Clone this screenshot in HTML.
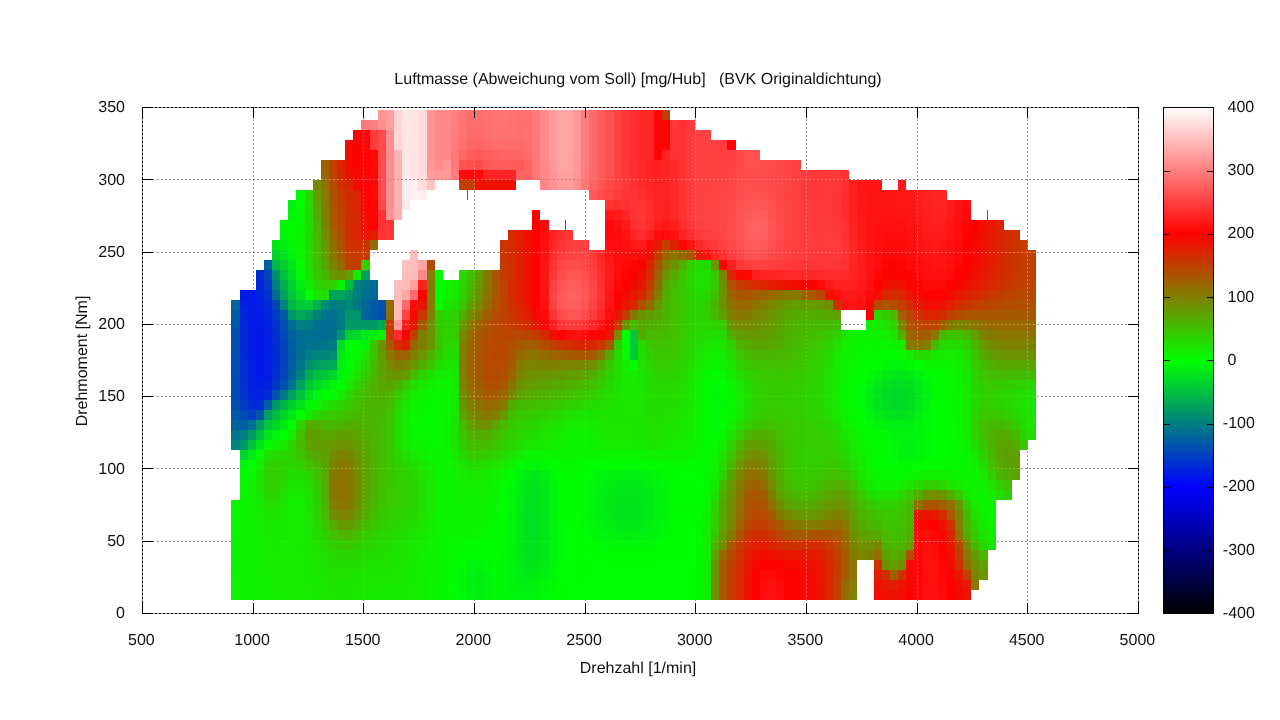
<!DOCTYPE html><html><head><meta charset="utf-8"><title>Luftmasse</title>
<style>html,body{margin:0;padding:0;background:#fff}svg{display:block}text{font-family:"Liberation Sans",sans-serif;font-size:16px;fill:#111;text-rendering:geometricPrecision}</style></head><body>
<svg width="1280" height="720" viewBox="0 0 1280 720">
<rect width="1280" height="720" fill="#fff"/>
<g shape-rendering="crispEdges">
<rect x="378" y="110" width="8" height="10" fill="#ff9797"/>
<rect x="386" y="110" width="8" height="10" fill="#ff9f9f"/>
<rect x="394" y="110" width="8" height="10" fill="#ffd5d5"/>
<rect x="402" y="110" width="8" height="10" fill="#ffe6e6"/>
<rect x="410" y="110" width="8" height="10" fill="#ffe4e4"/>
<rect x="418" y="110" width="9" height="10" fill="#ffdbdb"/>
<rect x="427" y="110" width="8" height="10" fill="#ff9595"/>
<rect x="435" y="110" width="16" height="10" fill="#ff8989"/>
<rect x="451" y="110" width="8" height="10" fill="#ff7e7e"/>
<rect x="459" y="110" width="8" height="10" fill="#ff7474"/>
<rect x="467" y="110" width="16" height="10" fill="#ff6e6e"/>
<rect x="483" y="110" width="9" height="10" fill="#ff7272"/>
<rect x="492" y="110" width="8" height="10" fill="#ff7575"/>
<rect x="500" y="110" width="8" height="10" fill="#ff7676"/>
<rect x="508" y="110" width="8" height="10" fill="#ff7373"/>
<rect x="516" y="110" width="8" height="10" fill="#ff7070"/>
<rect x="524" y="110" width="8" height="10" fill="#ff7171"/>
<rect x="532" y="110" width="8" height="10" fill="#ff7a7a"/>
<rect x="540" y="110" width="9" height="10" fill="#ff8b8b"/>
<rect x="549" y="110" width="8" height="10" fill="#ff9c9c"/>
<rect x="557" y="110" width="8" height="10" fill="#ffa7a7"/>
<rect x="565" y="110" width="8" height="10" fill="#ffa6a6"/>
<rect x="573" y="110" width="8" height="10" fill="#ff9898"/>
<rect x="581" y="110" width="8" height="10" fill="#ff7e7e"/>
<rect x="589" y="110" width="8" height="10" fill="#ff6b6b"/>
<rect x="597" y="110" width="8" height="10" fill="#ff5d5d"/>
<rect x="605" y="110" width="9" height="10" fill="#ff5050"/>
<rect x="614" y="110" width="8" height="10" fill="#ff4343"/>
<rect x="622" y="110" width="8" height="10" fill="#ff3737"/>
<rect x="630" y="110" width="8" height="10" fill="#ff2e2e"/>
<rect x="638" y="110" width="8" height="10" fill="#ff2626"/>
<rect x="646" y="110" width="8" height="10" fill="#ff2727"/>
<rect x="654" y="110" width="8" height="10" fill="#ff0404"/>
<rect x="662" y="110" width="8" height="10" fill="#bf4000"/>
<rect x="361" y="120" width="9" height="10" fill="#ff7b7b"/>
<rect x="370" y="120" width="8" height="10" fill="#ff8181"/>
<rect x="378" y="120" width="8" height="10" fill="#ff8f8f"/>
<rect x="386" y="120" width="8" height="10" fill="#ff9c9c"/>
<rect x="394" y="120" width="8" height="10" fill="#ffd6d6"/>
<rect x="402" y="120" width="8" height="10" fill="#ffe6e6"/>
<rect x="410" y="120" width="8" height="10" fill="#ffe4e4"/>
<rect x="418" y="120" width="9" height="10" fill="#ffdbdb"/>
<rect x="427" y="120" width="8" height="10" fill="#ff9595"/>
<rect x="435" y="120" width="16" height="10" fill="#ff8989"/>
<rect x="451" y="120" width="8" height="10" fill="#ff7e7e"/>
<rect x="459" y="120" width="8" height="10" fill="#ff7373"/>
<rect x="467" y="120" width="8" height="10" fill="#ff6e6e"/>
<rect x="475" y="120" width="8" height="10" fill="#ff6d6d"/>
<rect x="483" y="120" width="9" height="10" fill="#ff7171"/>
<rect x="492" y="120" width="8" height="10" fill="#ff7474"/>
<rect x="500" y="120" width="8" height="10" fill="#ff7575"/>
<rect x="508" y="120" width="8" height="10" fill="#ff7272"/>
<rect x="516" y="120" width="8" height="10" fill="#ff6f6f"/>
<rect x="524" y="120" width="8" height="10" fill="#ff7171"/>
<rect x="532" y="120" width="8" height="10" fill="#ff7a7a"/>
<rect x="540" y="120" width="9" height="10" fill="#ff8b8b"/>
<rect x="549" y="120" width="8" height="10" fill="#ff9c9c"/>
<rect x="557" y="120" width="8" height="10" fill="#ffa7a7"/>
<rect x="565" y="120" width="8" height="10" fill="#ffa6a6"/>
<rect x="573" y="120" width="8" height="10" fill="#ff9898"/>
<rect x="581" y="120" width="8" height="10" fill="#ff7e7e"/>
<rect x="589" y="120" width="8" height="10" fill="#ff6b6b"/>
<rect x="597" y="120" width="8" height="10" fill="#ff5d5d"/>
<rect x="605" y="120" width="9" height="10" fill="#ff5050"/>
<rect x="614" y="120" width="8" height="10" fill="#ff4343"/>
<rect x="622" y="120" width="8" height="10" fill="#ff3737"/>
<rect x="630" y="120" width="8" height="10" fill="#ff2e2e"/>
<rect x="638" y="120" width="8" height="10" fill="#ff2626"/>
<rect x="646" y="120" width="8" height="10" fill="#ff2727"/>
<rect x="654" y="120" width="8" height="10" fill="#ff0404"/>
<rect x="662" y="120" width="8" height="10" fill="#f90600"/>
<rect x="670" y="120" width="9" height="10" fill="#ff3737"/>
<rect x="679" y="120" width="8" height="10" fill="#ff3131"/>
<rect x="687" y="120" width="8" height="10" fill="#ff3a3a"/>
<rect x="353" y="130" width="8" height="10" fill="#fb0400"/>
<rect x="361" y="130" width="9" height="10" fill="#ff0505"/>
<rect x="370" y="130" width="8" height="10" fill="#ff3c3c"/>
<rect x="378" y="130" width="8" height="10" fill="#ff4b4b"/>
<rect x="386" y="130" width="8" height="10" fill="#ff8f8f"/>
<rect x="394" y="130" width="8" height="10" fill="#ffd7d7"/>
<rect x="402" y="130" width="8" height="10" fill="#ffe6e6"/>
<rect x="410" y="130" width="8" height="10" fill="#ffe4e4"/>
<rect x="418" y="130" width="9" height="10" fill="#ffdbdb"/>
<rect x="427" y="130" width="8" height="10" fill="#ff9595"/>
<rect x="435" y="130" width="16" height="10" fill="#ff8989"/>
<rect x="451" y="130" width="8" height="10" fill="#ff7d7d"/>
<rect x="459" y="130" width="8" height="10" fill="#ff7272"/>
<rect x="467" y="130" width="16" height="10" fill="#ff6b6b"/>
<rect x="483" y="130" width="9" height="10" fill="#ff6e6e"/>
<rect x="492" y="130" width="16" height="10" fill="#ff7272"/>
<rect x="508" y="130" width="8" height="10" fill="#ff7070"/>
<rect x="516" y="130" width="8" height="10" fill="#ff6d6d"/>
<rect x="524" y="130" width="8" height="10" fill="#ff7070"/>
<rect x="532" y="130" width="8" height="10" fill="#ff7a7a"/>
<rect x="540" y="130" width="9" height="10" fill="#ff8b8b"/>
<rect x="549" y="130" width="8" height="10" fill="#ff9c9c"/>
<rect x="557" y="130" width="8" height="10" fill="#ffa7a7"/>
<rect x="565" y="130" width="8" height="10" fill="#ffa6a6"/>
<rect x="573" y="130" width="8" height="10" fill="#ff9898"/>
<rect x="581" y="130" width="8" height="10" fill="#ff7e7e"/>
<rect x="589" y="130" width="8" height="10" fill="#ff6b6b"/>
<rect x="597" y="130" width="8" height="10" fill="#ff5d5d"/>
<rect x="605" y="130" width="9" height="10" fill="#ff5050"/>
<rect x="614" y="130" width="8" height="10" fill="#ff4343"/>
<rect x="622" y="130" width="8" height="10" fill="#ff3737"/>
<rect x="630" y="130" width="8" height="10" fill="#ff2e2e"/>
<rect x="638" y="130" width="16" height="10" fill="#ff2727"/>
<rect x="654" y="130" width="8" height="10" fill="#ff0404"/>
<rect x="662" y="130" width="8" height="10" fill="#f90600"/>
<rect x="670" y="130" width="9" height="10" fill="#ff3636"/>
<rect x="679" y="130" width="8" height="10" fill="#ff3333"/>
<rect x="687" y="130" width="8" height="10" fill="#ff3b3b"/>
<rect x="695" y="130" width="8" height="10" fill="#ff3f3f"/>
<rect x="703" y="130" width="8" height="10" fill="#ff4141"/>
<rect x="345" y="140" width="8" height="10" fill="#f50a00"/>
<rect x="353" y="140" width="8" height="10" fill="#fa0500"/>
<rect x="361" y="140" width="9" height="10" fill="#ff0505"/>
<rect x="370" y="140" width="8" height="10" fill="#ff3a3a"/>
<rect x="378" y="140" width="8" height="10" fill="#ff4a4a"/>
<rect x="386" y="140" width="8" height="10" fill="#ff8d8d"/>
<rect x="394" y="140" width="8" height="10" fill="#ffd5d5"/>
<rect x="402" y="140" width="8" height="10" fill="#ffe6e6"/>
<rect x="410" y="140" width="8" height="10" fill="#ffe4e4"/>
<rect x="418" y="140" width="9" height="10" fill="#ffdbdb"/>
<rect x="427" y="140" width="8" height="10" fill="#ff9595"/>
<rect x="435" y="140" width="8" height="10" fill="#ff8989"/>
<rect x="443" y="140" width="8" height="10" fill="#ff8888"/>
<rect x="451" y="140" width="8" height="10" fill="#ff7b7b"/>
<rect x="459" y="140" width="8" height="10" fill="#ff6e6e"/>
<rect x="467" y="140" width="8" height="10" fill="#ff6666"/>
<rect x="475" y="140" width="8" height="10" fill="#ff6464"/>
<rect x="483" y="140" width="9" height="10" fill="#ff6868"/>
<rect x="492" y="140" width="8" height="10" fill="#ff6b6b"/>
<rect x="500" y="140" width="8" height="10" fill="#ff6c6c"/>
<rect x="508" y="140" width="8" height="10" fill="#ff6b6b"/>
<rect x="516" y="140" width="8" height="10" fill="#ff6a6a"/>
<rect x="524" y="140" width="8" height="10" fill="#ff6d6d"/>
<rect x="532" y="140" width="8" height="10" fill="#ff7979"/>
<rect x="540" y="140" width="9" height="10" fill="#ff8b8b"/>
<rect x="549" y="140" width="8" height="10" fill="#ff9c9c"/>
<rect x="557" y="140" width="8" height="10" fill="#ffa7a7"/>
<rect x="565" y="140" width="8" height="10" fill="#ffa6a6"/>
<rect x="573" y="140" width="8" height="10" fill="#ff9898"/>
<rect x="581" y="140" width="8" height="10" fill="#ff7e7e"/>
<rect x="589" y="140" width="8" height="10" fill="#ff6b6b"/>
<rect x="597" y="140" width="8" height="10" fill="#ff5d5d"/>
<rect x="605" y="140" width="9" height="10" fill="#ff5050"/>
<rect x="614" y="140" width="8" height="10" fill="#ff4343"/>
<rect x="622" y="140" width="8" height="10" fill="#ff3737"/>
<rect x="630" y="140" width="8" height="10" fill="#ff2e2e"/>
<rect x="638" y="140" width="8" height="10" fill="#ff2727"/>
<rect x="646" y="140" width="8" height="10" fill="#ff2828"/>
<rect x="654" y="140" width="8" height="10" fill="#ff0404"/>
<rect x="662" y="140" width="8" height="10" fill="#f90600"/>
<rect x="670" y="140" width="17" height="10" fill="#ff3434"/>
<rect x="687" y="140" width="8" height="10" fill="#ff3c3c"/>
<rect x="695" y="140" width="8" height="10" fill="#ff4040"/>
<rect x="703" y="140" width="8" height="10" fill="#ff4141"/>
<rect x="711" y="140" width="8" height="10" fill="#ff3e3e"/>
<rect x="719" y="140" width="8" height="10" fill="#ff3b3b"/>
<rect x="727" y="140" width="9" height="10" fill="#ff0606"/>
<rect x="345" y="150" width="8" height="10" fill="#f40b00"/>
<rect x="353" y="150" width="8" height="10" fill="#fa0500"/>
<rect x="361" y="150" width="9" height="10" fill="#ff0404"/>
<rect x="370" y="150" width="8" height="10" fill="#ff0808"/>
<rect x="378" y="150" width="8" height="10" fill="#ff4c4c"/>
<rect x="386" y="150" width="8" height="10" fill="#ff8f8f"/>
<rect x="394" y="150" width="8" height="10" fill="#ffb3b3"/>
<rect x="402" y="150" width="8" height="10" fill="#ffe7e7"/>
<rect x="410" y="150" width="8" height="10" fill="#ffe4e4"/>
<rect x="418" y="150" width="9" height="10" fill="#ffdbdb"/>
<rect x="427" y="150" width="8" height="10" fill="#ff9595"/>
<rect x="435" y="150" width="8" height="10" fill="#ff8989"/>
<rect x="443" y="150" width="8" height="10" fill="#ff8888"/>
<rect x="451" y="150" width="8" height="10" fill="#ff7878"/>
<rect x="459" y="150" width="8" height="10" fill="#ff6666"/>
<rect x="467" y="150" width="8" height="10" fill="#ff5c5c"/>
<rect x="475" y="150" width="8" height="10" fill="#ff5a5a"/>
<rect x="483" y="150" width="9" height="10" fill="#ff5d5d"/>
<rect x="492" y="150" width="8" height="10" fill="#ff6161"/>
<rect x="500" y="150" width="16" height="10" fill="#ff6363"/>
<rect x="516" y="150" width="8" height="10" fill="#ff6565"/>
<rect x="524" y="150" width="8" height="10" fill="#ff6b6b"/>
<rect x="532" y="150" width="8" height="10" fill="#ff7878"/>
<rect x="540" y="150" width="9" height="10" fill="#ff8a8a"/>
<rect x="549" y="150" width="8" height="10" fill="#ff9c9c"/>
<rect x="557" y="150" width="8" height="10" fill="#ffa6a6"/>
<rect x="565" y="150" width="8" height="10" fill="#ffa5a5"/>
<rect x="573" y="150" width="8" height="10" fill="#ff9898"/>
<rect x="581" y="150" width="8" height="10" fill="#ff7e7e"/>
<rect x="589" y="150" width="8" height="10" fill="#ff6b6b"/>
<rect x="597" y="150" width="8" height="10" fill="#ff5d5d"/>
<rect x="605" y="150" width="9" height="10" fill="#ff5050"/>
<rect x="614" y="150" width="8" height="10" fill="#ff4343"/>
<rect x="622" y="150" width="8" height="10" fill="#ff3737"/>
<rect x="630" y="150" width="8" height="10" fill="#ff2e2e"/>
<rect x="638" y="150" width="8" height="10" fill="#ff2727"/>
<rect x="646" y="150" width="8" height="10" fill="#ff2828"/>
<rect x="654" y="150" width="8" height="10" fill="#ff0404"/>
<rect x="662" y="150" width="8" height="10" fill="#ff2323"/>
<rect x="670" y="150" width="9" height="10" fill="#ff3232"/>
<rect x="679" y="150" width="8" height="10" fill="#ff3535"/>
<rect x="687" y="150" width="8" height="10" fill="#ff3c3c"/>
<rect x="695" y="150" width="8" height="10" fill="#ff4040"/>
<rect x="703" y="150" width="8" height="10" fill="#ff4141"/>
<rect x="711" y="150" width="8" height="10" fill="#ff3f3f"/>
<rect x="719" y="150" width="8" height="10" fill="#ff3e3e"/>
<rect x="727" y="150" width="9" height="10" fill="#ff4040"/>
<rect x="736" y="150" width="8" height="10" fill="#ff4747"/>
<rect x="744" y="150" width="8" height="10" fill="#ff4f4f"/>
<rect x="752" y="150" width="8" height="10" fill="#ff5151"/>
<rect x="321" y="160" width="8" height="10" fill="#9e6100"/>
<rect x="329" y="160" width="8" height="10" fill="#c03f00"/>
<rect x="337" y="160" width="8" height="10" fill="#de2100"/>
<rect x="345" y="160" width="8" height="10" fill="#f20d00"/>
<rect x="353" y="160" width="8" height="10" fill="#fa0500"/>
<rect x="361" y="160" width="9" height="10" fill="#ff0303"/>
<rect x="370" y="160" width="8" height="10" fill="#ff0707"/>
<rect x="378" y="160" width="8" height="10" fill="#ff4d4d"/>
<rect x="386" y="160" width="8" height="10" fill="#ff9090"/>
<rect x="394" y="160" width="8" height="10" fill="#ffb0b0"/>
<rect x="402" y="160" width="8" height="10" fill="#ffe8e8"/>
<rect x="410" y="160" width="8" height="10" fill="#ffe4e4"/>
<rect x="418" y="160" width="9" height="10" fill="#ffdbdb"/>
<rect x="427" y="160" width="8" height="10" fill="#ff9797"/>
<rect x="435" y="160" width="8" height="10" fill="#ff8c8c"/>
<rect x="443" y="160" width="8" height="10" fill="#ff9797"/>
<rect x="451" y="160" width="8" height="10" fill="#ff7a7a"/>
<rect x="459" y="160" width="8" height="10" fill="#ff5454"/>
<rect x="467" y="160" width="8" height="10" fill="#ff4e4e"/>
<rect x="475" y="160" width="8" height="10" fill="#ff4a4a"/>
<rect x="483" y="160" width="9" height="10" fill="#ff5858"/>
<rect x="492" y="160" width="8" height="10" fill="#ff5b5b"/>
<rect x="500" y="160" width="8" height="10" fill="#ff5c5c"/>
<rect x="508" y="160" width="8" height="10" fill="#ff5b5b"/>
<rect x="516" y="160" width="8" height="10" fill="#ff5a5a"/>
<rect x="524" y="160" width="8" height="10" fill="#ff6262"/>
<rect x="532" y="160" width="8" height="10" fill="#ff7777"/>
<rect x="540" y="160" width="9" height="10" fill="#ff8989"/>
<rect x="549" y="160" width="8" height="10" fill="#ff9999"/>
<rect x="557" y="160" width="8" height="10" fill="#ffa4a4"/>
<rect x="565" y="160" width="8" height="10" fill="#ffa3a3"/>
<rect x="573" y="160" width="8" height="10" fill="#ff9696"/>
<rect x="581" y="160" width="8" height="10" fill="#ff7e7e"/>
<rect x="589" y="160" width="8" height="10" fill="#ff6b6b"/>
<rect x="597" y="160" width="8" height="10" fill="#ff5d5d"/>
<rect x="605" y="160" width="9" height="10" fill="#ff5050"/>
<rect x="614" y="160" width="8" height="10" fill="#ff4343"/>
<rect x="622" y="160" width="8" height="10" fill="#ff3737"/>
<rect x="630" y="160" width="8" height="10" fill="#ff2e2e"/>
<rect x="638" y="160" width="8" height="10" fill="#ff2828"/>
<rect x="646" y="160" width="8" height="10" fill="#ff2323"/>
<rect x="654" y="160" width="8" height="10" fill="#ff2020"/>
<rect x="662" y="160" width="8" height="10" fill="#ff2424"/>
<rect x="670" y="160" width="9" height="10" fill="#ff2c2c"/>
<rect x="679" y="160" width="8" height="10" fill="#ff3535"/>
<rect x="687" y="160" width="8" height="10" fill="#ff3c3c"/>
<rect x="695" y="160" width="8" height="10" fill="#ff4141"/>
<rect x="703" y="160" width="8" height="10" fill="#ff4242"/>
<rect x="711" y="160" width="8" height="10" fill="#ff4141"/>
<rect x="719" y="160" width="8" height="10" fill="#ff4040"/>
<rect x="727" y="160" width="9" height="10" fill="#ff4343"/>
<rect x="736" y="160" width="8" height="10" fill="#ff4949"/>
<rect x="744" y="160" width="8" height="10" fill="#ff4e4e"/>
<rect x="752" y="160" width="8" height="10" fill="#ff4f4f"/>
<rect x="760" y="160" width="8" height="10" fill="#ff4d4d"/>
<rect x="768" y="160" width="8" height="10" fill="#ff4b4b"/>
<rect x="776" y="160" width="8" height="10" fill="#ff4949"/>
<rect x="784" y="160" width="8" height="10" fill="#ff4646"/>
<rect x="792" y="160" width="9" height="10" fill="#ff4242"/>
<rect x="321" y="170" width="8" height="10" fill="#976800"/>
<rect x="329" y="170" width="8" height="10" fill="#ba4500"/>
<rect x="337" y="170" width="8" height="10" fill="#d62900"/>
<rect x="345" y="170" width="8" height="10" fill="#ef1000"/>
<rect x="353" y="170" width="8" height="10" fill="#f90600"/>
<rect x="361" y="170" width="9" height="10" fill="#ff0303"/>
<rect x="370" y="170" width="8" height="10" fill="#ff0707"/>
<rect x="378" y="170" width="8" height="10" fill="#ff4d4d"/>
<rect x="386" y="170" width="8" height="10" fill="#ff9090"/>
<rect x="394" y="170" width="8" height="10" fill="#ffb0b0"/>
<rect x="402" y="170" width="8" height="10" fill="#ffe9e9"/>
<rect x="410" y="170" width="8" height="10" fill="#ffe6e6"/>
<rect x="418" y="170" width="9" height="10" fill="#ffdbdb"/>
<rect x="427" y="170" width="8" height="10" fill="#ff9c9c"/>
<rect x="435" y="170" width="8" height="10" fill="#ff9898"/>
<rect x="443" y="170" width="8" height="10" fill="#ff9999"/>
<rect x="451" y="170" width="8" height="10" fill="#ff7c7c"/>
<rect x="459" y="170" width="24" height="10" fill="#ff0909"/>
<rect x="483" y="170" width="33" height="10" fill="#ff2424"/>
<rect x="516" y="170" width="8" height="10" fill="#ff6262"/>
<rect x="524" y="170" width="8" height="10" fill="#ff6464"/>
<rect x="532" y="170" width="8" height="10" fill="#ff7878"/>
<rect x="540" y="170" width="9" height="10" fill="#ff8888"/>
<rect x="549" y="170" width="8" height="10" fill="#ff9696"/>
<rect x="557" y="170" width="16" height="10" fill="#ffa0a0"/>
<rect x="573" y="170" width="8" height="10" fill="#ff9494"/>
<rect x="581" y="170" width="8" height="10" fill="#ff7c7c"/>
<rect x="589" y="170" width="8" height="10" fill="#ff6969"/>
<rect x="597" y="170" width="8" height="10" fill="#ff5b5b"/>
<rect x="605" y="170" width="9" height="10" fill="#ff4e4e"/>
<rect x="614" y="170" width="8" height="10" fill="#ff4242"/>
<rect x="622" y="170" width="8" height="10" fill="#ff3737"/>
<rect x="630" y="170" width="8" height="10" fill="#ff2f2f"/>
<rect x="638" y="170" width="8" height="10" fill="#ff2929"/>
<rect x="646" y="170" width="8" height="10" fill="#ff2323"/>
<rect x="654" y="170" width="8" height="10" fill="#ff2121"/>
<rect x="662" y="170" width="8" height="10" fill="#ff2424"/>
<rect x="670" y="170" width="9" height="10" fill="#ff2c2c"/>
<rect x="679" y="170" width="8" height="10" fill="#ff3535"/>
<rect x="687" y="170" width="8" height="10" fill="#ff3c3c"/>
<rect x="695" y="170" width="8" height="10" fill="#ff4141"/>
<rect x="703" y="170" width="24" height="10" fill="#ff4242"/>
<rect x="727" y="170" width="9" height="10" fill="#ff4646"/>
<rect x="736" y="170" width="8" height="10" fill="#ff4a4a"/>
<rect x="744" y="170" width="16" height="10" fill="#ff4d4d"/>
<rect x="760" y="170" width="8" height="10" fill="#ff4c4c"/>
<rect x="768" y="170" width="8" height="10" fill="#ff4a4a"/>
<rect x="776" y="170" width="8" height="10" fill="#ff4848"/>
<rect x="784" y="170" width="8" height="10" fill="#ff4545"/>
<rect x="792" y="170" width="9" height="10" fill="#ff4141"/>
<rect x="801" y="170" width="8" height="10" fill="#ff3b3b"/>
<rect x="809" y="170" width="16" height="10" fill="#ff3737"/>
<rect x="825" y="170" width="8" height="10" fill="#ff3838"/>
<rect x="833" y="170" width="8" height="10" fill="#ff3737"/>
<rect x="841" y="170" width="8" height="10" fill="#ff3131"/>
<rect x="313" y="180" width="8" height="10" fill="#748b00"/>
<rect x="321" y="180" width="8" height="10" fill="#8f7000"/>
<rect x="329" y="180" width="8" height="10" fill="#b34c00"/>
<rect x="337" y="180" width="8" height="10" fill="#ce3100"/>
<rect x="345" y="180" width="8" height="10" fill="#db2400"/>
<rect x="353" y="180" width="8" height="10" fill="#f60900"/>
<rect x="361" y="180" width="9" height="10" fill="#ff0303"/>
<rect x="370" y="180" width="8" height="10" fill="#ff0707"/>
<rect x="378" y="180" width="8" height="10" fill="#ff4d4d"/>
<rect x="386" y="180" width="8" height="10" fill="#ff9090"/>
<rect x="394" y="180" width="8" height="10" fill="#ffb0b0"/>
<rect x="402" y="180" width="8" height="10" fill="#ffecec"/>
<rect x="410" y="180" width="8" height="10" fill="#ffefef"/>
<rect x="418" y="180" width="9" height="10" fill="#ffdede"/>
<rect x="427" y="180" width="8" height="10" fill="#ffc1c1"/>
<rect x="459" y="180" width="16" height="10" fill="#bf4000"/>
<rect x="475" y="180" width="41" height="10" fill="#ed1200"/>
<rect x="540" y="180" width="9" height="10" fill="#ff8686"/>
<rect x="549" y="180" width="8" height="10" fill="#ff9292"/>
<rect x="557" y="180" width="8" height="10" fill="#ff9b9b"/>
<rect x="565" y="180" width="8" height="10" fill="#ff9c9c"/>
<rect x="573" y="180" width="8" height="10" fill="#ff9090"/>
<rect x="581" y="180" width="8" height="10" fill="#ff7979"/>
<rect x="589" y="180" width="8" height="10" fill="#ff6464"/>
<rect x="597" y="180" width="8" height="10" fill="#ff5656"/>
<rect x="605" y="180" width="9" height="10" fill="#ff4a4a"/>
<rect x="614" y="180" width="8" height="10" fill="#ff4040"/>
<rect x="622" y="180" width="8" height="10" fill="#ff3737"/>
<rect x="630" y="180" width="8" height="10" fill="#ff3030"/>
<rect x="638" y="180" width="8" height="10" fill="#ff2b2b"/>
<rect x="646" y="180" width="8" height="10" fill="#ff2525"/>
<rect x="654" y="180" width="8" height="10" fill="#ff2121"/>
<rect x="662" y="180" width="8" height="10" fill="#ff2323"/>
<rect x="670" y="180" width="9" height="10" fill="#ff2b2b"/>
<rect x="679" y="180" width="8" height="10" fill="#ff3535"/>
<rect x="687" y="180" width="8" height="10" fill="#ff3c3c"/>
<rect x="695" y="180" width="8" height="10" fill="#ff4141"/>
<rect x="703" y="180" width="16" height="10" fill="#ff4343"/>
<rect x="719" y="180" width="8" height="10" fill="#ff4444"/>
<rect x="727" y="180" width="9" height="10" fill="#ff4747"/>
<rect x="736" y="180" width="8" height="10" fill="#ff4b4b"/>
<rect x="744" y="180" width="16" height="10" fill="#ff4e4e"/>
<rect x="760" y="180" width="8" height="10" fill="#ff4d4d"/>
<rect x="768" y="180" width="8" height="10" fill="#ff4a4a"/>
<rect x="776" y="180" width="8" height="10" fill="#ff4747"/>
<rect x="784" y="180" width="8" height="10" fill="#ff4444"/>
<rect x="792" y="180" width="9" height="10" fill="#ff3f3f"/>
<rect x="801" y="180" width="8" height="10" fill="#ff3a3a"/>
<rect x="809" y="180" width="16" height="10" fill="#ff3737"/>
<rect x="825" y="180" width="8" height="10" fill="#ff3838"/>
<rect x="833" y="180" width="8" height="10" fill="#ff3636"/>
<rect x="841" y="180" width="8" height="10" fill="#ff2e2e"/>
<rect x="849" y="180" width="8" height="10" fill="#ff2020"/>
<rect x="857" y="180" width="9" height="10" fill="#ff1616"/>
<rect x="866" y="180" width="16" height="10" fill="#ff1313"/>
<rect x="898" y="180" width="8" height="10" fill="#ff1717"/>
<rect x="296" y="190" width="9" height="10" fill="#00fb04"/>
<rect x="305" y="190" width="8" height="10" fill="#2dd200"/>
<rect x="313" y="190" width="8" height="10" fill="#649b00"/>
<rect x="321" y="190" width="8" height="10" fill="#887700"/>
<rect x="329" y="190" width="8" height="10" fill="#ad5200"/>
<rect x="337" y="190" width="8" height="10" fill="#c63900"/>
<rect x="345" y="190" width="8" height="10" fill="#d32c00"/>
<rect x="353" y="190" width="8" height="10" fill="#dd2200"/>
<rect x="361" y="190" width="9" height="10" fill="#ff0303"/>
<rect x="370" y="190" width="8" height="10" fill="#ff0707"/>
<rect x="378" y="190" width="8" height="10" fill="#ff4d4d"/>
<rect x="386" y="190" width="8" height="10" fill="#ff9090"/>
<rect x="394" y="190" width="8" height="10" fill="#ffafaf"/>
<rect x="402" y="190" width="8" height="10" fill="#ffeded"/>
<rect x="410" y="190" width="8" height="10" fill="#fff2f2"/>
<rect x="418" y="190" width="9" height="10" fill="#ffefef"/>
<rect x="589" y="190" width="8" height="10" fill="#ff5a5a"/>
<rect x="597" y="190" width="8" height="10" fill="#ff4d4d"/>
<rect x="605" y="190" width="9" height="10" fill="#ff4242"/>
<rect x="614" y="190" width="8" height="10" fill="#ff3a3a"/>
<rect x="622" y="190" width="8" height="10" fill="#ff3535"/>
<rect x="630" y="190" width="8" height="10" fill="#ff3333"/>
<rect x="638" y="190" width="8" height="10" fill="#ff2f2f"/>
<rect x="646" y="190" width="8" height="10" fill="#ff2828"/>
<rect x="654" y="190" width="16" height="10" fill="#ff2222"/>
<rect x="670" y="190" width="9" height="10" fill="#ff2a2a"/>
<rect x="679" y="190" width="8" height="10" fill="#ff3434"/>
<rect x="687" y="190" width="8" height="10" fill="#ff3d3d"/>
<rect x="695" y="190" width="8" height="10" fill="#ff4242"/>
<rect x="703" y="190" width="16" height="10" fill="#ff4444"/>
<rect x="719" y="190" width="8" height="10" fill="#ff4545"/>
<rect x="727" y="190" width="9" height="10" fill="#ff4848"/>
<rect x="736" y="190" width="8" height="10" fill="#ff4d4d"/>
<rect x="744" y="190" width="8" height="10" fill="#ff5151"/>
<rect x="752" y="190" width="8" height="10" fill="#ff5252"/>
<rect x="760" y="190" width="8" height="10" fill="#ff5050"/>
<rect x="768" y="190" width="8" height="10" fill="#ff4c4c"/>
<rect x="776" y="190" width="8" height="10" fill="#ff4848"/>
<rect x="784" y="190" width="8" height="10" fill="#ff4343"/>
<rect x="792" y="190" width="9" height="10" fill="#ff3f3f"/>
<rect x="801" y="190" width="8" height="10" fill="#ff3a3a"/>
<rect x="809" y="190" width="16" height="10" fill="#ff3737"/>
<rect x="825" y="190" width="8" height="10" fill="#ff3838"/>
<rect x="833" y="190" width="8" height="10" fill="#ff3535"/>
<rect x="841" y="190" width="8" height="10" fill="#ff2c2c"/>
<rect x="849" y="190" width="8" height="10" fill="#ff1e1e"/>
<rect x="857" y="190" width="9" height="10" fill="#ff1616"/>
<rect x="866" y="190" width="24" height="10" fill="#ff1313"/>
<rect x="890" y="190" width="8" height="10" fill="#ff1515"/>
<rect x="898" y="190" width="8" height="10" fill="#ff1616"/>
<rect x="906" y="190" width="8" height="10" fill="#ff1818"/>
<rect x="914" y="190" width="9" height="10" fill="#ff1c1c"/>
<rect x="923" y="190" width="8" height="10" fill="#ff2121"/>
<rect x="931" y="190" width="8" height="10" fill="#ff2525"/>
<rect x="939" y="190" width="8" height="10" fill="#ff2626"/>
<rect x="288" y="200" width="8" height="10" fill="#00f00f"/>
<rect x="296" y="200" width="9" height="10" fill="#01fe00"/>
<rect x="305" y="200" width="8" height="10" fill="#26d900"/>
<rect x="313" y="200" width="8" height="10" fill="#5aa500"/>
<rect x="321" y="200" width="8" height="10" fill="#837c00"/>
<rect x="329" y="200" width="8" height="10" fill="#aa5500"/>
<rect x="337" y="200" width="8" height="10" fill="#c23d00"/>
<rect x="345" y="200" width="8" height="10" fill="#d12e00"/>
<rect x="353" y="200" width="8" height="10" fill="#db2400"/>
<rect x="361" y="200" width="9" height="10" fill="#ff0000"/>
<rect x="370" y="200" width="8" height="10" fill="#ff0606"/>
<rect x="378" y="200" width="8" height="10" fill="#ff4949"/>
<rect x="386" y="200" width="8" height="10" fill="#ff9090"/>
<rect x="394" y="200" width="8" height="10" fill="#ffafaf"/>
<rect x="402" y="200" width="8" height="10" fill="#ffeaea"/>
<rect x="605" y="200" width="9" height="10" fill="#ff3131"/>
<rect x="614" y="200" width="8" height="10" fill="#ff2d2d"/>
<rect x="622" y="200" width="8" height="10" fill="#ff3030"/>
<rect x="630" y="200" width="16" height="10" fill="#ff3535"/>
<rect x="646" y="200" width="8" height="10" fill="#ff2c2c"/>
<rect x="654" y="200" width="8" height="10" fill="#ff2222"/>
<rect x="662" y="200" width="8" height="10" fill="#ff2121"/>
<rect x="670" y="200" width="9" height="10" fill="#ff2929"/>
<rect x="679" y="200" width="8" height="10" fill="#ff3434"/>
<rect x="687" y="200" width="8" height="10" fill="#ff3d3d"/>
<rect x="695" y="200" width="8" height="10" fill="#ff4343"/>
<rect x="703" y="200" width="16" height="10" fill="#ff4545"/>
<rect x="719" y="200" width="8" height="10" fill="#ff4646"/>
<rect x="727" y="200" width="9" height="10" fill="#ff4a4a"/>
<rect x="736" y="200" width="8" height="10" fill="#ff5050"/>
<rect x="744" y="200" width="8" height="10" fill="#ff5555"/>
<rect x="752" y="200" width="8" height="10" fill="#ff5858"/>
<rect x="760" y="200" width="8" height="10" fill="#ff5656"/>
<rect x="768" y="200" width="8" height="10" fill="#ff4f4f"/>
<rect x="776" y="200" width="8" height="10" fill="#ff4949"/>
<rect x="784" y="200" width="8" height="10" fill="#ff4444"/>
<rect x="792" y="200" width="9" height="10" fill="#ff3f3f"/>
<rect x="801" y="200" width="8" height="10" fill="#ff3b3b"/>
<rect x="809" y="200" width="24" height="10" fill="#ff3838"/>
<rect x="833" y="200" width="8" height="10" fill="#ff3535"/>
<rect x="841" y="200" width="8" height="10" fill="#ff2b2b"/>
<rect x="849" y="200" width="8" height="10" fill="#ff1e1e"/>
<rect x="857" y="200" width="9" height="10" fill="#ff1616"/>
<rect x="866" y="200" width="24" height="10" fill="#ff1313"/>
<rect x="890" y="200" width="8" height="10" fill="#ff1414"/>
<rect x="898" y="200" width="8" height="10" fill="#ff1515"/>
<rect x="906" y="200" width="8" height="10" fill="#ff1717"/>
<rect x="914" y="200" width="9" height="10" fill="#ff1b1b"/>
<rect x="923" y="200" width="8" height="10" fill="#ff2020"/>
<rect x="931" y="200" width="8" height="10" fill="#ff2424"/>
<rect x="939" y="200" width="8" height="10" fill="#ff2222"/>
<rect x="947" y="200" width="8" height="10" fill="#ff1b1b"/>
<rect x="955" y="200" width="8" height="10" fill="#ff1212"/>
<rect x="963" y="200" width="8" height="10" fill="#ff0c0c"/>
<rect x="288" y="210" width="8" height="10" fill="#00f708"/>
<rect x="296" y="210" width="9" height="10" fill="#06f900"/>
<rect x="305" y="210" width="8" height="10" fill="#24db00"/>
<rect x="313" y="210" width="8" height="10" fill="#53ac00"/>
<rect x="321" y="210" width="8" height="10" fill="#807f00"/>
<rect x="329" y="210" width="8" height="10" fill="#a75800"/>
<rect x="337" y="210" width="8" height="10" fill="#bf4000"/>
<rect x="345" y="210" width="8" height="10" fill="#d12e00"/>
<rect x="353" y="210" width="8" height="10" fill="#db2400"/>
<rect x="361" y="210" width="9" height="10" fill="#f40b00"/>
<rect x="370" y="210" width="8" height="10" fill="#ff0505"/>
<rect x="378" y="210" width="8" height="10" fill="#ff3333"/>
<rect x="386" y="210" width="8" height="10" fill="#ff9191"/>
<rect x="394" y="210" width="8" height="10" fill="#ffaeae"/>
<rect x="532" y="210" width="8" height="10" fill="#ff0000"/>
<rect x="605" y="210" width="9" height="10" fill="#ff1717"/>
<rect x="614" y="210" width="8" height="10" fill="#ff1a1a"/>
<rect x="622" y="210" width="8" height="10" fill="#ff2424"/>
<rect x="630" y="210" width="8" height="10" fill="#ff3434"/>
<rect x="638" y="210" width="8" height="10" fill="#ff3838"/>
<rect x="646" y="210" width="8" height="10" fill="#ff2e2e"/>
<rect x="654" y="210" width="8" height="10" fill="#ff2222"/>
<rect x="662" y="210" width="8" height="10" fill="#ff1f1f"/>
<rect x="670" y="210" width="9" height="10" fill="#ff2727"/>
<rect x="679" y="210" width="8" height="10" fill="#ff3333"/>
<rect x="687" y="210" width="8" height="10" fill="#ff3d3d"/>
<rect x="695" y="210" width="8" height="10" fill="#ff4343"/>
<rect x="703" y="210" width="8" height="10" fill="#ff4545"/>
<rect x="711" y="210" width="8" height="10" fill="#ff4646"/>
<rect x="719" y="210" width="8" height="10" fill="#ff4747"/>
<rect x="727" y="210" width="9" height="10" fill="#ff4b4b"/>
<rect x="736" y="210" width="8" height="10" fill="#ff5252"/>
<rect x="744" y="210" width="8" height="10" fill="#ff5a5a"/>
<rect x="752" y="210" width="8" height="10" fill="#ff5e5e"/>
<rect x="760" y="210" width="8" height="10" fill="#ff5c5c"/>
<rect x="768" y="210" width="8" height="10" fill="#ff5353"/>
<rect x="776" y="210" width="8" height="10" fill="#ff4a4a"/>
<rect x="784" y="210" width="8" height="10" fill="#ff4444"/>
<rect x="792" y="210" width="9" height="10" fill="#ff3f3f"/>
<rect x="801" y="210" width="8" height="10" fill="#ff3c3c"/>
<rect x="809" y="210" width="16" height="10" fill="#ff3939"/>
<rect x="825" y="210" width="8" height="10" fill="#ff3838"/>
<rect x="833" y="210" width="8" height="10" fill="#ff3535"/>
<rect x="841" y="210" width="8" height="10" fill="#ff2c2c"/>
<rect x="849" y="210" width="8" height="10" fill="#ff2020"/>
<rect x="857" y="210" width="9" height="10" fill="#ff1717"/>
<rect x="866" y="210" width="8" height="10" fill="#ff1414"/>
<rect x="874" y="210" width="8" height="10" fill="#ff1212"/>
<rect x="882" y="210" width="8" height="10" fill="#ff1111"/>
<rect x="890" y="210" width="8" height="10" fill="#ff1212"/>
<rect x="898" y="210" width="8" height="10" fill="#ff1313"/>
<rect x="906" y="210" width="8" height="10" fill="#ff1515"/>
<rect x="914" y="210" width="9" height="10" fill="#ff1919"/>
<rect x="923" y="210" width="8" height="10" fill="#ff1e1e"/>
<rect x="931" y="210" width="8" height="10" fill="#ff2121"/>
<rect x="939" y="210" width="8" height="10" fill="#ff1f1f"/>
<rect x="947" y="210" width="8" height="10" fill="#ff1818"/>
<rect x="955" y="210" width="8" height="10" fill="#ff1010"/>
<rect x="963" y="210" width="8" height="10" fill="#ff0909"/>
<rect x="280" y="220" width="8" height="10" fill="#00f708"/>
<rect x="288" y="220" width="8" height="10" fill="#00fd02"/>
<rect x="296" y="220" width="9" height="10" fill="#0bf400"/>
<rect x="305" y="220" width="8" height="10" fill="#24db00"/>
<rect x="313" y="220" width="8" height="10" fill="#4bb400"/>
<rect x="321" y="220" width="8" height="10" fill="#7b8400"/>
<rect x="329" y="220" width="8" height="10" fill="#a35c00"/>
<rect x="337" y="220" width="8" height="10" fill="#bc4300"/>
<rect x="345" y="220" width="8" height="10" fill="#d12e00"/>
<rect x="353" y="220" width="8" height="10" fill="#db2400"/>
<rect x="361" y="220" width="9" height="10" fill="#ef1000"/>
<rect x="370" y="220" width="8" height="10" fill="#ff0303"/>
<rect x="378" y="220" width="8" height="10" fill="#ff3232"/>
<rect x="386" y="220" width="8" height="10" fill="#ff3737"/>
<rect x="532" y="220" width="8" height="10" fill="#ff0000"/>
<rect x="540" y="220" width="9" height="10" fill="#ff0808"/>
<rect x="605" y="220" width="9" height="10" fill="#ff0a0a"/>
<rect x="614" y="220" width="8" height="10" fill="#ff0e0e"/>
<rect x="622" y="220" width="8" height="10" fill="#ff1a1a"/>
<rect x="630" y="220" width="8" height="10" fill="#ff2f2f"/>
<rect x="638" y="220" width="8" height="10" fill="#ff3636"/>
<rect x="646" y="220" width="8" height="10" fill="#ff2c2c"/>
<rect x="654" y="220" width="8" height="10" fill="#ff1c1c"/>
<rect x="662" y="220" width="8" height="10" fill="#ff1818"/>
<rect x="670" y="220" width="9" height="10" fill="#ff2020"/>
<rect x="679" y="220" width="8" height="10" fill="#ff2e2e"/>
<rect x="687" y="220" width="8" height="10" fill="#ff3939"/>
<rect x="695" y="220" width="8" height="10" fill="#ff4040"/>
<rect x="703" y="220" width="8" height="10" fill="#ff4444"/>
<rect x="711" y="220" width="8" height="10" fill="#ff4646"/>
<rect x="719" y="220" width="8" height="10" fill="#ff4848"/>
<rect x="727" y="220" width="9" height="10" fill="#ff4d4d"/>
<rect x="736" y="220" width="8" height="10" fill="#ff5454"/>
<rect x="744" y="220" width="8" height="10" fill="#ff5d5d"/>
<rect x="752" y="220" width="8" height="10" fill="#ff6262"/>
<rect x="760" y="220" width="8" height="10" fill="#ff6060"/>
<rect x="768" y="220" width="8" height="10" fill="#ff5555"/>
<rect x="776" y="220" width="8" height="10" fill="#ff4b4b"/>
<rect x="784" y="220" width="8" height="10" fill="#ff4444"/>
<rect x="792" y="220" width="9" height="10" fill="#ff4040"/>
<rect x="801" y="220" width="8" height="10" fill="#ff3c3c"/>
<rect x="809" y="220" width="24" height="10" fill="#ff3a3a"/>
<rect x="833" y="220" width="8" height="10" fill="#ff3737"/>
<rect x="841" y="220" width="8" height="10" fill="#ff2f2f"/>
<rect x="849" y="220" width="8" height="10" fill="#ff2222"/>
<rect x="857" y="220" width="9" height="10" fill="#ff1818"/>
<rect x="866" y="220" width="8" height="10" fill="#ff1414"/>
<rect x="874" y="220" width="8" height="10" fill="#ff1111"/>
<rect x="882" y="220" width="16" height="10" fill="#ff0f0f"/>
<rect x="898" y="220" width="8" height="10" fill="#ff1010"/>
<rect x="906" y="220" width="8" height="10" fill="#ff1313"/>
<rect x="914" y="220" width="9" height="10" fill="#ff1717"/>
<rect x="923" y="220" width="8" height="10" fill="#ff1c1c"/>
<rect x="931" y="220" width="8" height="10" fill="#ff1e1e"/>
<rect x="939" y="220" width="8" height="10" fill="#ff1c1c"/>
<rect x="947" y="220" width="8" height="10" fill="#ff1515"/>
<rect x="955" y="220" width="8" height="10" fill="#ff0d0d"/>
<rect x="963" y="220" width="8" height="10" fill="#ff0505"/>
<rect x="971" y="220" width="8" height="10" fill="#fb0400"/>
<rect x="979" y="220" width="9" height="10" fill="#f00f00"/>
<rect x="988" y="220" width="8" height="10" fill="#e61900"/>
<rect x="996" y="220" width="8" height="10" fill="#de2100"/>
<rect x="280" y="230" width="8" height="10" fill="#00f609"/>
<rect x="288" y="230" width="8" height="10" fill="#00fe01"/>
<rect x="296" y="230" width="9" height="10" fill="#0df200"/>
<rect x="305" y="230" width="8" height="10" fill="#25da00"/>
<rect x="313" y="230" width="8" height="10" fill="#47b800"/>
<rect x="321" y="230" width="8" height="10" fill="#738c00"/>
<rect x="329" y="230" width="8" height="10" fill="#986700"/>
<rect x="337" y="230" width="8" height="10" fill="#b74800"/>
<rect x="345" y="230" width="8" height="10" fill="#d12e00"/>
<rect x="353" y="230" width="8" height="10" fill="#d92600"/>
<rect x="361" y="230" width="9" height="10" fill="#e91600"/>
<rect x="370" y="230" width="8" height="10" fill="#e01f00"/>
<rect x="378" y="230" width="8" height="10" fill="#ff3333"/>
<rect x="386" y="230" width="8" height="10" fill="#ff3737"/>
<rect x="508" y="230" width="8" height="10" fill="#d52a00"/>
<rect x="516" y="230" width="8" height="10" fill="#e11e00"/>
<rect x="524" y="230" width="8" height="10" fill="#f10e00"/>
<rect x="532" y="230" width="8" height="10" fill="#fe0100"/>
<rect x="540" y="230" width="9" height="10" fill="#ff0c0c"/>
<rect x="549" y="230" width="8" height="10" fill="#ff2020"/>
<rect x="557" y="230" width="8" height="10" fill="#ff2f2f"/>
<rect x="565" y="230" width="8" height="10" fill="#ff3737"/>
<rect x="605" y="230" width="9" height="10" fill="#ff0808"/>
<rect x="614" y="230" width="8" height="10" fill="#ff0a0a"/>
<rect x="622" y="230" width="8" height="10" fill="#ff1313"/>
<rect x="630" y="230" width="8" height="10" fill="#ff2525"/>
<rect x="638" y="230" width="8" height="10" fill="#ff2d2d"/>
<rect x="646" y="230" width="8" height="10" fill="#ff2222"/>
<rect x="654" y="230" width="8" height="10" fill="#ff0e0e"/>
<rect x="662" y="230" width="8" height="10" fill="#ff0909"/>
<rect x="670" y="230" width="9" height="10" fill="#ff1111"/>
<rect x="679" y="230" width="8" height="10" fill="#ff2323"/>
<rect x="687" y="230" width="8" height="10" fill="#ff2f2f"/>
<rect x="695" y="230" width="8" height="10" fill="#ff3939"/>
<rect x="703" y="230" width="8" height="10" fill="#ff3e3e"/>
<rect x="711" y="230" width="8" height="10" fill="#ff4242"/>
<rect x="719" y="230" width="8" height="10" fill="#ff4646"/>
<rect x="727" y="230" width="9" height="10" fill="#ff4c4c"/>
<rect x="736" y="230" width="8" height="10" fill="#ff5454"/>
<rect x="744" y="230" width="8" height="10" fill="#ff5d5d"/>
<rect x="752" y="230" width="8" height="10" fill="#ff6262"/>
<rect x="760" y="230" width="8" height="10" fill="#ff5f5f"/>
<rect x="768" y="230" width="8" height="10" fill="#ff5555"/>
<rect x="776" y="230" width="8" height="10" fill="#ff4b4b"/>
<rect x="784" y="230" width="8" height="10" fill="#ff4444"/>
<rect x="792" y="230" width="9" height="10" fill="#ff4040"/>
<rect x="801" y="230" width="8" height="10" fill="#ff3d3d"/>
<rect x="809" y="230" width="8" height="10" fill="#ff3b3b"/>
<rect x="817" y="230" width="8" height="10" fill="#ff3a3a"/>
<rect x="825" y="230" width="8" height="10" fill="#ff3b3b"/>
<rect x="833" y="230" width="8" height="10" fill="#ff3939"/>
<rect x="841" y="230" width="8" height="10" fill="#ff3232"/>
<rect x="849" y="230" width="8" height="10" fill="#ff2424"/>
<rect x="857" y="230" width="9" height="10" fill="#ff1a1a"/>
<rect x="866" y="230" width="8" height="10" fill="#ff1414"/>
<rect x="874" y="230" width="8" height="10" fill="#ff1010"/>
<rect x="882" y="230" width="8" height="10" fill="#ff0d0d"/>
<rect x="890" y="230" width="8" height="10" fill="#ff0c0c"/>
<rect x="898" y="230" width="8" height="10" fill="#ff0d0d"/>
<rect x="906" y="230" width="8" height="10" fill="#ff1010"/>
<rect x="914" y="230" width="9" height="10" fill="#ff1414"/>
<rect x="923" y="230" width="8" height="10" fill="#ff1919"/>
<rect x="931" y="230" width="8" height="10" fill="#ff1b1b"/>
<rect x="939" y="230" width="8" height="10" fill="#ff1919"/>
<rect x="947" y="230" width="8" height="10" fill="#ff1313"/>
<rect x="955" y="230" width="8" height="10" fill="#ff0b0b"/>
<rect x="963" y="230" width="8" height="10" fill="#ff0303"/>
<rect x="971" y="230" width="8" height="10" fill="#f80700"/>
<rect x="979" y="230" width="9" height="10" fill="#ee1100"/>
<rect x="988" y="230" width="8" height="10" fill="#e51a00"/>
<rect x="996" y="230" width="8" height="10" fill="#dc2300"/>
<rect x="1004" y="230" width="8" height="10" fill="#d42b00"/>
<rect x="1012" y="230" width="8" height="10" fill="#cd3200"/>
<rect x="272" y="240" width="8" height="10" fill="#00e619"/>
<rect x="280" y="240" width="8" height="10" fill="#00ee11"/>
<rect x="288" y="240" width="8" height="10" fill="#00fa05"/>
<rect x="296" y="240" width="9" height="10" fill="#0cf300"/>
<rect x="305" y="240" width="8" height="10" fill="#24db00"/>
<rect x="313" y="240" width="8" height="10" fill="#44bb00"/>
<rect x="321" y="240" width="8" height="10" fill="#679800"/>
<rect x="329" y="240" width="8" height="10" fill="#8f7000"/>
<rect x="337" y="240" width="8" height="10" fill="#af5000"/>
<rect x="345" y="240" width="8" height="10" fill="#cc3300"/>
<rect x="353" y="240" width="8" height="10" fill="#d22d00"/>
<rect x="361" y="240" width="9" height="10" fill="#cb3400"/>
<rect x="370" y="240" width="8" height="10" fill="#916e00"/>
<rect x="500" y="240" width="8" height="10" fill="#cb3400"/>
<rect x="508" y="240" width="8" height="10" fill="#d32c00"/>
<rect x="516" y="240" width="8" height="10" fill="#e01f00"/>
<rect x="524" y="240" width="8" height="10" fill="#ef1000"/>
<rect x="532" y="240" width="8" height="10" fill="#fe0100"/>
<rect x="540" y="240" width="9" height="10" fill="#ff0f0f"/>
<rect x="549" y="240" width="8" height="10" fill="#ff2626"/>
<rect x="557" y="240" width="8" height="10" fill="#ff3535"/>
<rect x="565" y="240" width="8" height="10" fill="#ff3c3c"/>
<rect x="573" y="240" width="16" height="10" fill="#ff3f3f"/>
<rect x="605" y="240" width="9" height="10" fill="#ff0d0d"/>
<rect x="614" y="240" width="8" height="10" fill="#ff0b0b"/>
<rect x="622" y="240" width="8" height="10" fill="#ff0f0f"/>
<rect x="630" y="240" width="8" height="10" fill="#ff1818"/>
<rect x="638" y="240" width="8" height="10" fill="#ff1b1b"/>
<rect x="646" y="240" width="8" height="10" fill="#ff0909"/>
<rect x="654" y="240" width="8" height="10" fill="#e51a00"/>
<rect x="662" y="240" width="8" height="10" fill="#c33c00"/>
<rect x="670" y="240" width="9" height="10" fill="#df2000"/>
<rect x="679" y="240" width="8" height="10" fill="#ff0606"/>
<rect x="687" y="240" width="8" height="10" fill="#ff1616"/>
<rect x="695" y="240" width="8" height="10" fill="#ff2828"/>
<rect x="703" y="240" width="8" height="10" fill="#ff3232"/>
<rect x="711" y="240" width="8" height="10" fill="#ff3939"/>
<rect x="719" y="240" width="8" height="10" fill="#ff4040"/>
<rect x="727" y="240" width="9" height="10" fill="#ff4848"/>
<rect x="736" y="240" width="8" height="10" fill="#ff5151"/>
<rect x="744" y="240" width="8" height="10" fill="#ff5959"/>
<rect x="752" y="240" width="8" height="10" fill="#ff5c5c"/>
<rect x="760" y="240" width="8" height="10" fill="#ff5a5a"/>
<rect x="768" y="240" width="8" height="10" fill="#ff5151"/>
<rect x="776" y="240" width="8" height="10" fill="#ff4949"/>
<rect x="784" y="240" width="8" height="10" fill="#ff4343"/>
<rect x="792" y="240" width="9" height="10" fill="#ff3f3f"/>
<rect x="801" y="240" width="8" height="10" fill="#ff3c3c"/>
<rect x="809" y="240" width="8" height="10" fill="#ff3b3b"/>
<rect x="817" y="240" width="8" height="10" fill="#ff3a3a"/>
<rect x="825" y="240" width="16" height="10" fill="#ff3b3b"/>
<rect x="841" y="240" width="8" height="10" fill="#ff3434"/>
<rect x="849" y="240" width="8" height="10" fill="#ff2626"/>
<rect x="857" y="240" width="9" height="10" fill="#ff1b1b"/>
<rect x="866" y="240" width="8" height="10" fill="#ff1414"/>
<rect x="874" y="240" width="8" height="10" fill="#ff0e0e"/>
<rect x="882" y="240" width="8" height="10" fill="#ff0b0b"/>
<rect x="890" y="240" width="8" height="10" fill="#ff0a0a"/>
<rect x="898" y="240" width="8" height="10" fill="#ff0b0b"/>
<rect x="906" y="240" width="8" height="10" fill="#ff0e0e"/>
<rect x="914" y="240" width="9" height="10" fill="#ff1212"/>
<rect x="923" y="240" width="8" height="10" fill="#ff1616"/>
<rect x="931" y="240" width="8" height="10" fill="#ff1919"/>
<rect x="939" y="240" width="8" height="10" fill="#ff1717"/>
<rect x="947" y="240" width="8" height="10" fill="#ff1111"/>
<rect x="955" y="240" width="8" height="10" fill="#ff0909"/>
<rect x="963" y="240" width="8" height="10" fill="#ff0101"/>
<rect x="971" y="240" width="8" height="10" fill="#f70800"/>
<rect x="979" y="240" width="9" height="10" fill="#ee1100"/>
<rect x="988" y="240" width="8" height="10" fill="#e41b00"/>
<rect x="996" y="240" width="8" height="10" fill="#db2400"/>
<rect x="1004" y="240" width="8" height="10" fill="#d22d00"/>
<rect x="1012" y="240" width="8" height="10" fill="#cb3400"/>
<rect x="1020" y="240" width="8" height="10" fill="#c53a00"/>
<rect x="272" y="250" width="8" height="10" fill="#00d42b"/>
<rect x="280" y="250" width="8" height="10" fill="#00e21d"/>
<rect x="288" y="250" width="8" height="10" fill="#00f20d"/>
<rect x="296" y="250" width="9" height="10" fill="#09f600"/>
<rect x="305" y="250" width="8" height="10" fill="#23dc00"/>
<rect x="313" y="250" width="8" height="10" fill="#42bd00"/>
<rect x="321" y="250" width="8" height="10" fill="#619e00"/>
<rect x="329" y="250" width="8" height="10" fill="#877800"/>
<rect x="337" y="250" width="8" height="10" fill="#a55a00"/>
<rect x="345" y="250" width="8" height="10" fill="#c13e00"/>
<rect x="353" y="250" width="8" height="10" fill="#c63900"/>
<rect x="361" y="250" width="9" height="10" fill="#c33c00"/>
<rect x="410" y="250" width="8" height="10" fill="#ffbdbd"/>
<rect x="500" y="250" width="8" height="10" fill="#c93600"/>
<rect x="508" y="250" width="8" height="10" fill="#d22d00"/>
<rect x="516" y="250" width="8" height="10" fill="#df2000"/>
<rect x="524" y="250" width="8" height="10" fill="#ee1100"/>
<rect x="532" y="250" width="8" height="10" fill="#fe0100"/>
<rect x="540" y="250" width="9" height="10" fill="#ff1212"/>
<rect x="549" y="250" width="8" height="10" fill="#ff2d2d"/>
<rect x="557" y="250" width="8" height="10" fill="#ff3c3c"/>
<rect x="565" y="250" width="8" height="10" fill="#ff4343"/>
<rect x="573" y="250" width="8" height="10" fill="#ff4545"/>
<rect x="581" y="250" width="8" height="10" fill="#ff4343"/>
<rect x="589" y="250" width="8" height="10" fill="#ff3a3a"/>
<rect x="597" y="250" width="8" height="10" fill="#ff2727"/>
<rect x="605" y="250" width="9" height="10" fill="#ff1616"/>
<rect x="614" y="250" width="8" height="10" fill="#ff0d0d"/>
<rect x="622" y="250" width="8" height="10" fill="#ff0c0c"/>
<rect x="630" y="250" width="8" height="10" fill="#ff0d0d"/>
<rect x="638" y="250" width="8" height="10" fill="#ff0a0a"/>
<rect x="646" y="250" width="8" height="10" fill="#ee1100"/>
<rect x="654" y="250" width="8" height="10" fill="#c03f00"/>
<rect x="662" y="250" width="8" height="10" fill="#9b6400"/>
<rect x="670" y="250" width="9" height="10" fill="#8c7300"/>
<rect x="679" y="250" width="8" height="10" fill="#966900"/>
<rect x="687" y="250" width="8" height="10" fill="#ac5300"/>
<rect x="695" y="250" width="8" height="10" fill="#e71800"/>
<rect x="703" y="250" width="8" height="10" fill="#ff1212"/>
<rect x="711" y="250" width="8" height="10" fill="#ff2323"/>
<rect x="719" y="250" width="8" height="10" fill="#ff3232"/>
<rect x="727" y="250" width="9" height="10" fill="#ff3f3f"/>
<rect x="736" y="250" width="8" height="10" fill="#ff4949"/>
<rect x="744" y="250" width="8" height="10" fill="#ff4f4f"/>
<rect x="752" y="250" width="8" height="10" fill="#ff5252"/>
<rect x="760" y="250" width="8" height="10" fill="#ff5050"/>
<rect x="768" y="250" width="8" height="10" fill="#ff4a4a"/>
<rect x="776" y="250" width="8" height="10" fill="#ff4444"/>
<rect x="784" y="250" width="8" height="10" fill="#ff4040"/>
<rect x="792" y="250" width="9" height="10" fill="#ff3d3d"/>
<rect x="801" y="250" width="8" height="10" fill="#ff3b3b"/>
<rect x="809" y="250" width="16" height="10" fill="#ff3939"/>
<rect x="825" y="250" width="8" height="10" fill="#ff3a3a"/>
<rect x="833" y="250" width="8" height="10" fill="#ff3939"/>
<rect x="841" y="250" width="8" height="10" fill="#ff3333"/>
<rect x="849" y="250" width="8" height="10" fill="#ff2626"/>
<rect x="857" y="250" width="9" height="10" fill="#ff1b1b"/>
<rect x="866" y="250" width="8" height="10" fill="#ff1414"/>
<rect x="874" y="250" width="8" height="10" fill="#ff0d0d"/>
<rect x="882" y="250" width="8" height="10" fill="#ff0808"/>
<rect x="890" y="250" width="8" height="10" fill="#ff0707"/>
<rect x="898" y="250" width="8" height="10" fill="#ff0808"/>
<rect x="906" y="250" width="8" height="10" fill="#ff0b0b"/>
<rect x="914" y="250" width="9" height="10" fill="#ff0f0f"/>
<rect x="923" y="250" width="8" height="10" fill="#ff1414"/>
<rect x="931" y="250" width="8" height="10" fill="#ff1616"/>
<rect x="939" y="250" width="8" height="10" fill="#ff1414"/>
<rect x="947" y="250" width="8" height="10" fill="#ff0f0f"/>
<rect x="955" y="250" width="8" height="10" fill="#ff0808"/>
<rect x="963" y="250" width="8" height="10" fill="#ff0000"/>
<rect x="971" y="250" width="8" height="10" fill="#f60900"/>
<rect x="979" y="250" width="9" height="10" fill="#ed1200"/>
<rect x="988" y="250" width="8" height="10" fill="#e31c00"/>
<rect x="996" y="250" width="8" height="10" fill="#da2500"/>
<rect x="1004" y="250" width="8" height="10" fill="#d12e00"/>
<rect x="1012" y="250" width="8" height="10" fill="#c93600"/>
<rect x="1020" y="250" width="8" height="10" fill="#c33c00"/>
<rect x="1028" y="250" width="8" height="10" fill="#bf4000"/>
<rect x="264" y="260" width="8" height="10" fill="#005ea1"/>
<rect x="272" y="260" width="8" height="10" fill="#00b748"/>
<rect x="280" y="260" width="8" height="10" fill="#00d12e"/>
<rect x="288" y="260" width="8" height="10" fill="#00e817"/>
<rect x="296" y="260" width="9" height="10" fill="#04fb00"/>
<rect x="305" y="260" width="8" height="10" fill="#21de00"/>
<rect x="313" y="260" width="8" height="10" fill="#3ec100"/>
<rect x="321" y="260" width="8" height="10" fill="#59a600"/>
<rect x="329" y="260" width="8" height="10" fill="#7b8400"/>
<rect x="337" y="260" width="8" height="10" fill="#976800"/>
<rect x="345" y="260" width="8" height="10" fill="#be4100"/>
<rect x="353" y="260" width="8" height="10" fill="#c33c00"/>
<rect x="361" y="260" width="9" height="10" fill="#30cf00"/>
<rect x="402" y="260" width="8" height="10" fill="#ffbfbf"/>
<rect x="410" y="260" width="8" height="10" fill="#ffbcbc"/>
<rect x="418" y="260" width="9" height="10" fill="#ffa4a4"/>
<rect x="427" y="260" width="8" height="10" fill="#b64900"/>
<rect x="500" y="260" width="8" height="10" fill="#c53a00"/>
<rect x="508" y="260" width="8" height="10" fill="#d02f00"/>
<rect x="516" y="260" width="8" height="10" fill="#df2000"/>
<rect x="524" y="260" width="8" height="10" fill="#ee1100"/>
<rect x="532" y="260" width="8" height="10" fill="#fe0100"/>
<rect x="540" y="260" width="9" height="10" fill="#ff1313"/>
<rect x="549" y="260" width="8" height="10" fill="#ff3333"/>
<rect x="557" y="260" width="8" height="10" fill="#ff4545"/>
<rect x="565" y="260" width="16" height="10" fill="#ff4c4c"/>
<rect x="581" y="260" width="8" height="10" fill="#ff4848"/>
<rect x="589" y="260" width="8" height="10" fill="#ff3d3d"/>
<rect x="597" y="260" width="8" height="10" fill="#ff2c2c"/>
<rect x="605" y="260" width="9" height="10" fill="#ff1a1a"/>
<rect x="614" y="260" width="8" height="10" fill="#ff0d0d"/>
<rect x="622" y="260" width="8" height="10" fill="#ff0808"/>
<rect x="630" y="260" width="8" height="10" fill="#ff0505"/>
<rect x="638" y="260" width="8" height="10" fill="#fc0300"/>
<rect x="646" y="260" width="8" height="10" fill="#dd2200"/>
<rect x="654" y="260" width="8" height="10" fill="#ad5200"/>
<rect x="662" y="260" width="8" height="10" fill="#817e00"/>
<rect x="670" y="260" width="9" height="10" fill="#6a9500"/>
<rect x="679" y="260" width="8" height="10" fill="#4cb300"/>
<rect x="687" y="260" width="8" height="10" fill="#30cf00"/>
<rect x="695" y="260" width="8" height="10" fill="#22dd00"/>
<rect x="703" y="260" width="8" height="10" fill="#25da00"/>
<rect x="711" y="260" width="8" height="10" fill="#689700"/>
<rect x="719" y="260" width="8" height="10" fill="#ff0404"/>
<rect x="727" y="260" width="9" height="10" fill="#ff2121"/>
<rect x="736" y="260" width="8" height="10" fill="#ff3636"/>
<rect x="744" y="260" width="8" height="10" fill="#ff3d3d"/>
<rect x="752" y="260" width="16" height="10" fill="#ff4040"/>
<rect x="768" y="260" width="8" height="10" fill="#ff3d3d"/>
<rect x="776" y="260" width="8" height="10" fill="#ff3a3a"/>
<rect x="784" y="260" width="8" height="10" fill="#ff3939"/>
<rect x="792" y="260" width="9" height="10" fill="#ff3737"/>
<rect x="801" y="260" width="8" height="10" fill="#ff3535"/>
<rect x="809" y="260" width="16" height="10" fill="#ff3434"/>
<rect x="825" y="260" width="8" height="10" fill="#ff3636"/>
<rect x="833" y="260" width="8" height="10" fill="#ff3535"/>
<rect x="841" y="260" width="8" height="10" fill="#ff3030"/>
<rect x="849" y="260" width="8" height="10" fill="#ff2525"/>
<rect x="857" y="260" width="9" height="10" fill="#ff1c1c"/>
<rect x="866" y="260" width="8" height="10" fill="#ff1313"/>
<rect x="874" y="260" width="8" height="10" fill="#ff0b0b"/>
<rect x="882" y="260" width="8" height="10" fill="#ff0505"/>
<rect x="890" y="260" width="8" height="10" fill="#ff0202"/>
<rect x="898" y="260" width="8" height="10" fill="#ff0404"/>
<rect x="906" y="260" width="8" height="10" fill="#ff0808"/>
<rect x="914" y="260" width="9" height="10" fill="#ff0d0d"/>
<rect x="923" y="260" width="8" height="10" fill="#ff1111"/>
<rect x="931" y="260" width="8" height="10" fill="#ff1313"/>
<rect x="939" y="260" width="8" height="10" fill="#ff1212"/>
<rect x="947" y="260" width="8" height="10" fill="#ff0d0d"/>
<rect x="955" y="260" width="8" height="10" fill="#ff0505"/>
<rect x="963" y="260" width="8" height="10" fill="#fc0300"/>
<rect x="971" y="260" width="8" height="10" fill="#f40b00"/>
<rect x="979" y="260" width="9" height="10" fill="#eb1400"/>
<rect x="988" y="260" width="8" height="10" fill="#e21d00"/>
<rect x="996" y="260" width="8" height="10" fill="#d92600"/>
<rect x="1004" y="260" width="8" height="10" fill="#d02f00"/>
<rect x="1012" y="260" width="8" height="10" fill="#c83700"/>
<rect x="1020" y="260" width="8" height="10" fill="#c23d00"/>
<rect x="1028" y="260" width="8" height="10" fill="#be4100"/>
<rect x="256" y="270" width="8" height="10" fill="#002dd2"/>
<rect x="264" y="270" width="8" height="10" fill="#0044bb"/>
<rect x="272" y="270" width="8" height="10" fill="#008f70"/>
<rect x="280" y="270" width="8" height="10" fill="#00c03f"/>
<rect x="288" y="270" width="8" height="10" fill="#00dd22"/>
<rect x="296" y="270" width="9" height="10" fill="#00fc03"/>
<rect x="305" y="270" width="8" height="10" fill="#1de200"/>
<rect x="313" y="270" width="8" height="10" fill="#36c900"/>
<rect x="321" y="270" width="8" height="10" fill="#4ab500"/>
<rect x="329" y="270" width="8" height="10" fill="#679800"/>
<rect x="337" y="270" width="8" height="10" fill="#728d00"/>
<rect x="345" y="270" width="8" height="10" fill="#5da200"/>
<rect x="353" y="270" width="8" height="10" fill="#17e800"/>
<rect x="361" y="270" width="9" height="10" fill="#009f60"/>
<rect x="402" y="270" width="8" height="10" fill="#ffbebe"/>
<rect x="410" y="270" width="8" height="10" fill="#ffbbbb"/>
<rect x="418" y="270" width="9" height="10" fill="#ff8989"/>
<rect x="427" y="270" width="8" height="10" fill="#817e00"/>
<rect x="435" y="270" width="8" height="10" fill="#00ff00"/>
<rect x="459" y="270" width="8" height="10" fill="#26d900"/>
<rect x="467" y="270" width="8" height="10" fill="#40bf00"/>
<rect x="475" y="270" width="8" height="10" fill="#609f00"/>
<rect x="483" y="270" width="9" height="10" fill="#867900"/>
<rect x="492" y="270" width="8" height="10" fill="#ab5400"/>
<rect x="500" y="270" width="8" height="10" fill="#c13e00"/>
<rect x="508" y="270" width="8" height="10" fill="#d02f00"/>
<rect x="516" y="270" width="8" height="10" fill="#e01f00"/>
<rect x="524" y="270" width="8" height="10" fill="#ef1000"/>
<rect x="532" y="270" width="8" height="10" fill="#fe0100"/>
<rect x="540" y="270" width="9" height="10" fill="#ff1414"/>
<rect x="549" y="270" width="8" height="10" fill="#ff3939"/>
<rect x="557" y="270" width="8" height="10" fill="#ff4d4d"/>
<rect x="565" y="270" width="8" height="10" fill="#ff5555"/>
<rect x="573" y="270" width="8" height="10" fill="#ff5454"/>
<rect x="581" y="270" width="8" height="10" fill="#ff4e4e"/>
<rect x="589" y="270" width="8" height="10" fill="#ff4141"/>
<rect x="597" y="270" width="8" height="10" fill="#ff2f2f"/>
<rect x="605" y="270" width="9" height="10" fill="#ff1b1b"/>
<rect x="614" y="270" width="8" height="10" fill="#ff0c0c"/>
<rect x="622" y="270" width="8" height="10" fill="#ff0404"/>
<rect x="630" y="270" width="8" height="10" fill="#fd0200"/>
<rect x="638" y="270" width="8" height="10" fill="#f10e00"/>
<rect x="646" y="270" width="8" height="10" fill="#d22d00"/>
<rect x="654" y="270" width="8" height="10" fill="#a05f00"/>
<rect x="662" y="270" width="8" height="10" fill="#6a9500"/>
<rect x="670" y="270" width="9" height="10" fill="#52ad00"/>
<rect x="679" y="270" width="8" height="10" fill="#3cc300"/>
<rect x="687" y="270" width="8" height="10" fill="#29d600"/>
<rect x="695" y="270" width="8" height="10" fill="#1de200"/>
<rect x="703" y="270" width="8" height="10" fill="#1ee100"/>
<rect x="711" y="270" width="8" height="10" fill="#37c800"/>
<rect x="719" y="270" width="8" height="10" fill="#7b8400"/>
<rect x="727" y="270" width="9" height="10" fill="#db2400"/>
<rect x="736" y="270" width="8" height="10" fill="#f70800"/>
<rect x="744" y="270" width="8" height="10" fill="#ff0707"/>
<rect x="752" y="270" width="8" height="10" fill="#ff1e1e"/>
<rect x="760" y="270" width="8" height="10" fill="#ff2323"/>
<rect x="768" y="270" width="8" height="10" fill="#ff2525"/>
<rect x="776" y="270" width="8" height="10" fill="#ff2626"/>
<rect x="784" y="270" width="17" height="10" fill="#ff2929"/>
<rect x="801" y="270" width="8" height="10" fill="#ff2828"/>
<rect x="809" y="270" width="8" height="10" fill="#ff2727"/>
<rect x="817" y="270" width="8" height="10" fill="#ff2929"/>
<rect x="825" y="270" width="8" height="10" fill="#ff2c2c"/>
<rect x="833" y="270" width="8" height="10" fill="#ff2d2d"/>
<rect x="841" y="270" width="8" height="10" fill="#ff2a2a"/>
<rect x="849" y="270" width="8" height="10" fill="#ff2323"/>
<rect x="857" y="270" width="9" height="10" fill="#ff1b1b"/>
<rect x="866" y="270" width="8" height="10" fill="#ff1212"/>
<rect x="874" y="270" width="8" height="10" fill="#ff0707"/>
<rect x="882" y="270" width="8" height="10" fill="#fd0200"/>
<rect x="890" y="270" width="8" height="10" fill="#fa0500"/>
<rect x="898" y="270" width="8" height="10" fill="#fc0300"/>
<rect x="906" y="270" width="8" height="10" fill="#ff0303"/>
<rect x="914" y="270" width="9" height="10" fill="#ff0909"/>
<rect x="923" y="270" width="8" height="10" fill="#ff0e0e"/>
<rect x="931" y="270" width="8" height="10" fill="#ff1010"/>
<rect x="939" y="270" width="8" height="10" fill="#ff0e0e"/>
<rect x="947" y="270" width="8" height="10" fill="#ff0909"/>
<rect x="955" y="270" width="8" height="10" fill="#ff0101"/>
<rect x="963" y="270" width="8" height="10" fill="#f80700"/>
<rect x="971" y="270" width="8" height="10" fill="#f00f00"/>
<rect x="979" y="270" width="9" height="10" fill="#e71800"/>
<rect x="988" y="270" width="8" height="10" fill="#de2100"/>
<rect x="996" y="270" width="8" height="10" fill="#d62900"/>
<rect x="1004" y="270" width="8" height="10" fill="#cd3200"/>
<rect x="1012" y="270" width="8" height="10" fill="#c63900"/>
<rect x="1020" y="270" width="8" height="10" fill="#c03f00"/>
<rect x="1028" y="270" width="8" height="10" fill="#bd4200"/>
<rect x="256" y="280" width="8" height="10" fill="#0025da"/>
<rect x="264" y="280" width="8" height="10" fill="#0039c6"/>
<rect x="272" y="280" width="8" height="10" fill="#007f80"/>
<rect x="280" y="280" width="8" height="10" fill="#00af50"/>
<rect x="288" y="280" width="8" height="10" fill="#00d12e"/>
<rect x="296" y="280" width="9" height="10" fill="#00ef10"/>
<rect x="305" y="280" width="8" height="10" fill="#13ec00"/>
<rect x="313" y="280" width="8" height="10" fill="#2ad500"/>
<rect x="321" y="280" width="8" height="10" fill="#33cc00"/>
<rect x="329" y="280" width="8" height="10" fill="#2dd200"/>
<rect x="337" y="280" width="8" height="10" fill="#0bf400"/>
<rect x="345" y="280" width="8" height="10" fill="#00c13e"/>
<rect x="353" y="280" width="8" height="10" fill="#007f80"/>
<rect x="361" y="280" width="9" height="10" fill="#00748b"/>
<rect x="370" y="280" width="8" height="10" fill="#006a95"/>
<rect x="394" y="280" width="8" height="10" fill="#ffbebe"/>
<rect x="402" y="280" width="8" height="10" fill="#ffbaba"/>
<rect x="410" y="280" width="8" height="10" fill="#ff9f9f"/>
<rect x="418" y="280" width="9" height="10" fill="#ff2222"/>
<rect x="427" y="280" width="8" height="10" fill="#807f00"/>
<rect x="435" y="280" width="8" height="10" fill="#00ff00"/>
<rect x="443" y="280" width="8" height="10" fill="#0df200"/>
<rect x="451" y="280" width="8" height="10" fill="#15ea00"/>
<rect x="459" y="280" width="8" height="10" fill="#2ad500"/>
<rect x="467" y="280" width="8" height="10" fill="#4ab500"/>
<rect x="475" y="280" width="8" height="10" fill="#689700"/>
<rect x="483" y="280" width="9" height="10" fill="#877800"/>
<rect x="492" y="280" width="8" height="10" fill="#a85700"/>
<rect x="500" y="280" width="8" height="10" fill="#bf4000"/>
<rect x="508" y="280" width="8" height="10" fill="#d12e00"/>
<rect x="516" y="280" width="8" height="10" fill="#e11e00"/>
<rect x="524" y="280" width="8" height="10" fill="#ef1000"/>
<rect x="532" y="280" width="8" height="10" fill="#fe0100"/>
<rect x="540" y="280" width="9" height="10" fill="#ff1414"/>
<rect x="549" y="280" width="8" height="10" fill="#ff3f3f"/>
<rect x="557" y="280" width="8" height="10" fill="#ff5454"/>
<rect x="565" y="280" width="8" height="10" fill="#ff5c5c"/>
<rect x="573" y="280" width="8" height="10" fill="#ff5b5b"/>
<rect x="581" y="280" width="8" height="10" fill="#ff5353"/>
<rect x="589" y="280" width="8" height="10" fill="#ff4545"/>
<rect x="597" y="280" width="8" height="10" fill="#ff3030"/>
<rect x="605" y="280" width="9" height="10" fill="#ff1919"/>
<rect x="614" y="280" width="8" height="10" fill="#ff0808"/>
<rect x="622" y="280" width="8" height="10" fill="#fd0200"/>
<rect x="630" y="280" width="8" height="10" fill="#f40b00"/>
<rect x="638" y="280" width="8" height="10" fill="#e61900"/>
<rect x="646" y="280" width="8" height="10" fill="#c63900"/>
<rect x="654" y="280" width="8" height="10" fill="#946b00"/>
<rect x="662" y="280" width="8" height="10" fill="#58a700"/>
<rect x="670" y="280" width="9" height="10" fill="#46b900"/>
<rect x="679" y="280" width="8" height="10" fill="#37c800"/>
<rect x="687" y="280" width="8" height="10" fill="#29d600"/>
<rect x="695" y="280" width="8" height="10" fill="#1ee100"/>
<rect x="703" y="280" width="8" height="10" fill="#20df00"/>
<rect x="711" y="280" width="8" height="10" fill="#36c900"/>
<rect x="719" y="280" width="8" height="10" fill="#708f00"/>
<rect x="727" y="280" width="9" height="10" fill="#b14e00"/>
<rect x="736" y="280" width="8" height="10" fill="#c33c00"/>
<rect x="744" y="280" width="8" height="10" fill="#cc3300"/>
<rect x="752" y="280" width="8" height="10" fill="#d42b00"/>
<rect x="760" y="280" width="8" height="10" fill="#dc2300"/>
<rect x="768" y="280" width="8" height="10" fill="#e21d00"/>
<rect x="776" y="280" width="8" height="10" fill="#e91600"/>
<rect x="784" y="280" width="8" height="10" fill="#ee1100"/>
<rect x="792" y="280" width="9" height="10" fill="#f20d00"/>
<rect x="801" y="280" width="8" height="10" fill="#fb0400"/>
<rect x="809" y="280" width="8" height="10" fill="#ff0202"/>
<rect x="817" y="280" width="8" height="10" fill="#ff0b0b"/>
<rect x="825" y="280" width="8" height="10" fill="#ff1a1a"/>
<rect x="833" y="280" width="8" height="10" fill="#ff2020"/>
<rect x="841" y="280" width="8" height="10" fill="#ff2121"/>
<rect x="849" y="280" width="8" height="10" fill="#ff1f1f"/>
<rect x="857" y="280" width="9" height="10" fill="#ff1919"/>
<rect x="866" y="280" width="8" height="10" fill="#ff0f0f"/>
<rect x="874" y="280" width="8" height="10" fill="#fe0100"/>
<rect x="882" y="280" width="8" height="10" fill="#f00f00"/>
<rect x="890" y="280" width="8" height="10" fill="#eb1400"/>
<rect x="898" y="280" width="8" height="10" fill="#f00f00"/>
<rect x="906" y="280" width="8" height="10" fill="#f90600"/>
<rect x="914" y="280" width="9" height="10" fill="#ff0303"/>
<rect x="923" y="280" width="8" height="10" fill="#ff0909"/>
<rect x="931" y="280" width="8" height="10" fill="#ff0a0a"/>
<rect x="939" y="280" width="8" height="10" fill="#ff0808"/>
<rect x="947" y="280" width="8" height="10" fill="#ff0202"/>
<rect x="955" y="280" width="8" height="10" fill="#f80700"/>
<rect x="963" y="280" width="8" height="10" fill="#ef1000"/>
<rect x="971" y="280" width="8" height="10" fill="#e71800"/>
<rect x="979" y="280" width="9" height="10" fill="#df2000"/>
<rect x="988" y="280" width="8" height="10" fill="#d62900"/>
<rect x="996" y="280" width="8" height="10" fill="#cf3000"/>
<rect x="1004" y="280" width="8" height="10" fill="#c83700"/>
<rect x="1012" y="280" width="8" height="10" fill="#c13e00"/>
<rect x="1020" y="280" width="8" height="10" fill="#bd4200"/>
<rect x="1028" y="280" width="8" height="10" fill="#bb4400"/>
<rect x="240" y="290" width="8" height="10" fill="#001ee1"/>
<rect x="248" y="290" width="8" height="10" fill="#001be4"/>
<rect x="256" y="290" width="8" height="10" fill="#0020df"/>
<rect x="264" y="290" width="8" height="10" fill="#0031ce"/>
<rect x="272" y="290" width="8" height="10" fill="#006e91"/>
<rect x="280" y="290" width="8" height="10" fill="#00a25d"/>
<rect x="288" y="290" width="8" height="10" fill="#00c639"/>
<rect x="296" y="290" width="9" height="10" fill="#00df20"/>
<rect x="305" y="290" width="8" height="10" fill="#01fe00"/>
<rect x="313" y="290" width="8" height="10" fill="#1be400"/>
<rect x="321" y="290" width="8" height="10" fill="#21de00"/>
<rect x="329" y="290" width="8" height="10" fill="#00a35c"/>
<rect x="337" y="290" width="8" height="10" fill="#00a55a"/>
<rect x="345" y="290" width="8" height="10" fill="#00946b"/>
<rect x="353" y="290" width="8" height="10" fill="#007d82"/>
<rect x="361" y="290" width="9" height="10" fill="#00708f"/>
<rect x="370" y="290" width="8" height="10" fill="#00659a"/>
<rect x="394" y="290" width="8" height="10" fill="#ffbcbc"/>
<rect x="402" y="290" width="8" height="10" fill="#ffa6a6"/>
<rect x="410" y="290" width="8" height="10" fill="#ff6b6b"/>
<rect x="418" y="290" width="9" height="10" fill="#fa0500"/>
<rect x="427" y="290" width="8" height="10" fill="#807f00"/>
<rect x="435" y="290" width="8" height="10" fill="#00ff00"/>
<rect x="443" y="290" width="8" height="10" fill="#10ef00"/>
<rect x="451" y="290" width="8" height="10" fill="#18e700"/>
<rect x="459" y="290" width="8" height="10" fill="#2fd000"/>
<rect x="467" y="290" width="8" height="10" fill="#53ac00"/>
<rect x="475" y="290" width="8" height="10" fill="#6f9000"/>
<rect x="483" y="290" width="9" height="10" fill="#8b7400"/>
<rect x="492" y="290" width="8" height="10" fill="#a95600"/>
<rect x="500" y="290" width="8" height="10" fill="#bf4000"/>
<rect x="508" y="290" width="8" height="10" fill="#d12e00"/>
<rect x="516" y="290" width="8" height="10" fill="#e11e00"/>
<rect x="524" y="290" width="8" height="10" fill="#ef1000"/>
<rect x="532" y="290" width="8" height="10" fill="#fe0100"/>
<rect x="540" y="290" width="9" height="10" fill="#ff1313"/>
<rect x="549" y="290" width="8" height="10" fill="#ff4141"/>
<rect x="557" y="290" width="8" height="10" fill="#ff5858"/>
<rect x="565" y="290" width="8" height="10" fill="#ff6060"/>
<rect x="573" y="290" width="8" height="10" fill="#ff5f5f"/>
<rect x="581" y="290" width="8" height="10" fill="#ff5656"/>
<rect x="589" y="290" width="8" height="10" fill="#ff4747"/>
<rect x="597" y="290" width="8" height="10" fill="#ff3131"/>
<rect x="605" y="290" width="9" height="10" fill="#ff1717"/>
<rect x="614" y="290" width="8" height="10" fill="#ff0303"/>
<rect x="622" y="290" width="8" height="10" fill="#f50a00"/>
<rect x="630" y="290" width="8" height="10" fill="#e91600"/>
<rect x="638" y="290" width="8" height="10" fill="#d72800"/>
<rect x="646" y="290" width="8" height="10" fill="#b64900"/>
<rect x="654" y="290" width="8" height="10" fill="#867900"/>
<rect x="662" y="290" width="8" height="10" fill="#52ad00"/>
<rect x="670" y="290" width="9" height="10" fill="#41be00"/>
<rect x="679" y="290" width="8" height="10" fill="#36c900"/>
<rect x="687" y="290" width="8" height="10" fill="#2bd400"/>
<rect x="695" y="290" width="8" height="10" fill="#24db00"/>
<rect x="703" y="290" width="8" height="10" fill="#29d600"/>
<rect x="711" y="290" width="8" height="10" fill="#41be00"/>
<rect x="719" y="290" width="8" height="10" fill="#6f9000"/>
<rect x="727" y="290" width="9" height="10" fill="#9a6500"/>
<rect x="736" y="290" width="8" height="10" fill="#a95600"/>
<rect x="744" y="290" width="8" height="10" fill="#aa5500"/>
<rect x="752" y="290" width="8" height="10" fill="#a35c00"/>
<rect x="760" y="290" width="8" height="10" fill="#9c6300"/>
<rect x="768" y="290" width="8" height="10" fill="#966900"/>
<rect x="776" y="290" width="8" height="10" fill="#8f7000"/>
<rect x="784" y="290" width="8" height="10" fill="#897600"/>
<rect x="792" y="290" width="9" height="10" fill="#847b00"/>
<rect x="801" y="290" width="8" height="10" fill="#9f6000"/>
<rect x="809" y="290" width="8" height="10" fill="#aa5500"/>
<rect x="817" y="290" width="8" height="10" fill="#bb4400"/>
<rect x="825" y="290" width="8" height="10" fill="#ec1300"/>
<rect x="833" y="290" width="8" height="10" fill="#ff0e0e"/>
<rect x="841" y="290" width="8" height="10" fill="#ff1818"/>
<rect x="849" y="290" width="8" height="10" fill="#ff1a1a"/>
<rect x="857" y="290" width="9" height="10" fill="#ff1515"/>
<rect x="866" y="290" width="8" height="10" fill="#ff0a0a"/>
<rect x="874" y="290" width="8" height="10" fill="#f20d00"/>
<rect x="882" y="290" width="8" height="10" fill="#d72800"/>
<rect x="890" y="290" width="8" height="10" fill="#d22d00"/>
<rect x="898" y="290" width="8" height="10" fill="#d92600"/>
<rect x="906" y="290" width="8" height="10" fill="#eb1400"/>
<rect x="914" y="290" width="9" height="10" fill="#f70800"/>
<rect x="923" y="290" width="8" height="10" fill="#fe0100"/>
<rect x="931" y="290" width="8" height="10" fill="#ff0000"/>
<rect x="939" y="290" width="8" height="10" fill="#fc0300"/>
<rect x="947" y="290" width="8" height="10" fill="#f40b00"/>
<rect x="955" y="290" width="8" height="10" fill="#e91600"/>
<rect x="963" y="290" width="8" height="10" fill="#df2000"/>
<rect x="971" y="290" width="8" height="10" fill="#d82700"/>
<rect x="979" y="290" width="9" height="10" fill="#d02f00"/>
<rect x="988" y="290" width="8" height="10" fill="#c93600"/>
<rect x="996" y="290" width="8" height="10" fill="#c43b00"/>
<rect x="1004" y="290" width="8" height="10" fill="#bf4000"/>
<rect x="1012" y="290" width="8" height="10" fill="#ba4500"/>
<rect x="1020" y="290" width="8" height="10" fill="#b74800"/>
<rect x="1028" y="290" width="8" height="10" fill="#b64900"/>
<rect x="231" y="300" width="9" height="10" fill="#00639c"/>
<rect x="240" y="300" width="8" height="10" fill="#0022dd"/>
<rect x="248" y="300" width="8" height="10" fill="#001be4"/>
<rect x="256" y="300" width="8" height="10" fill="#001de2"/>
<rect x="264" y="300" width="8" height="10" fill="#002bd4"/>
<rect x="272" y="300" width="8" height="10" fill="#0046b9"/>
<rect x="280" y="300" width="8" height="10" fill="#008679"/>
<rect x="288" y="300" width="8" height="10" fill="#00b748"/>
<rect x="296" y="300" width="9" height="10" fill="#00c936"/>
<rect x="305" y="300" width="8" height="10" fill="#00cc33"/>
<rect x="313" y="300" width="8" height="10" fill="#00b34c"/>
<rect x="321" y="300" width="8" height="10" fill="#008b74"/>
<rect x="329" y="300" width="8" height="10" fill="#007c83"/>
<rect x="337" y="300" width="8" height="10" fill="#00817e"/>
<rect x="345" y="300" width="8" height="10" fill="#008877"/>
<rect x="353" y="300" width="8" height="10" fill="#007689"/>
<rect x="361" y="300" width="9" height="10" fill="#006798"/>
<rect x="370" y="300" width="8" height="10" fill="#005ba4"/>
<rect x="378" y="300" width="8" height="10" fill="#0054ab"/>
<rect x="386" y="300" width="8" height="10" fill="#936c00"/>
<rect x="394" y="300" width="8" height="10" fill="#ffbdbd"/>
<rect x="402" y="300" width="8" height="10" fill="#ff6a6a"/>
<rect x="410" y="300" width="8" height="10" fill="#ff0b0b"/>
<rect x="418" y="300" width="9" height="10" fill="#ea1500"/>
<rect x="427" y="300" width="8" height="10" fill="#7f8000"/>
<rect x="435" y="300" width="8" height="10" fill="#03fc00"/>
<rect x="443" y="300" width="8" height="10" fill="#19e600"/>
<rect x="451" y="300" width="8" height="10" fill="#20df00"/>
<rect x="459" y="300" width="8" height="10" fill="#39c600"/>
<rect x="467" y="300" width="8" height="10" fill="#609f00"/>
<rect x="475" y="300" width="8" height="10" fill="#7a8500"/>
<rect x="483" y="300" width="9" height="10" fill="#936c00"/>
<rect x="492" y="300" width="8" height="10" fill="#ac5300"/>
<rect x="500" y="300" width="8" height="10" fill="#bf4000"/>
<rect x="508" y="300" width="8" height="10" fill="#cf3000"/>
<rect x="516" y="300" width="8" height="10" fill="#dd2200"/>
<rect x="524" y="300" width="8" height="10" fill="#ec1300"/>
<rect x="532" y="300" width="8" height="10" fill="#fb0400"/>
<rect x="540" y="300" width="9" height="10" fill="#ff1111"/>
<rect x="549" y="300" width="8" height="10" fill="#ff3f3f"/>
<rect x="557" y="300" width="8" height="10" fill="#ff5656"/>
<rect x="565" y="300" width="8" height="10" fill="#ff5e5e"/>
<rect x="573" y="300" width="8" height="10" fill="#ff5d5d"/>
<rect x="581" y="300" width="8" height="10" fill="#ff5454"/>
<rect x="589" y="300" width="8" height="10" fill="#ff4444"/>
<rect x="597" y="300" width="8" height="10" fill="#ff2f2f"/>
<rect x="605" y="300" width="9" height="10" fill="#ff1313"/>
<rect x="614" y="300" width="8" height="10" fill="#fa0500"/>
<rect x="622" y="300" width="8" height="10" fill="#e91600"/>
<rect x="630" y="300" width="8" height="10" fill="#d52a00"/>
<rect x="638" y="300" width="8" height="10" fill="#b04f00"/>
<rect x="646" y="300" width="8" height="10" fill="#946b00"/>
<rect x="654" y="300" width="8" height="10" fill="#6c9300"/>
<rect x="662" y="300" width="8" height="10" fill="#4eb100"/>
<rect x="670" y="300" width="9" height="10" fill="#40bf00"/>
<rect x="679" y="300" width="8" height="10" fill="#36c900"/>
<rect x="687" y="300" width="8" height="10" fill="#2ed100"/>
<rect x="695" y="300" width="8" height="10" fill="#2ad500"/>
<rect x="703" y="300" width="8" height="10" fill="#32cd00"/>
<rect x="711" y="300" width="8" height="10" fill="#4bb400"/>
<rect x="719" y="300" width="8" height="10" fill="#6d9200"/>
<rect x="727" y="300" width="9" height="10" fill="#8c7300"/>
<rect x="736" y="300" width="8" height="10" fill="#976800"/>
<rect x="744" y="300" width="8" height="10" fill="#956a00"/>
<rect x="752" y="300" width="8" height="10" fill="#8c7300"/>
<rect x="760" y="300" width="8" height="10" fill="#837c00"/>
<rect x="768" y="300" width="8" height="10" fill="#7a8500"/>
<rect x="776" y="300" width="8" height="10" fill="#6f9000"/>
<rect x="784" y="300" width="8" height="10" fill="#679800"/>
<rect x="792" y="300" width="17" height="10" fill="#629d00"/>
<rect x="809" y="300" width="8" height="10" fill="#649b00"/>
<rect x="817" y="300" width="8" height="10" fill="#679800"/>
<rect x="825" y="300" width="8" height="10" fill="#708f00"/>
<rect x="833" y="300" width="8" height="10" fill="#cf3000"/>
<rect x="841" y="300" width="8" height="10" fill="#ff1010"/>
<rect x="849" y="300" width="8" height="10" fill="#ff1515"/>
<rect x="857" y="300" width="9" height="10" fill="#ff1010"/>
<rect x="866" y="300" width="8" height="10" fill="#ff0303"/>
<rect x="874" y="300" width="8" height="10" fill="#b84700"/>
<rect x="882" y="300" width="8" height="10" fill="#aa5500"/>
<rect x="890" y="300" width="8" height="10" fill="#b34c00"/>
<rect x="898" y="300" width="8" height="10" fill="#be4100"/>
<rect x="906" y="300" width="8" height="10" fill="#d12e00"/>
<rect x="914" y="300" width="9" height="10" fill="#e61900"/>
<rect x="923" y="300" width="8" height="10" fill="#ef1000"/>
<rect x="931" y="300" width="8" height="10" fill="#f00f00"/>
<rect x="939" y="300" width="8" height="10" fill="#ec1300"/>
<rect x="947" y="300" width="8" height="10" fill="#e11e00"/>
<rect x="955" y="300" width="8" height="10" fill="#d12e00"/>
<rect x="963" y="300" width="8" height="10" fill="#c93600"/>
<rect x="971" y="300" width="8" height="10" fill="#c33c00"/>
<rect x="979" y="300" width="9" height="10" fill="#be4100"/>
<rect x="988" y="300" width="8" height="10" fill="#ba4500"/>
<rect x="996" y="300" width="8" height="10" fill="#b64900"/>
<rect x="1004" y="300" width="8" height="10" fill="#b34c00"/>
<rect x="1012" y="300" width="8" height="10" fill="#b14e00"/>
<rect x="1020" y="300" width="16" height="10" fill="#af5000"/>
<rect x="231" y="310" width="9" height="10" fill="#005aa5"/>
<rect x="240" y="310" width="8" height="10" fill="#0027d8"/>
<rect x="248" y="310" width="16" height="10" fill="#001be4"/>
<rect x="264" y="310" width="8" height="10" fill="#0025da"/>
<rect x="272" y="310" width="8" height="10" fill="#0038c7"/>
<rect x="280" y="310" width="8" height="10" fill="#005ba4"/>
<rect x="288" y="310" width="8" height="10" fill="#009966"/>
<rect x="296" y="310" width="9" height="10" fill="#00a857"/>
<rect x="305" y="310" width="8" height="10" fill="#009a65"/>
<rect x="313" y="310" width="8" height="10" fill="#00847b"/>
<rect x="321" y="310" width="8" height="10" fill="#00738c"/>
<rect x="329" y="310" width="8" height="10" fill="#00718e"/>
<rect x="337" y="310" width="8" height="10" fill="#007a85"/>
<rect x="345" y="310" width="8" height="10" fill="#009669"/>
<rect x="353" y="310" width="8" height="10" fill="#00936c"/>
<rect x="361" y="310" width="9" height="10" fill="#006699"/>
<rect x="370" y="310" width="8" height="10" fill="#0059a6"/>
<rect x="378" y="310" width="8" height="10" fill="#0053ac"/>
<rect x="386" y="310" width="8" height="10" fill="#966900"/>
<rect x="394" y="310" width="8" height="10" fill="#ffbbbb"/>
<rect x="402" y="310" width="8" height="10" fill="#ff4444"/>
<rect x="410" y="310" width="8" height="10" fill="#f70800"/>
<rect x="418" y="310" width="9" height="10" fill="#c93600"/>
<rect x="427" y="310" width="8" height="10" fill="#7d8200"/>
<rect x="435" y="310" width="8" height="10" fill="#33cc00"/>
<rect x="443" y="310" width="8" height="10" fill="#27d800"/>
<rect x="451" y="310" width="8" height="10" fill="#2cd300"/>
<rect x="459" y="310" width="8" height="10" fill="#54ab00"/>
<rect x="467" y="310" width="8" height="10" fill="#748b00"/>
<rect x="475" y="310" width="8" height="10" fill="#8c7300"/>
<rect x="483" y="310" width="9" height="10" fill="#a15e00"/>
<rect x="492" y="310" width="8" height="10" fill="#b14e00"/>
<rect x="500" y="310" width="8" height="10" fill="#be4100"/>
<rect x="508" y="310" width="8" height="10" fill="#ca3500"/>
<rect x="516" y="310" width="8" height="10" fill="#d62900"/>
<rect x="524" y="310" width="8" height="10" fill="#e41b00"/>
<rect x="532" y="310" width="8" height="10" fill="#f40b00"/>
<rect x="540" y="310" width="9" height="10" fill="#ff0a0a"/>
<rect x="549" y="310" width="8" height="10" fill="#ff3535"/>
<rect x="557" y="310" width="8" height="10" fill="#ff4c4c"/>
<rect x="565" y="310" width="8" height="10" fill="#ff5454"/>
<rect x="573" y="310" width="8" height="10" fill="#ff5353"/>
<rect x="581" y="310" width="8" height="10" fill="#ff4a4a"/>
<rect x="589" y="310" width="8" height="10" fill="#ff3b3b"/>
<rect x="597" y="310" width="8" height="10" fill="#ff2727"/>
<rect x="605" y="310" width="9" height="10" fill="#ff0c0c"/>
<rect x="614" y="310" width="8" height="10" fill="#e91600"/>
<rect x="622" y="310" width="8" height="10" fill="#c13e00"/>
<rect x="630" y="310" width="8" height="10" fill="#867900"/>
<rect x="638" y="310" width="8" height="10" fill="#6d9200"/>
<rect x="646" y="310" width="8" height="10" fill="#649b00"/>
<rect x="654" y="310" width="8" height="10" fill="#58a700"/>
<rect x="662" y="310" width="8" height="10" fill="#4bb400"/>
<rect x="670" y="310" width="9" height="10" fill="#40bf00"/>
<rect x="679" y="310" width="8" height="10" fill="#36c900"/>
<rect x="687" y="310" width="8" height="10" fill="#2fd000"/>
<rect x="695" y="310" width="8" height="10" fill="#2cd300"/>
<rect x="703" y="310" width="8" height="10" fill="#33cc00"/>
<rect x="711" y="310" width="8" height="10" fill="#46b900"/>
<rect x="719" y="310" width="8" height="10" fill="#629d00"/>
<rect x="727" y="310" width="9" height="10" fill="#7f8000"/>
<rect x="736" y="310" width="8" height="10" fill="#887700"/>
<rect x="744" y="310" width="8" height="10" fill="#847b00"/>
<rect x="752" y="310" width="8" height="10" fill="#7d8200"/>
<rect x="760" y="310" width="8" height="10" fill="#758a00"/>
<rect x="768" y="310" width="8" height="10" fill="#6c9300"/>
<rect x="776" y="310" width="8" height="10" fill="#639c00"/>
<rect x="784" y="310" width="8" height="10" fill="#5aa500"/>
<rect x="792" y="310" width="9" height="10" fill="#55aa00"/>
<rect x="801" y="310" width="16" height="10" fill="#53ac00"/>
<rect x="817" y="310" width="8" height="10" fill="#55aa00"/>
<rect x="825" y="310" width="8" height="10" fill="#58a700"/>
<rect x="833" y="310" width="8" height="10" fill="#619e00"/>
<rect x="866" y="310" width="8" height="10" fill="#fb0400"/>
<rect x="874" y="310" width="8" height="10" fill="#29d600"/>
<rect x="882" y="310" width="8" height="10" fill="#33cc00"/>
<rect x="890" y="310" width="8" height="10" fill="#46b900"/>
<rect x="898" y="310" width="8" height="10" fill="#a05f00"/>
<rect x="906" y="310" width="8" height="10" fill="#ba4500"/>
<rect x="914" y="310" width="9" height="10" fill="#cf3000"/>
<rect x="923" y="310" width="8" height="10" fill="#d92600"/>
<rect x="931" y="310" width="8" height="10" fill="#da2500"/>
<rect x="939" y="310" width="8" height="10" fill="#d12e00"/>
<rect x="947" y="310" width="8" height="10" fill="#bd4200"/>
<rect x="955" y="310" width="8" height="10" fill="#b24d00"/>
<rect x="963" y="310" width="8" height="10" fill="#ad5200"/>
<rect x="971" y="310" width="8" height="10" fill="#ab5400"/>
<rect x="979" y="310" width="9" height="10" fill="#a95600"/>
<rect x="988" y="310" width="8" height="10" fill="#a85700"/>
<rect x="996" y="310" width="8" height="10" fill="#a75800"/>
<rect x="1004" y="310" width="8" height="10" fill="#a65900"/>
<rect x="1012" y="310" width="24" height="10" fill="#a55a00"/>
<rect x="231" y="320" width="9" height="10" fill="#0056a9"/>
<rect x="240" y="320" width="8" height="10" fill="#002ad5"/>
<rect x="248" y="320" width="8" height="10" fill="#001be4"/>
<rect x="256" y="320" width="8" height="10" fill="#0019e6"/>
<rect x="264" y="320" width="8" height="10" fill="#0021de"/>
<rect x="272" y="320" width="8" height="10" fill="#0032cd"/>
<rect x="280" y="320" width="8" height="10" fill="#004fb0"/>
<rect x="288" y="320" width="8" height="10" fill="#006e91"/>
<rect x="296" y="320" width="9" height="10" fill="#007e81"/>
<rect x="305" y="320" width="8" height="10" fill="#007a85"/>
<rect x="313" y="320" width="8" height="10" fill="#00728d"/>
<rect x="321" y="320" width="8" height="10" fill="#006b94"/>
<rect x="329" y="320" width="8" height="10" fill="#006d92"/>
<rect x="337" y="320" width="8" height="10" fill="#007b84"/>
<rect x="345" y="320" width="8" height="10" fill="#009c63"/>
<rect x="353" y="320" width="8" height="10" fill="#009966"/>
<rect x="361" y="320" width="17" height="10" fill="#009a65"/>
<rect x="378" y="320" width="8" height="10" fill="#00ab54"/>
<rect x="386" y="320" width="8" height="10" fill="#bd4200"/>
<rect x="394" y="320" width="8" height="10" fill="#ff9f9f"/>
<rect x="402" y="320" width="8" height="10" fill="#ff1e1e"/>
<rect x="410" y="320" width="8" height="10" fill="#e61900"/>
<rect x="418" y="320" width="9" height="10" fill="#a55a00"/>
<rect x="427" y="320" width="8" height="10" fill="#6f9000"/>
<rect x="435" y="320" width="8" height="10" fill="#36c900"/>
<rect x="443" y="320" width="8" height="10" fill="#2fd000"/>
<rect x="451" y="320" width="8" height="10" fill="#34cb00"/>
<rect x="459" y="320" width="8" height="10" fill="#669900"/>
<rect x="467" y="320" width="8" height="10" fill="#8a7500"/>
<rect x="475" y="320" width="8" height="10" fill="#9d6200"/>
<rect x="483" y="320" width="9" height="10" fill="#ab5400"/>
<rect x="492" y="320" width="8" height="10" fill="#b54a00"/>
<rect x="500" y="320" width="8" height="10" fill="#bc4300"/>
<rect x="508" y="320" width="8" height="10" fill="#c23d00"/>
<rect x="516" y="320" width="8" height="10" fill="#c93600"/>
<rect x="524" y="320" width="8" height="10" fill="#d22d00"/>
<rect x="532" y="320" width="8" height="10" fill="#e31c00"/>
<rect x="540" y="320" width="9" height="10" fill="#f80700"/>
<rect x="549" y="320" width="8" height="10" fill="#ff1e1e"/>
<rect x="557" y="320" width="8" height="10" fill="#ff3535"/>
<rect x="565" y="320" width="8" height="10" fill="#ff3d3d"/>
<rect x="573" y="320" width="8" height="10" fill="#ff3c3c"/>
<rect x="581" y="320" width="8" height="10" fill="#ff3333"/>
<rect x="589" y="320" width="8" height="10" fill="#ff2626"/>
<rect x="597" y="320" width="8" height="10" fill="#ff1616"/>
<rect x="605" y="320" width="9" height="10" fill="#ff0101"/>
<rect x="614" y="320" width="8" height="10" fill="#c63900"/>
<rect x="622" y="320" width="8" height="10" fill="#6d9200"/>
<rect x="630" y="320" width="8" height="10" fill="#45ba00"/>
<rect x="638" y="320" width="8" height="10" fill="#56a900"/>
<rect x="646" y="320" width="8" height="10" fill="#52ad00"/>
<rect x="654" y="320" width="8" height="10" fill="#4eb100"/>
<rect x="662" y="320" width="8" height="10" fill="#47b800"/>
<rect x="670" y="320" width="9" height="10" fill="#3ec100"/>
<rect x="679" y="320" width="8" height="10" fill="#35ca00"/>
<rect x="687" y="320" width="8" height="10" fill="#2dd200"/>
<rect x="695" y="320" width="8" height="10" fill="#2ad500"/>
<rect x="703" y="320" width="8" height="10" fill="#29d600"/>
<rect x="711" y="320" width="8" height="10" fill="#2cd300"/>
<rect x="719" y="320" width="8" height="10" fill="#37c800"/>
<rect x="727" y="320" width="9" height="10" fill="#6c9300"/>
<rect x="736" y="320" width="8" height="10" fill="#768900"/>
<rect x="744" y="320" width="8" height="10" fill="#758a00"/>
<rect x="752" y="320" width="8" height="10" fill="#718e00"/>
<rect x="760" y="320" width="8" height="10" fill="#6c9300"/>
<rect x="768" y="320" width="8" height="10" fill="#659a00"/>
<rect x="776" y="320" width="8" height="10" fill="#5ca300"/>
<rect x="784" y="320" width="8" height="10" fill="#54ab00"/>
<rect x="792" y="320" width="9" height="10" fill="#4db200"/>
<rect x="801" y="320" width="8" height="10" fill="#4ab500"/>
<rect x="809" y="320" width="8" height="10" fill="#49b600"/>
<rect x="817" y="320" width="8" height="10" fill="#48b700"/>
<rect x="825" y="320" width="8" height="10" fill="#47b800"/>
<rect x="833" y="320" width="8" height="10" fill="#41be00"/>
<rect x="866" y="320" width="8" height="10" fill="#12ed00"/>
<rect x="874" y="320" width="8" height="10" fill="#17e800"/>
<rect x="882" y="320" width="8" height="10" fill="#1ee100"/>
<rect x="890" y="320" width="8" height="10" fill="#29d600"/>
<rect x="898" y="320" width="8" height="10" fill="#778800"/>
<rect x="906" y="320" width="8" height="10" fill="#aa5500"/>
<rect x="914" y="320" width="9" height="10" fill="#b84700"/>
<rect x="923" y="320" width="8" height="10" fill="#bd4200"/>
<rect x="931" y="320" width="8" height="10" fill="#ba4500"/>
<rect x="939" y="320" width="8" height="10" fill="#9f6000"/>
<rect x="947" y="320" width="8" height="10" fill="#827d00"/>
<rect x="955" y="320" width="8" height="10" fill="#7c8300"/>
<rect x="963" y="320" width="8" height="10" fill="#7f8000"/>
<rect x="971" y="320" width="8" height="10" fill="#887700"/>
<rect x="979" y="320" width="9" height="10" fill="#926d00"/>
<rect x="988" y="320" width="8" height="10" fill="#976800"/>
<rect x="996" y="320" width="40" height="10" fill="#986700"/>
<rect x="231" y="330" width="9" height="10" fill="#0052ad"/>
<rect x="240" y="330" width="8" height="10" fill="#002bd4"/>
<rect x="248" y="330" width="8" height="10" fill="#001be4"/>
<rect x="256" y="330" width="8" height="10" fill="#0018e7"/>
<rect x="264" y="330" width="8" height="10" fill="#001fe0"/>
<rect x="272" y="330" width="8" height="10" fill="#002fd0"/>
<rect x="280" y="330" width="8" height="10" fill="#0048b7"/>
<rect x="288" y="330" width="8" height="10" fill="#00619e"/>
<rect x="296" y="330" width="9" height="10" fill="#006e91"/>
<rect x="305" y="330" width="8" height="10" fill="#00718e"/>
<rect x="313" y="330" width="8" height="10" fill="#006e91"/>
<rect x="321" y="330" width="8" height="10" fill="#006b94"/>
<rect x="329" y="330" width="8" height="10" fill="#00708f"/>
<rect x="337" y="330" width="8" height="10" fill="#00946b"/>
<rect x="345" y="330" width="8" height="10" fill="#00d12e"/>
<rect x="353" y="330" width="8" height="10" fill="#00db24"/>
<rect x="361" y="330" width="9" height="10" fill="#00e619"/>
<rect x="370" y="330" width="8" height="10" fill="#00f10e"/>
<rect x="378" y="330" width="8" height="10" fill="#0df200"/>
<rect x="386" y="330" width="8" height="10" fill="#c23d00"/>
<rect x="394" y="330" width="8" height="10" fill="#ff2d2d"/>
<rect x="402" y="330" width="8" height="10" fill="#fc0300"/>
<rect x="410" y="330" width="8" height="10" fill="#be4100"/>
<rect x="418" y="330" width="9" height="10" fill="#7e8100"/>
<rect x="427" y="330" width="8" height="10" fill="#6e9100"/>
<rect x="435" y="330" width="8" height="10" fill="#37c800"/>
<rect x="443" y="330" width="8" height="10" fill="#2fd000"/>
<rect x="451" y="330" width="8" height="10" fill="#33cc00"/>
<rect x="459" y="330" width="8" height="10" fill="#788700"/>
<rect x="467" y="330" width="8" height="10" fill="#956a00"/>
<rect x="475" y="330" width="8" height="10" fill="#a55a00"/>
<rect x="483" y="330" width="9" height="10" fill="#b04f00"/>
<rect x="492" y="330" width="8" height="10" fill="#b74800"/>
<rect x="500" y="330" width="8" height="10" fill="#ba4500"/>
<rect x="508" y="330" width="8" height="10" fill="#b94600"/>
<rect x="516" y="330" width="8" height="10" fill="#b84700"/>
<rect x="524" y="330" width="8" height="10" fill="#ba4500"/>
<rect x="532" y="330" width="8" height="10" fill="#c43b00"/>
<rect x="540" y="330" width="9" height="10" fill="#d32c00"/>
<rect x="549" y="330" width="8" height="10" fill="#f20d00"/>
<rect x="557" y="330" width="8" height="10" fill="#ff0303"/>
<rect x="565" y="330" width="8" height="10" fill="#ff0c0c"/>
<rect x="573" y="330" width="8" height="10" fill="#ff0f0f"/>
<rect x="581" y="330" width="8" height="10" fill="#ff0b0b"/>
<rect x="589" y="330" width="8" height="10" fill="#ff0404"/>
<rect x="597" y="330" width="8" height="10" fill="#f80700"/>
<rect x="605" y="330" width="9" height="10" fill="#e81700"/>
<rect x="614" y="330" width="8" height="10" fill="#768900"/>
<rect x="622" y="330" width="8" height="10" fill="#00fe01"/>
<rect x="630" y="330" width="8" height="10" fill="#00c837"/>
<rect x="638" y="330" width="8" height="10" fill="#53ac00"/>
<rect x="646" y="330" width="8" height="10" fill="#44bb00"/>
<rect x="654" y="330" width="8" height="10" fill="#45ba00"/>
<rect x="662" y="330" width="8" height="10" fill="#43bc00"/>
<rect x="670" y="330" width="9" height="10" fill="#3dc200"/>
<rect x="679" y="330" width="8" height="10" fill="#34cb00"/>
<rect x="687" y="330" width="8" height="10" fill="#2bd400"/>
<rect x="695" y="330" width="8" height="10" fill="#25da00"/>
<rect x="703" y="330" width="8" height="10" fill="#21de00"/>
<rect x="711" y="330" width="8" height="10" fill="#1fe000"/>
<rect x="719" y="330" width="8" height="10" fill="#26d900"/>
<rect x="727" y="330" width="9" height="10" fill="#53ac00"/>
<rect x="736" y="330" width="8" height="10" fill="#629d00"/>
<rect x="744" y="330" width="16" height="10" fill="#669900"/>
<rect x="760" y="330" width="8" height="10" fill="#649b00"/>
<rect x="768" y="330" width="8" height="10" fill="#5fa000"/>
<rect x="776" y="330" width="8" height="10" fill="#58a700"/>
<rect x="784" y="330" width="8" height="10" fill="#50af00"/>
<rect x="792" y="330" width="9" height="10" fill="#49b600"/>
<rect x="801" y="330" width="8" height="10" fill="#44bb00"/>
<rect x="809" y="330" width="8" height="10" fill="#41be00"/>
<rect x="817" y="330" width="8" height="10" fill="#3dc200"/>
<rect x="825" y="330" width="8" height="10" fill="#38c700"/>
<rect x="833" y="330" width="8" height="10" fill="#2cd300"/>
<rect x="841" y="330" width="8" height="10" fill="#1ae500"/>
<rect x="849" y="330" width="8" height="10" fill="#0df200"/>
<rect x="857" y="330" width="9" height="10" fill="#0af500"/>
<rect x="866" y="330" width="8" height="10" fill="#0bf400"/>
<rect x="874" y="330" width="8" height="10" fill="#0ef100"/>
<rect x="882" y="330" width="8" height="10" fill="#12ed00"/>
<rect x="890" y="330" width="8" height="10" fill="#19e600"/>
<rect x="898" y="330" width="8" height="10" fill="#4eb100"/>
<rect x="906" y="330" width="8" height="10" fill="#996600"/>
<rect x="914" y="330" width="9" height="10" fill="#a35c00"/>
<rect x="923" y="330" width="8" height="10" fill="#a25d00"/>
<rect x="931" y="330" width="8" height="10" fill="#887700"/>
<rect x="939" y="330" width="8" height="10" fill="#44bb00"/>
<rect x="947" y="330" width="8" height="10" fill="#3bc400"/>
<rect x="955" y="330" width="8" height="10" fill="#3fc000"/>
<rect x="963" y="330" width="8" height="10" fill="#4ab500"/>
<rect x="971" y="330" width="8" height="10" fill="#5ea100"/>
<rect x="979" y="330" width="9" height="10" fill="#7c8300"/>
<rect x="988" y="330" width="8" height="10" fill="#857a00"/>
<rect x="996" y="330" width="8" height="10" fill="#897600"/>
<rect x="1004" y="330" width="32" height="10" fill="#8a7500"/>
<rect x="231" y="340" width="9" height="10" fill="#0050af"/>
<rect x="240" y="340" width="8" height="10" fill="#002bd4"/>
<rect x="248" y="340" width="8" height="10" fill="#001ce3"/>
<rect x="256" y="340" width="8" height="10" fill="#0017e8"/>
<rect x="264" y="340" width="8" height="10" fill="#001de2"/>
<rect x="272" y="340" width="8" height="10" fill="#002dd2"/>
<rect x="280" y="340" width="8" height="10" fill="#0044bb"/>
<rect x="288" y="340" width="8" height="10" fill="#005ca3"/>
<rect x="296" y="340" width="9" height="10" fill="#006b94"/>
<rect x="305" y="340" width="8" height="10" fill="#00738c"/>
<rect x="313" y="340" width="16" height="10" fill="#00748b"/>
<rect x="329" y="340" width="8" height="10" fill="#007a85"/>
<rect x="337" y="340" width="8" height="10" fill="#00de21"/>
<rect x="345" y="340" width="8" height="10" fill="#00ff00"/>
<rect x="353" y="340" width="8" height="10" fill="#00fc03"/>
<rect x="361" y="340" width="9" height="10" fill="#00f40b"/>
<rect x="370" y="340" width="8" height="10" fill="#38c700"/>
<rect x="378" y="340" width="8" height="10" fill="#6c9300"/>
<rect x="386" y="340" width="8" height="10" fill="#a75800"/>
<rect x="394" y="340" width="8" height="10" fill="#d42b00"/>
<rect x="402" y="340" width="8" height="10" fill="#e11e00"/>
<rect x="410" y="340" width="8" height="10" fill="#9c6300"/>
<rect x="418" y="340" width="9" height="10" fill="#7b8400"/>
<rect x="427" y="340" width="8" height="10" fill="#6a9500"/>
<rect x="435" y="340" width="8" height="10" fill="#39c600"/>
<rect x="443" y="340" width="16" height="10" fill="#28d700"/>
<rect x="459" y="340" width="8" height="10" fill="#807f00"/>
<rect x="467" y="340" width="8" height="10" fill="#9a6500"/>
<rect x="475" y="340" width="8" height="10" fill="#a95600"/>
<rect x="483" y="340" width="9" height="10" fill="#b34c00"/>
<rect x="492" y="340" width="16" height="10" fill="#b84700"/>
<rect x="508" y="340" width="8" height="10" fill="#b14e00"/>
<rect x="516" y="340" width="8" height="10" fill="#a65900"/>
<rect x="524" y="340" width="8" height="10" fill="#a05f00"/>
<rect x="532" y="340" width="8" height="10" fill="#a35c00"/>
<rect x="540" y="340" width="9" height="10" fill="#b04f00"/>
<rect x="549" y="340" width="8" height="10" fill="#c13e00"/>
<rect x="557" y="340" width="8" height="10" fill="#cd3200"/>
<rect x="565" y="340" width="8" height="10" fill="#d32c00"/>
<rect x="573" y="340" width="16" height="10" fill="#d82700"/>
<rect x="589" y="340" width="8" height="10" fill="#d62900"/>
<rect x="597" y="340" width="8" height="10" fill="#ca3500"/>
<rect x="605" y="340" width="9" height="10" fill="#a85700"/>
<rect x="614" y="340" width="8" height="10" fill="#35ca00"/>
<rect x="622" y="340" width="8" height="10" fill="#01fe00"/>
<rect x="630" y="340" width="8" height="10" fill="#00c936"/>
<rect x="638" y="340" width="8" height="10" fill="#24db00"/>
<rect x="646" y="340" width="8" height="10" fill="#36c900"/>
<rect x="654" y="340" width="8" height="10" fill="#3ec100"/>
<rect x="662" y="340" width="8" height="10" fill="#3fc000"/>
<rect x="670" y="340" width="9" height="10" fill="#3ac500"/>
<rect x="679" y="340" width="8" height="10" fill="#31ce00"/>
<rect x="687" y="340" width="8" height="10" fill="#29d600"/>
<rect x="695" y="340" width="8" height="10" fill="#21de00"/>
<rect x="703" y="340" width="8" height="10" fill="#1be400"/>
<rect x="711" y="340" width="8" height="10" fill="#17e800"/>
<rect x="719" y="340" width="8" height="10" fill="#1ce300"/>
<rect x="727" y="340" width="9" height="10" fill="#2fd000"/>
<rect x="736" y="340" width="8" height="10" fill="#4bb400"/>
<rect x="744" y="340" width="8" height="10" fill="#56a900"/>
<rect x="752" y="340" width="8" height="10" fill="#5aa500"/>
<rect x="760" y="340" width="8" height="10" fill="#59a600"/>
<rect x="768" y="340" width="8" height="10" fill="#56a900"/>
<rect x="776" y="340" width="8" height="10" fill="#52ad00"/>
<rect x="784" y="340" width="8" height="10" fill="#4cb300"/>
<rect x="792" y="340" width="9" height="10" fill="#45ba00"/>
<rect x="801" y="340" width="8" height="10" fill="#40bf00"/>
<rect x="809" y="340" width="8" height="10" fill="#3ac500"/>
<rect x="817" y="340" width="8" height="10" fill="#34cb00"/>
<rect x="825" y="340" width="8" height="10" fill="#2bd400"/>
<rect x="833" y="340" width="8" height="10" fill="#1fe000"/>
<rect x="841" y="340" width="8" height="10" fill="#12ed00"/>
<rect x="849" y="340" width="8" height="10" fill="#0bf400"/>
<rect x="857" y="340" width="9" height="10" fill="#08f700"/>
<rect x="866" y="340" width="8" height="10" fill="#07f800"/>
<rect x="874" y="340" width="8" height="10" fill="#08f700"/>
<rect x="882" y="340" width="8" height="10" fill="#09f600"/>
<rect x="890" y="340" width="8" height="10" fill="#0cf300"/>
<rect x="898" y="340" width="8" height="10" fill="#15ea00"/>
<rect x="906" y="340" width="8" height="10" fill="#817e00"/>
<rect x="914" y="340" width="9" height="10" fill="#8a7500"/>
<rect x="923" y="340" width="8" height="10" fill="#817e00"/>
<rect x="931" y="340" width="8" height="10" fill="#41be00"/>
<rect x="939" y="340" width="8" height="10" fill="#25da00"/>
<rect x="947" y="340" width="8" height="10" fill="#21de00"/>
<rect x="955" y="340" width="8" height="10" fill="#24db00"/>
<rect x="963" y="340" width="8" height="10" fill="#30cf00"/>
<rect x="971" y="340" width="8" height="10" fill="#4bb400"/>
<rect x="979" y="340" width="9" height="10" fill="#679800"/>
<rect x="988" y="340" width="8" height="10" fill="#748b00"/>
<rect x="996" y="340" width="8" height="10" fill="#7a8500"/>
<rect x="1004" y="340" width="8" height="10" fill="#7b8400"/>
<rect x="1012" y="340" width="24" height="10" fill="#7c8300"/>
<rect x="231" y="350" width="9" height="10" fill="#004fb0"/>
<rect x="240" y="350" width="8" height="10" fill="#002cd3"/>
<rect x="248" y="350" width="8" height="10" fill="#001ce3"/>
<rect x="256" y="350" width="8" height="10" fill="#0017e8"/>
<rect x="264" y="350" width="8" height="10" fill="#001de2"/>
<rect x="272" y="350" width="8" height="10" fill="#002cd3"/>
<rect x="280" y="350" width="8" height="10" fill="#0043bc"/>
<rect x="288" y="350" width="8" height="10" fill="#005ba4"/>
<rect x="296" y="350" width="9" height="10" fill="#006f90"/>
<rect x="305" y="350" width="8" height="10" fill="#007e81"/>
<rect x="313" y="350" width="8" height="10" fill="#00847b"/>
<rect x="321" y="350" width="8" height="10" fill="#008679"/>
<rect x="329" y="350" width="8" height="10" fill="#008d72"/>
<rect x="337" y="350" width="8" height="10" fill="#00eb14"/>
<rect x="345" y="350" width="8" height="10" fill="#00fa05"/>
<rect x="353" y="350" width="8" height="10" fill="#07f800"/>
<rect x="361" y="350" width="9" height="10" fill="#1be400"/>
<rect x="370" y="350" width="8" height="10" fill="#39c600"/>
<rect x="378" y="350" width="8" height="10" fill="#639c00"/>
<rect x="386" y="350" width="8" height="10" fill="#877800"/>
<rect x="394" y="350" width="8" height="10" fill="#9e6100"/>
<rect x="402" y="350" width="8" height="10" fill="#9b6400"/>
<rect x="410" y="350" width="8" height="10" fill="#817e00"/>
<rect x="418" y="350" width="9" height="10" fill="#689700"/>
<rect x="427" y="350" width="8" height="10" fill="#4db200"/>
<rect x="435" y="350" width="8" height="10" fill="#32cd00"/>
<rect x="443" y="350" width="8" height="10" fill="#21de00"/>
<rect x="451" y="350" width="8" height="10" fill="#20df00"/>
<rect x="459" y="350" width="8" height="10" fill="#847b00"/>
<rect x="467" y="350" width="8" height="10" fill="#9c6300"/>
<rect x="475" y="350" width="8" height="10" fill="#aa5500"/>
<rect x="483" y="350" width="9" height="10" fill="#b44b00"/>
<rect x="492" y="350" width="8" height="10" fill="#b94600"/>
<rect x="500" y="350" width="8" height="10" fill="#b64900"/>
<rect x="508" y="350" width="8" height="10" fill="#aa5500"/>
<rect x="516" y="350" width="8" height="10" fill="#966900"/>
<rect x="524" y="350" width="8" height="10" fill="#8b7400"/>
<rect x="532" y="350" width="8" height="10" fill="#8c7300"/>
<rect x="540" y="350" width="9" height="10" fill="#956a00"/>
<rect x="549" y="350" width="8" height="10" fill="#9c6300"/>
<rect x="557" y="350" width="8" height="10" fill="#a05f00"/>
<rect x="565" y="350" width="8" height="10" fill="#a35c00"/>
<rect x="573" y="350" width="8" height="10" fill="#a75800"/>
<rect x="581" y="350" width="8" height="10" fill="#a85700"/>
<rect x="589" y="350" width="8" height="10" fill="#a55a00"/>
<rect x="597" y="350" width="8" height="10" fill="#897600"/>
<rect x="605" y="350" width="9" height="10" fill="#55aa00"/>
<rect x="614" y="350" width="8" height="10" fill="#26d900"/>
<rect x="622" y="350" width="8" height="10" fill="#06f900"/>
<rect x="630" y="350" width="8" height="10" fill="#00cb34"/>
<rect x="638" y="350" width="8" height="10" fill="#21de00"/>
<rect x="646" y="350" width="8" height="10" fill="#2cd300"/>
<rect x="654" y="350" width="8" height="10" fill="#37c800"/>
<rect x="662" y="350" width="8" height="10" fill="#3ac500"/>
<rect x="670" y="350" width="9" height="10" fill="#37c800"/>
<rect x="679" y="350" width="8" height="10" fill="#2ed100"/>
<rect x="687" y="350" width="8" height="10" fill="#25da00"/>
<rect x="695" y="350" width="8" height="10" fill="#1ce300"/>
<rect x="703" y="350" width="8" height="10" fill="#14eb00"/>
<rect x="711" y="350" width="8" height="10" fill="#11ee00"/>
<rect x="719" y="350" width="8" height="10" fill="#16e900"/>
<rect x="727" y="350" width="9" height="10" fill="#24db00"/>
<rect x="736" y="350" width="8" height="10" fill="#3ac500"/>
<rect x="744" y="350" width="8" height="10" fill="#47b800"/>
<rect x="752" y="350" width="16" height="10" fill="#4bb400"/>
<rect x="768" y="350" width="8" height="10" fill="#4ab500"/>
<rect x="776" y="350" width="8" height="10" fill="#49b600"/>
<rect x="784" y="350" width="8" height="10" fill="#46b900"/>
<rect x="792" y="350" width="9" height="10" fill="#41be00"/>
<rect x="801" y="350" width="8" height="10" fill="#3bc400"/>
<rect x="809" y="350" width="8" height="10" fill="#35ca00"/>
<rect x="817" y="350" width="8" height="10" fill="#2ed100"/>
<rect x="825" y="350" width="8" height="10" fill="#24db00"/>
<rect x="833" y="350" width="8" height="10" fill="#18e700"/>
<rect x="841" y="350" width="8" height="10" fill="#0ef100"/>
<rect x="849" y="350" width="8" height="10" fill="#09f600"/>
<rect x="857" y="350" width="9" height="10" fill="#06f900"/>
<rect x="866" y="350" width="8" height="10" fill="#05fa00"/>
<rect x="874" y="350" width="8" height="10" fill="#03fc00"/>
<rect x="882" y="350" width="16" height="10" fill="#01fe00"/>
<rect x="898" y="350" width="8" height="10" fill="#05fa00"/>
<rect x="906" y="350" width="8" height="10" fill="#11ee00"/>
<rect x="914" y="350" width="17" height="10" fill="#24db00"/>
<rect x="931" y="350" width="8" height="10" fill="#18e700"/>
<rect x="939" y="350" width="8" height="10" fill="#14eb00"/>
<rect x="947" y="350" width="8" height="10" fill="#12ed00"/>
<rect x="955" y="350" width="8" height="10" fill="#17e800"/>
<rect x="963" y="350" width="8" height="10" fill="#23dc00"/>
<rect x="971" y="350" width="8" height="10" fill="#3cc300"/>
<rect x="979" y="350" width="9" height="10" fill="#54ab00"/>
<rect x="988" y="350" width="8" height="10" fill="#629d00"/>
<rect x="996" y="350" width="8" height="10" fill="#689700"/>
<rect x="1004" y="350" width="8" height="10" fill="#6b9400"/>
<rect x="1012" y="350" width="24" height="10" fill="#6c9300"/>
<rect x="231" y="360" width="9" height="10" fill="#004eb1"/>
<rect x="240" y="360" width="8" height="10" fill="#002ed1"/>
<rect x="248" y="360" width="8" height="10" fill="#001de2"/>
<rect x="256" y="360" width="8" height="10" fill="#0018e7"/>
<rect x="264" y="360" width="8" height="10" fill="#001de2"/>
<rect x="272" y="360" width="8" height="10" fill="#002cd3"/>
<rect x="280" y="360" width="8" height="10" fill="#0043bc"/>
<rect x="288" y="360" width="8" height="10" fill="#005da2"/>
<rect x="296" y="360" width="9" height="10" fill="#007788"/>
<rect x="305" y="360" width="8" height="10" fill="#00916e"/>
<rect x="313" y="360" width="8" height="10" fill="#009f60"/>
<rect x="321" y="360" width="8" height="10" fill="#00a55a"/>
<rect x="329" y="360" width="8" height="10" fill="#00a956"/>
<rect x="337" y="360" width="8" height="10" fill="#00f00f"/>
<rect x="345" y="360" width="8" height="10" fill="#02fd00"/>
<rect x="353" y="360" width="8" height="10" fill="#11ee00"/>
<rect x="361" y="360" width="9" height="10" fill="#28d700"/>
<rect x="370" y="360" width="8" height="10" fill="#43bc00"/>
<rect x="378" y="360" width="8" height="10" fill="#5ea100"/>
<rect x="386" y="360" width="8" height="10" fill="#768900"/>
<rect x="394" y="360" width="8" height="10" fill="#827d00"/>
<rect x="402" y="360" width="8" height="10" fill="#7d8200"/>
<rect x="410" y="360" width="8" height="10" fill="#6b9400"/>
<rect x="418" y="360" width="9" height="10" fill="#53ac00"/>
<rect x="427" y="360" width="8" height="10" fill="#3ac500"/>
<rect x="435" y="360" width="8" height="10" fill="#24db00"/>
<rect x="443" y="360" width="8" height="10" fill="#19e600"/>
<rect x="451" y="360" width="8" height="10" fill="#1be400"/>
<rect x="459" y="360" width="8" height="10" fill="#867900"/>
<rect x="467" y="360" width="8" height="10" fill="#9c6300"/>
<rect x="475" y="360" width="8" height="10" fill="#aa5500"/>
<rect x="483" y="360" width="9" height="10" fill="#b44b00"/>
<rect x="492" y="360" width="8" height="10" fill="#b84700"/>
<rect x="500" y="360" width="8" height="10" fill="#b44b00"/>
<rect x="508" y="360" width="8" height="10" fill="#a45b00"/>
<rect x="516" y="360" width="8" height="10" fill="#877800"/>
<rect x="524" y="360" width="8" height="10" fill="#7c8300"/>
<rect x="532" y="360" width="8" height="10" fill="#7b8400"/>
<rect x="540" y="360" width="9" height="10" fill="#7e8100"/>
<rect x="549" y="360" width="8" height="10" fill="#7f8000"/>
<rect x="557" y="360" width="8" height="10" fill="#7d8200"/>
<rect x="565" y="360" width="8" height="10" fill="#7b8400"/>
<rect x="573" y="360" width="8" height="10" fill="#7a8500"/>
<rect x="581" y="360" width="8" height="10" fill="#778800"/>
<rect x="589" y="360" width="8" height="10" fill="#708f00"/>
<rect x="597" y="360" width="8" height="10" fill="#55aa00"/>
<rect x="605" y="360" width="9" height="10" fill="#37c800"/>
<rect x="614" y="360" width="8" height="10" fill="#22dd00"/>
<rect x="622" y="360" width="8" height="10" fill="#12ed00"/>
<rect x="630" y="360" width="8" height="10" fill="#02fd00"/>
<rect x="638" y="360" width="8" height="10" fill="#1ee100"/>
<rect x="646" y="360" width="8" height="10" fill="#27d800"/>
<rect x="654" y="360" width="8" height="10" fill="#31ce00"/>
<rect x="662" y="360" width="8" height="10" fill="#34cb00"/>
<rect x="670" y="360" width="9" height="10" fill="#31ce00"/>
<rect x="679" y="360" width="8" height="10" fill="#2ad500"/>
<rect x="687" y="360" width="8" height="10" fill="#20df00"/>
<rect x="695" y="360" width="8" height="10" fill="#16e900"/>
<rect x="703" y="360" width="8" height="10" fill="#0df200"/>
<rect x="711" y="360" width="8" height="10" fill="#0af500"/>
<rect x="719" y="360" width="8" height="10" fill="#0ff000"/>
<rect x="727" y="360" width="9" height="10" fill="#1be400"/>
<rect x="736" y="360" width="8" height="10" fill="#2dd200"/>
<rect x="744" y="360" width="8" height="10" fill="#39c600"/>
<rect x="752" y="360" width="8" height="10" fill="#3ec100"/>
<rect x="760" y="360" width="16" height="10" fill="#3fc000"/>
<rect x="776" y="360" width="8" height="10" fill="#40bf00"/>
<rect x="784" y="360" width="8" height="10" fill="#3fc000"/>
<rect x="792" y="360" width="9" height="10" fill="#3cc300"/>
<rect x="801" y="360" width="8" height="10" fill="#37c800"/>
<rect x="809" y="360" width="8" height="10" fill="#31ce00"/>
<rect x="817" y="360" width="8" height="10" fill="#2ad500"/>
<rect x="825" y="360" width="8" height="10" fill="#20df00"/>
<rect x="833" y="360" width="8" height="10" fill="#14eb00"/>
<rect x="841" y="360" width="8" height="10" fill="#0cf300"/>
<rect x="849" y="360" width="8" height="10" fill="#07f800"/>
<rect x="857" y="360" width="9" height="10" fill="#04fb00"/>
<rect x="866" y="360" width="8" height="10" fill="#01fe00"/>
<rect x="874" y="360" width="8" height="10" fill="#00fc03"/>
<rect x="882" y="360" width="8" height="10" fill="#00f708"/>
<rect x="890" y="360" width="16" height="10" fill="#00f50a"/>
<rect x="906" y="360" width="8" height="10" fill="#00f906"/>
<rect x="914" y="360" width="9" height="10" fill="#00ff00"/>
<rect x="923" y="360" width="8" height="10" fill="#06f900"/>
<rect x="931" y="360" width="8" height="10" fill="#09f600"/>
<rect x="939" y="360" width="8" height="10" fill="#0af500"/>
<rect x="947" y="360" width="8" height="10" fill="#0bf400"/>
<rect x="955" y="360" width="8" height="10" fill="#10ef00"/>
<rect x="963" y="360" width="8" height="10" fill="#1ce300"/>
<rect x="971" y="360" width="8" height="10" fill="#32cd00"/>
<rect x="979" y="360" width="9" height="10" fill="#44bb00"/>
<rect x="988" y="360" width="8" height="10" fill="#50af00"/>
<rect x="996" y="360" width="8" height="10" fill="#56a900"/>
<rect x="1004" y="360" width="8" height="10" fill="#58a700"/>
<rect x="1012" y="360" width="24" height="10" fill="#59a600"/>
<rect x="231" y="370" width="9" height="10" fill="#004db2"/>
<rect x="240" y="370" width="8" height="10" fill="#002fd0"/>
<rect x="248" y="370" width="8" height="10" fill="#001ee1"/>
<rect x="256" y="370" width="8" height="10" fill="#0019e6"/>
<rect x="264" y="370" width="8" height="10" fill="#001ee1"/>
<rect x="272" y="370" width="8" height="10" fill="#002fd0"/>
<rect x="280" y="370" width="8" height="10" fill="#0046b9"/>
<rect x="288" y="370" width="8" height="10" fill="#00629d"/>
<rect x="296" y="370" width="9" height="10" fill="#00837c"/>
<rect x="305" y="370" width="8" height="10" fill="#00b04f"/>
<rect x="313" y="370" width="8" height="10" fill="#00c23d"/>
<rect x="321" y="370" width="8" height="10" fill="#00c936"/>
<rect x="329" y="370" width="8" height="10" fill="#00d629"/>
<rect x="337" y="370" width="8" height="10" fill="#00f609"/>
<rect x="345" y="370" width="8" height="10" fill="#0af500"/>
<rect x="353" y="370" width="8" height="10" fill="#1ce300"/>
<rect x="361" y="370" width="9" height="10" fill="#33cc00"/>
<rect x="370" y="370" width="8" height="10" fill="#49b600"/>
<rect x="378" y="370" width="8" height="10" fill="#5aa500"/>
<rect x="386" y="370" width="8" height="10" fill="#669900"/>
<rect x="394" y="370" width="8" height="10" fill="#6b9400"/>
<rect x="402" y="370" width="8" height="10" fill="#639c00"/>
<rect x="410" y="370" width="8" height="10" fill="#46b900"/>
<rect x="418" y="370" width="9" height="10" fill="#2cd300"/>
<rect x="427" y="370" width="8" height="10" fill="#1de200"/>
<rect x="435" y="370" width="8" height="10" fill="#14eb00"/>
<rect x="443" y="370" width="8" height="10" fill="#11ee00"/>
<rect x="451" y="370" width="8" height="10" fill="#17e800"/>
<rect x="459" y="370" width="8" height="10" fill="#847b00"/>
<rect x="467" y="370" width="8" height="10" fill="#9a6500"/>
<rect x="475" y="370" width="8" height="10" fill="#a95600"/>
<rect x="483" y="370" width="9" height="10" fill="#b34c00"/>
<rect x="492" y="370" width="8" height="10" fill="#b64900"/>
<rect x="500" y="370" width="8" height="10" fill="#b04f00"/>
<rect x="508" y="370" width="8" height="10" fill="#9c6300"/>
<rect x="516" y="370" width="8" height="10" fill="#7c8300"/>
<rect x="524" y="370" width="8" height="10" fill="#718e00"/>
<rect x="532" y="370" width="8" height="10" fill="#6d9200"/>
<rect x="540" y="370" width="9" height="10" fill="#6c9300"/>
<rect x="549" y="370" width="8" height="10" fill="#6a9500"/>
<rect x="557" y="370" width="8" height="10" fill="#679800"/>
<rect x="565" y="370" width="8" height="10" fill="#639c00"/>
<rect x="573" y="370" width="8" height="10" fill="#609f00"/>
<rect x="581" y="370" width="8" height="10" fill="#5aa500"/>
<rect x="589" y="370" width="8" height="10" fill="#4fb000"/>
<rect x="597" y="370" width="8" height="10" fill="#3fc000"/>
<rect x="605" y="370" width="9" height="10" fill="#2ed100"/>
<rect x="614" y="370" width="8" height="10" fill="#20df00"/>
<rect x="622" y="370" width="8" height="10" fill="#16e900"/>
<rect x="630" y="370" width="8" height="10" fill="#13ec00"/>
<rect x="638" y="370" width="8" height="10" fill="#19e600"/>
<rect x="646" y="370" width="8" height="10" fill="#23dc00"/>
<rect x="654" y="370" width="8" height="10" fill="#2ad500"/>
<rect x="662" y="370" width="8" height="10" fill="#2dd200"/>
<rect x="670" y="370" width="9" height="10" fill="#2bd400"/>
<rect x="679" y="370" width="8" height="10" fill="#26d900"/>
<rect x="687" y="370" width="8" height="10" fill="#1ce300"/>
<rect x="695" y="370" width="8" height="10" fill="#10ef00"/>
<rect x="703" y="370" width="8" height="10" fill="#06f900"/>
<rect x="711" y="370" width="8" height="10" fill="#02fd00"/>
<rect x="719" y="370" width="8" height="10" fill="#07f800"/>
<rect x="727" y="370" width="9" height="10" fill="#13ec00"/>
<rect x="736" y="370" width="8" height="10" fill="#20df00"/>
<rect x="744" y="370" width="8" height="10" fill="#2cd300"/>
<rect x="752" y="370" width="8" height="10" fill="#34cb00"/>
<rect x="760" y="370" width="8" height="10" fill="#37c800"/>
<rect x="768" y="370" width="8" height="10" fill="#38c700"/>
<rect x="776" y="370" width="16" height="10" fill="#39c600"/>
<rect x="792" y="370" width="9" height="10" fill="#36c900"/>
<rect x="801" y="370" width="8" height="10" fill="#33cc00"/>
<rect x="809" y="370" width="8" height="10" fill="#2ed100"/>
<rect x="817" y="370" width="8" height="10" fill="#28d700"/>
<rect x="825" y="370" width="8" height="10" fill="#1ee100"/>
<rect x="833" y="370" width="8" height="10" fill="#13ec00"/>
<rect x="841" y="370" width="8" height="10" fill="#0bf400"/>
<rect x="849" y="370" width="8" height="10" fill="#05fa00"/>
<rect x="857" y="370" width="9" height="10" fill="#00ff00"/>
<rect x="866" y="370" width="8" height="10" fill="#00fa05"/>
<rect x="874" y="370" width="8" height="10" fill="#00f30c"/>
<rect x="882" y="370" width="8" height="10" fill="#00ec13"/>
<rect x="890" y="370" width="8" height="10" fill="#00e817"/>
<rect x="898" y="370" width="8" height="10" fill="#00e718"/>
<rect x="906" y="370" width="8" height="10" fill="#00eb14"/>
<rect x="914" y="370" width="9" height="10" fill="#00f10e"/>
<rect x="923" y="370" width="8" height="10" fill="#00fa05"/>
<rect x="931" y="370" width="8" height="10" fill="#01fe00"/>
<rect x="939" y="370" width="8" height="10" fill="#05fa00"/>
<rect x="947" y="370" width="8" height="10" fill="#07f800"/>
<rect x="955" y="370" width="8" height="10" fill="#0df200"/>
<rect x="963" y="370" width="8" height="10" fill="#19e600"/>
<rect x="971" y="370" width="8" height="10" fill="#2cd300"/>
<rect x="979" y="370" width="9" height="10" fill="#39c600"/>
<rect x="988" y="370" width="8" height="10" fill="#41be00"/>
<rect x="996" y="370" width="8" height="10" fill="#44bb00"/>
<rect x="1004" y="370" width="8" height="10" fill="#45ba00"/>
<rect x="1012" y="370" width="16" height="10" fill="#44bb00"/>
<rect x="1028" y="370" width="8" height="10" fill="#43bc00"/>
<rect x="231" y="380" width="9" height="10" fill="#004cb3"/>
<rect x="240" y="380" width="8" height="10" fill="#0031ce"/>
<rect x="248" y="380" width="8" height="10" fill="#0020df"/>
<rect x="256" y="380" width="8" height="10" fill="#001be4"/>
<rect x="264" y="380" width="8" height="10" fill="#0022dd"/>
<rect x="272" y="380" width="8" height="10" fill="#0036c9"/>
<rect x="280" y="380" width="8" height="10" fill="#0051ae"/>
<rect x="288" y="380" width="8" height="10" fill="#00708f"/>
<rect x="296" y="380" width="9" height="10" fill="#00a05f"/>
<rect x="305" y="380" width="8" height="10" fill="#00c837"/>
<rect x="313" y="380" width="8" height="10" fill="#00db24"/>
<rect x="321" y="380" width="8" height="10" fill="#00e718"/>
<rect x="329" y="380" width="8" height="10" fill="#00f20d"/>
<rect x="337" y="380" width="8" height="10" fill="#03fc00"/>
<rect x="345" y="380" width="8" height="10" fill="#16e900"/>
<rect x="353" y="380" width="8" height="10" fill="#2dd200"/>
<rect x="361" y="380" width="9" height="10" fill="#3fc000"/>
<rect x="370" y="380" width="8" height="10" fill="#4db200"/>
<rect x="378" y="380" width="8" height="10" fill="#56a900"/>
<rect x="386" y="380" width="8" height="10" fill="#58a700"/>
<rect x="394" y="380" width="8" height="10" fill="#4fb000"/>
<rect x="402" y="380" width="8" height="10" fill="#38c700"/>
<rect x="410" y="380" width="8" height="10" fill="#22dd00"/>
<rect x="418" y="380" width="9" height="10" fill="#17e800"/>
<rect x="427" y="380" width="8" height="10" fill="#0ff000"/>
<rect x="435" y="380" width="8" height="10" fill="#0bf400"/>
<rect x="443" y="380" width="8" height="10" fill="#0cf300"/>
<rect x="451" y="380" width="8" height="10" fill="#15ea00"/>
<rect x="459" y="380" width="8" height="10" fill="#7e8100"/>
<rect x="467" y="380" width="8" height="10" fill="#956a00"/>
<rect x="475" y="380" width="8" height="10" fill="#a45b00"/>
<rect x="483" y="380" width="9" height="10" fill="#ae5100"/>
<rect x="492" y="380" width="8" height="10" fill="#b04f00"/>
<rect x="500" y="380" width="8" height="10" fill="#a85700"/>
<rect x="508" y="380" width="8" height="10" fill="#8b7400"/>
<rect x="516" y="380" width="8" height="10" fill="#708f00"/>
<rect x="524" y="380" width="8" height="10" fill="#659a00"/>
<rect x="532" y="380" width="8" height="10" fill="#609f00"/>
<rect x="540" y="380" width="9" height="10" fill="#5ca300"/>
<rect x="549" y="380" width="8" height="10" fill="#58a700"/>
<rect x="557" y="380" width="8" height="10" fill="#54ab00"/>
<rect x="565" y="380" width="8" height="10" fill="#50af00"/>
<rect x="573" y="380" width="8" height="10" fill="#4bb400"/>
<rect x="581" y="380" width="8" height="10" fill="#47b800"/>
<rect x="589" y="380" width="8" height="10" fill="#3fc000"/>
<rect x="597" y="380" width="8" height="10" fill="#34cb00"/>
<rect x="605" y="380" width="9" height="10" fill="#28d700"/>
<rect x="614" y="380" width="8" height="10" fill="#1ee100"/>
<rect x="622" y="380" width="8" height="10" fill="#17e800"/>
<rect x="630" y="380" width="8" height="10" fill="#15ea00"/>
<rect x="638" y="380" width="8" height="10" fill="#1ae500"/>
<rect x="646" y="380" width="8" height="10" fill="#21de00"/>
<rect x="654" y="380" width="8" height="10" fill="#26d900"/>
<rect x="662" y="380" width="8" height="10" fill="#28d700"/>
<rect x="670" y="380" width="9" height="10" fill="#26d900"/>
<rect x="679" y="380" width="8" height="10" fill="#22dd00"/>
<rect x="687" y="380" width="8" height="10" fill="#19e600"/>
<rect x="695" y="380" width="8" height="10" fill="#0df200"/>
<rect x="703" y="380" width="8" height="10" fill="#01fe00"/>
<rect x="711" y="380" width="8" height="10" fill="#00fb04"/>
<rect x="719" y="380" width="8" height="10" fill="#00ff00"/>
<rect x="727" y="380" width="9" height="10" fill="#0cf300"/>
<rect x="736" y="380" width="8" height="10" fill="#18e700"/>
<rect x="744" y="380" width="8" height="10" fill="#24db00"/>
<rect x="752" y="380" width="8" height="10" fill="#2ed100"/>
<rect x="760" y="380" width="8" height="10" fill="#33cc00"/>
<rect x="768" y="380" width="24" height="10" fill="#35ca00"/>
<rect x="792" y="380" width="9" height="10" fill="#33cc00"/>
<rect x="801" y="380" width="8" height="10" fill="#30cf00"/>
<rect x="809" y="380" width="8" height="10" fill="#2cd300"/>
<rect x="817" y="380" width="8" height="10" fill="#27d800"/>
<rect x="825" y="380" width="8" height="10" fill="#1de200"/>
<rect x="833" y="380" width="8" height="10" fill="#13ec00"/>
<rect x="841" y="380" width="8" height="10" fill="#0af500"/>
<rect x="849" y="380" width="8" height="10" fill="#03fc00"/>
<rect x="857" y="380" width="9" height="10" fill="#00fb04"/>
<rect x="866" y="380" width="8" height="10" fill="#00f20d"/>
<rect x="874" y="380" width="8" height="10" fill="#00e916"/>
<rect x="882" y="380" width="8" height="10" fill="#00e21d"/>
<rect x="890" y="380" width="8" height="10" fill="#00de21"/>
<rect x="898" y="380" width="8" height="10" fill="#00dd22"/>
<rect x="906" y="380" width="8" height="10" fill="#00e01f"/>
<rect x="914" y="380" width="9" height="10" fill="#00e916"/>
<rect x="923" y="380" width="8" height="10" fill="#00f50a"/>
<rect x="931" y="380" width="8" height="10" fill="#00fd02"/>
<rect x="939" y="380" width="8" height="10" fill="#03fc00"/>
<rect x="947" y="380" width="8" height="10" fill="#06f900"/>
<rect x="955" y="380" width="8" height="10" fill="#0cf300"/>
<rect x="963" y="380" width="8" height="10" fill="#17e800"/>
<rect x="971" y="380" width="8" height="10" fill="#28d700"/>
<rect x="979" y="380" width="9" height="10" fill="#32cd00"/>
<rect x="988" y="380" width="8" height="10" fill="#36c900"/>
<rect x="996" y="380" width="8" height="10" fill="#35ca00"/>
<rect x="1004" y="380" width="8" height="10" fill="#33cc00"/>
<rect x="1012" y="380" width="8" height="10" fill="#30cf00"/>
<rect x="1020" y="380" width="8" height="10" fill="#2ed100"/>
<rect x="1028" y="380" width="8" height="10" fill="#2bd400"/>
<rect x="231" y="390" width="9" height="10" fill="#004cb3"/>
<rect x="240" y="390" width="8" height="10" fill="#0034cb"/>
<rect x="248" y="390" width="8" height="10" fill="#0024db"/>
<rect x="256" y="390" width="8" height="10" fill="#0021de"/>
<rect x="264" y="390" width="8" height="10" fill="#002bd4"/>
<rect x="272" y="390" width="8" height="10" fill="#0052ad"/>
<rect x="280" y="390" width="8" height="10" fill="#007a85"/>
<rect x="288" y="390" width="8" height="10" fill="#00a05f"/>
<rect x="296" y="390" width="9" height="10" fill="#00c23d"/>
<rect x="305" y="390" width="8" height="10" fill="#00e11e"/>
<rect x="313" y="390" width="8" height="10" fill="#00f50a"/>
<rect x="321" y="390" width="8" height="10" fill="#00ff00"/>
<rect x="329" y="390" width="8" height="10" fill="#0af500"/>
<rect x="337" y="390" width="8" height="10" fill="#16e900"/>
<rect x="345" y="390" width="8" height="10" fill="#29d600"/>
<rect x="353" y="390" width="8" height="10" fill="#39c600"/>
<rect x="361" y="390" width="9" height="10" fill="#45ba00"/>
<rect x="370" y="390" width="8" height="10" fill="#4db200"/>
<rect x="378" y="390" width="8" height="10" fill="#51ae00"/>
<rect x="386" y="390" width="8" height="10" fill="#4cb300"/>
<rect x="394" y="390" width="8" height="10" fill="#3bc400"/>
<rect x="402" y="390" width="8" height="10" fill="#24db00"/>
<rect x="410" y="390" width="8" height="10" fill="#15ea00"/>
<rect x="418" y="390" width="9" height="10" fill="#0cf300"/>
<rect x="427" y="390" width="8" height="10" fill="#08f700"/>
<rect x="435" y="390" width="8" height="10" fill="#07f800"/>
<rect x="443" y="390" width="8" height="10" fill="#0af500"/>
<rect x="451" y="390" width="8" height="10" fill="#16e900"/>
<rect x="459" y="390" width="8" height="10" fill="#738c00"/>
<rect x="467" y="390" width="8" height="10" fill="#8b7400"/>
<rect x="475" y="390" width="8" height="10" fill="#9b6400"/>
<rect x="483" y="390" width="17" height="10" fill="#a45b00"/>
<rect x="500" y="390" width="8" height="10" fill="#996600"/>
<rect x="508" y="390" width="8" height="10" fill="#7a8500"/>
<rect x="516" y="390" width="8" height="10" fill="#5fa000"/>
<rect x="524" y="390" width="8" height="10" fill="#56a900"/>
<rect x="532" y="390" width="8" height="10" fill="#51ae00"/>
<rect x="540" y="390" width="9" height="10" fill="#4eb100"/>
<rect x="549" y="390" width="8" height="10" fill="#49b600"/>
<rect x="557" y="390" width="8" height="10" fill="#45ba00"/>
<rect x="565" y="390" width="8" height="10" fill="#40bf00"/>
<rect x="573" y="390" width="8" height="10" fill="#3bc400"/>
<rect x="581" y="390" width="8" height="10" fill="#36c900"/>
<rect x="589" y="390" width="8" height="10" fill="#31ce00"/>
<rect x="597" y="390" width="8" height="10" fill="#2ad500"/>
<rect x="605" y="390" width="9" height="10" fill="#23dc00"/>
<rect x="614" y="390" width="8" height="10" fill="#1de200"/>
<rect x="622" y="390" width="8" height="10" fill="#18e700"/>
<rect x="630" y="390" width="8" height="10" fill="#16e900"/>
<rect x="638" y="390" width="8" height="10" fill="#1ae500"/>
<rect x="646" y="390" width="8" height="10" fill="#20df00"/>
<rect x="654" y="390" width="8" height="10" fill="#24db00"/>
<rect x="662" y="390" width="8" height="10" fill="#25da00"/>
<rect x="670" y="390" width="9" height="10" fill="#23dc00"/>
<rect x="679" y="390" width="8" height="10" fill="#1fe000"/>
<rect x="687" y="390" width="8" height="10" fill="#17e800"/>
<rect x="695" y="390" width="8" height="10" fill="#0bf400"/>
<rect x="703" y="390" width="8" height="10" fill="#00fe01"/>
<rect x="711" y="390" width="8" height="10" fill="#00f807"/>
<rect x="719" y="390" width="8" height="10" fill="#00fb04"/>
<rect x="727" y="390" width="9" height="10" fill="#08f700"/>
<rect x="736" y="390" width="8" height="10" fill="#15ea00"/>
<rect x="744" y="390" width="8" height="10" fill="#21de00"/>
<rect x="752" y="390" width="8" height="10" fill="#2bd400"/>
<rect x="760" y="390" width="8" height="10" fill="#31ce00"/>
<rect x="768" y="390" width="16" height="10" fill="#34cb00"/>
<rect x="784" y="390" width="8" height="10" fill="#33cc00"/>
<rect x="792" y="390" width="9" height="10" fill="#31ce00"/>
<rect x="801" y="390" width="8" height="10" fill="#2ed100"/>
<rect x="809" y="390" width="8" height="10" fill="#2bd400"/>
<rect x="817" y="390" width="8" height="10" fill="#26d900"/>
<rect x="825" y="390" width="8" height="10" fill="#1de200"/>
<rect x="833" y="390" width="8" height="10" fill="#13ec00"/>
<rect x="841" y="390" width="8" height="10" fill="#0af500"/>
<rect x="849" y="390" width="8" height="10" fill="#02fd00"/>
<rect x="857" y="390" width="9" height="10" fill="#00f906"/>
<rect x="866" y="390" width="8" height="10" fill="#00ed12"/>
<rect x="874" y="390" width="8" height="10" fill="#00e41b"/>
<rect x="882" y="390" width="8" height="10" fill="#00dc23"/>
<rect x="890" y="390" width="16" height="10" fill="#00d827"/>
<rect x="906" y="390" width="8" height="10" fill="#00dc23"/>
<rect x="914" y="390" width="9" height="10" fill="#00e619"/>
<rect x="923" y="390" width="8" height="10" fill="#00f30c"/>
<rect x="931" y="390" width="8" height="10" fill="#00fd02"/>
<rect x="939" y="390" width="8" height="10" fill="#03fc00"/>
<rect x="947" y="390" width="8" height="10" fill="#06f900"/>
<rect x="955" y="390" width="8" height="10" fill="#0bf400"/>
<rect x="963" y="390" width="8" height="10" fill="#16e900"/>
<rect x="971" y="390" width="8" height="10" fill="#26d900"/>
<rect x="979" y="390" width="9" height="10" fill="#2fd000"/>
<rect x="988" y="390" width="8" height="10" fill="#31ce00"/>
<rect x="996" y="390" width="8" height="10" fill="#2dd200"/>
<rect x="1004" y="390" width="8" height="10" fill="#29d600"/>
<rect x="1012" y="390" width="8" height="10" fill="#25da00"/>
<rect x="1020" y="390" width="8" height="10" fill="#22dd00"/>
<rect x="1028" y="390" width="8" height="10" fill="#1fe000"/>
<rect x="231" y="400" width="9" height="10" fill="#004fb0"/>
<rect x="240" y="400" width="8" height="10" fill="#003bc4"/>
<rect x="248" y="400" width="8" height="10" fill="#002dd2"/>
<rect x="256" y="400" width="8" height="10" fill="#002cd3"/>
<rect x="264" y="400" width="8" height="10" fill="#005ea1"/>
<rect x="272" y="400" width="8" height="10" fill="#009768"/>
<rect x="280" y="400" width="8" height="10" fill="#00b649"/>
<rect x="288" y="400" width="8" height="10" fill="#00d02f"/>
<rect x="296" y="400" width="9" height="10" fill="#00e31c"/>
<rect x="305" y="400" width="8" height="10" fill="#00f708"/>
<rect x="313" y="400" width="8" height="10" fill="#0ef100"/>
<rect x="321" y="400" width="8" height="10" fill="#1ce300"/>
<rect x="329" y="400" width="8" height="10" fill="#24db00"/>
<rect x="337" y="400" width="8" height="10" fill="#2cd300"/>
<rect x="345" y="400" width="8" height="10" fill="#36c900"/>
<rect x="353" y="400" width="8" height="10" fill="#41be00"/>
<rect x="361" y="400" width="9" height="10" fill="#48b700"/>
<rect x="370" y="400" width="8" height="10" fill="#4cb300"/>
<rect x="378" y="400" width="8" height="10" fill="#4bb400"/>
<rect x="386" y="400" width="8" height="10" fill="#43bc00"/>
<rect x="394" y="400" width="8" height="10" fill="#2cd300"/>
<rect x="402" y="400" width="8" height="10" fill="#19e600"/>
<rect x="410" y="400" width="8" height="10" fill="#0df200"/>
<rect x="418" y="400" width="9" height="10" fill="#08f700"/>
<rect x="427" y="400" width="8" height="10" fill="#05fa00"/>
<rect x="435" y="400" width="8" height="10" fill="#06f900"/>
<rect x="443" y="400" width="8" height="10" fill="#0af500"/>
<rect x="451" y="400" width="8" height="10" fill="#18e700"/>
<rect x="459" y="400" width="8" height="10" fill="#699600"/>
<rect x="467" y="400" width="8" height="10" fill="#817e00"/>
<rect x="475" y="400" width="8" height="10" fill="#8e7100"/>
<rect x="483" y="400" width="9" height="10" fill="#956a00"/>
<rect x="492" y="400" width="8" height="10" fill="#946b00"/>
<rect x="500" y="400" width="8" height="10" fill="#877800"/>
<rect x="508" y="400" width="8" height="10" fill="#54ab00"/>
<rect x="516" y="400" width="8" height="10" fill="#47b800"/>
<rect x="524" y="400" width="8" height="10" fill="#44bb00"/>
<rect x="532" y="400" width="8" height="10" fill="#41be00"/>
<rect x="540" y="400" width="9" height="10" fill="#3ec100"/>
<rect x="549" y="400" width="8" height="10" fill="#3ac500"/>
<rect x="557" y="400" width="8" height="10" fill="#35ca00"/>
<rect x="565" y="400" width="8" height="10" fill="#30cf00"/>
<rect x="573" y="400" width="8" height="10" fill="#2bd400"/>
<rect x="581" y="400" width="8" height="10" fill="#26d900"/>
<rect x="589" y="400" width="8" height="10" fill="#23dc00"/>
<rect x="597" y="400" width="8" height="10" fill="#21de00"/>
<rect x="605" y="400" width="9" height="10" fill="#1fe000"/>
<rect x="614" y="400" width="8" height="10" fill="#1ce300"/>
<rect x="622" y="400" width="8" height="10" fill="#19e600"/>
<rect x="630" y="400" width="8" height="10" fill="#18e700"/>
<rect x="638" y="400" width="8" height="10" fill="#1be400"/>
<rect x="646" y="400" width="8" height="10" fill="#20df00"/>
<rect x="654" y="400" width="8" height="10" fill="#22dd00"/>
<rect x="662" y="400" width="8" height="10" fill="#23dc00"/>
<rect x="670" y="400" width="9" height="10" fill="#21de00"/>
<rect x="679" y="400" width="8" height="10" fill="#1de200"/>
<rect x="687" y="400" width="8" height="10" fill="#16e900"/>
<rect x="695" y="400" width="8" height="10" fill="#0af500"/>
<rect x="703" y="400" width="8" height="10" fill="#00fd02"/>
<rect x="711" y="400" width="8" height="10" fill="#00f708"/>
<rect x="719" y="400" width="8" height="10" fill="#00fa05"/>
<rect x="727" y="400" width="9" height="10" fill="#07f800"/>
<rect x="736" y="400" width="8" height="10" fill="#14eb00"/>
<rect x="744" y="400" width="8" height="10" fill="#20df00"/>
<rect x="752" y="400" width="8" height="10" fill="#2bd400"/>
<rect x="760" y="400" width="8" height="10" fill="#32cd00"/>
<rect x="768" y="400" width="16" height="10" fill="#34cb00"/>
<rect x="784" y="400" width="8" height="10" fill="#33cc00"/>
<rect x="792" y="400" width="9" height="10" fill="#31ce00"/>
<rect x="801" y="400" width="8" height="10" fill="#2fd000"/>
<rect x="809" y="400" width="8" height="10" fill="#2cd300"/>
<rect x="817" y="400" width="8" height="10" fill="#27d800"/>
<rect x="825" y="400" width="8" height="10" fill="#1fe000"/>
<rect x="833" y="400" width="8" height="10" fill="#14eb00"/>
<rect x="841" y="400" width="8" height="10" fill="#0af500"/>
<rect x="849" y="400" width="8" height="10" fill="#03fc00"/>
<rect x="857" y="400" width="9" height="10" fill="#00f906"/>
<rect x="866" y="400" width="8" height="10" fill="#00ee11"/>
<rect x="874" y="400" width="8" height="10" fill="#00e41b"/>
<rect x="882" y="400" width="8" height="10" fill="#00de21"/>
<rect x="890" y="400" width="16" height="10" fill="#00da25"/>
<rect x="906" y="400" width="8" height="10" fill="#00de21"/>
<rect x="914" y="400" width="9" height="10" fill="#00e817"/>
<rect x="923" y="400" width="8" height="10" fill="#00f40b"/>
<rect x="931" y="400" width="8" height="10" fill="#00fd02"/>
<rect x="939" y="400" width="8" height="10" fill="#02fd00"/>
<rect x="947" y="400" width="8" height="10" fill="#05fa00"/>
<rect x="955" y="400" width="8" height="10" fill="#0bf400"/>
<rect x="963" y="400" width="8" height="10" fill="#16e900"/>
<rect x="971" y="400" width="8" height="10" fill="#27d800"/>
<rect x="979" y="400" width="9" height="10" fill="#31ce00"/>
<rect x="988" y="400" width="8" height="10" fill="#32cd00"/>
<rect x="996" y="400" width="8" height="10" fill="#2ed100"/>
<rect x="1004" y="400" width="8" height="10" fill="#28d700"/>
<rect x="1012" y="400" width="8" height="10" fill="#23dc00"/>
<rect x="1020" y="400" width="8" height="10" fill="#1ee100"/>
<rect x="1028" y="400" width="8" height="10" fill="#1ae500"/>
<rect x="231" y="410" width="9" height="10" fill="#0056a9"/>
<rect x="240" y="410" width="8" height="10" fill="#0049b6"/>
<rect x="248" y="410" width="8" height="10" fill="#003ec1"/>
<rect x="256" y="410" width="8" height="10" fill="#0056a9"/>
<rect x="264" y="410" width="8" height="10" fill="#00a05f"/>
<rect x="272" y="410" width="8" height="10" fill="#00bd42"/>
<rect x="280" y="410" width="8" height="10" fill="#00d52a"/>
<rect x="288" y="410" width="8" height="10" fill="#00e718"/>
<rect x="296" y="410" width="9" height="10" fill="#00fe01"/>
<rect x="305" y="410" width="8" height="10" fill="#19e600"/>
<rect x="313" y="410" width="8" height="10" fill="#28d700"/>
<rect x="321" y="410" width="8" height="10" fill="#32cd00"/>
<rect x="329" y="410" width="8" height="10" fill="#36c900"/>
<rect x="337" y="410" width="8" height="10" fill="#3cc300"/>
<rect x="345" y="410" width="8" height="10" fill="#42bd00"/>
<rect x="353" y="410" width="8" height="10" fill="#47b800"/>
<rect x="361" y="410" width="9" height="10" fill="#49b600"/>
<rect x="370" y="410" width="8" height="10" fill="#4ab500"/>
<rect x="378" y="410" width="8" height="10" fill="#48b700"/>
<rect x="386" y="410" width="8" height="10" fill="#3dc200"/>
<rect x="394" y="410" width="8" height="10" fill="#25da00"/>
<rect x="402" y="410" width="8" height="10" fill="#13ec00"/>
<rect x="410" y="410" width="8" height="10" fill="#0af500"/>
<rect x="418" y="410" width="9" height="10" fill="#06f900"/>
<rect x="427" y="410" width="8" height="10" fill="#04fb00"/>
<rect x="435" y="410" width="8" height="10" fill="#06f900"/>
<rect x="443" y="410" width="8" height="10" fill="#0bf400"/>
<rect x="451" y="410" width="8" height="10" fill="#1ae500"/>
<rect x="459" y="410" width="8" height="10" fill="#5ba400"/>
<rect x="467" y="410" width="8" height="10" fill="#748b00"/>
<rect x="475" y="410" width="8" height="10" fill="#817e00"/>
<rect x="483" y="410" width="9" height="10" fill="#857a00"/>
<rect x="492" y="410" width="8" height="10" fill="#807f00"/>
<rect x="500" y="410" width="8" height="10" fill="#699600"/>
<rect x="508" y="410" width="8" height="10" fill="#43bc00"/>
<rect x="516" y="410" width="8" height="10" fill="#39c600"/>
<rect x="524" y="410" width="8" height="10" fill="#35ca00"/>
<rect x="532" y="410" width="8" height="10" fill="#32cd00"/>
<rect x="540" y="410" width="9" height="10" fill="#2ed100"/>
<rect x="549" y="410" width="8" height="10" fill="#2ad500"/>
<rect x="557" y="410" width="8" height="10" fill="#24db00"/>
<rect x="565" y="410" width="8" height="10" fill="#1fe000"/>
<rect x="573" y="410" width="8" height="10" fill="#1be400"/>
<rect x="581" y="410" width="16" height="10" fill="#19e600"/>
<rect x="597" y="410" width="8" height="10" fill="#1be400"/>
<rect x="605" y="410" width="9" height="10" fill="#1ce300"/>
<rect x="614" y="410" width="8" height="10" fill="#1be400"/>
<rect x="622" y="410" width="16" height="10" fill="#19e600"/>
<rect x="638" y="410" width="8" height="10" fill="#1ce300"/>
<rect x="646" y="410" width="8" height="10" fill="#20df00"/>
<rect x="654" y="410" width="16" height="10" fill="#21de00"/>
<rect x="670" y="410" width="9" height="10" fill="#1fe000"/>
<rect x="679" y="410" width="8" height="10" fill="#1be400"/>
<rect x="687" y="410" width="8" height="10" fill="#14eb00"/>
<rect x="695" y="410" width="8" height="10" fill="#09f600"/>
<rect x="703" y="410" width="8" height="10" fill="#00fd02"/>
<rect x="711" y="410" width="8" height="10" fill="#00f708"/>
<rect x="719" y="410" width="8" height="10" fill="#00fb04"/>
<rect x="727" y="410" width="9" height="10" fill="#09f600"/>
<rect x="736" y="410" width="8" height="10" fill="#17e800"/>
<rect x="744" y="410" width="8" height="10" fill="#25da00"/>
<rect x="752" y="410" width="8" height="10" fill="#30cf00"/>
<rect x="760" y="410" width="8" height="10" fill="#36c900"/>
<rect x="768" y="410" width="8" height="10" fill="#37c800"/>
<rect x="776" y="410" width="8" height="10" fill="#36c900"/>
<rect x="784" y="410" width="8" height="10" fill="#34cb00"/>
<rect x="792" y="410" width="9" height="10" fill="#32cd00"/>
<rect x="801" y="410" width="8" height="10" fill="#30cf00"/>
<rect x="809" y="410" width="8" height="10" fill="#2ed100"/>
<rect x="817" y="410" width="8" height="10" fill="#2ad500"/>
<rect x="825" y="410" width="8" height="10" fill="#22dd00"/>
<rect x="833" y="410" width="8" height="10" fill="#17e800"/>
<rect x="841" y="410" width="8" height="10" fill="#0df200"/>
<rect x="849" y="410" width="8" height="10" fill="#05fa00"/>
<rect x="857" y="410" width="9" height="10" fill="#00fc03"/>
<rect x="866" y="410" width="8" height="10" fill="#00f30c"/>
<rect x="874" y="410" width="8" height="10" fill="#00eb14"/>
<rect x="882" y="410" width="8" height="10" fill="#00e619"/>
<rect x="890" y="410" width="8" height="10" fill="#00e41b"/>
<rect x="898" y="410" width="8" height="10" fill="#00e31c"/>
<rect x="906" y="410" width="8" height="10" fill="#00e619"/>
<rect x="914" y="410" width="9" height="10" fill="#00ee11"/>
<rect x="923" y="410" width="8" height="10" fill="#00f708"/>
<rect x="931" y="410" width="8" height="10" fill="#00fd02"/>
<rect x="939" y="410" width="8" height="10" fill="#02fd00"/>
<rect x="947" y="410" width="8" height="10" fill="#05fa00"/>
<rect x="955" y="410" width="8" height="10" fill="#0bf400"/>
<rect x="963" y="410" width="8" height="10" fill="#17e800"/>
<rect x="971" y="410" width="8" height="10" fill="#2ad500"/>
<rect x="979" y="410" width="9" height="10" fill="#37c800"/>
<rect x="988" y="410" width="8" height="10" fill="#3bc400"/>
<rect x="996" y="410" width="8" height="10" fill="#37c800"/>
<rect x="1004" y="410" width="8" height="10" fill="#30cf00"/>
<rect x="1012" y="410" width="8" height="10" fill="#28d700"/>
<rect x="1020" y="410" width="8" height="10" fill="#20df00"/>
<rect x="1028" y="410" width="8" height="10" fill="#1ae500"/>
<rect x="231" y="420" width="9" height="10" fill="#00649b"/>
<rect x="240" y="420" width="8" height="10" fill="#005fa0"/>
<rect x="248" y="420" width="8" height="10" fill="#006d92"/>
<rect x="256" y="420" width="8" height="10" fill="#009d62"/>
<rect x="264" y="420" width="8" height="10" fill="#00c43b"/>
<rect x="272" y="420" width="8" height="10" fill="#00d629"/>
<rect x="280" y="420" width="8" height="10" fill="#00e916"/>
<rect x="288" y="420" width="8" height="10" fill="#00ff00"/>
<rect x="296" y="420" width="9" height="10" fill="#2cd300"/>
<rect x="305" y="420" width="8" height="10" fill="#54ab00"/>
<rect x="313" y="420" width="8" height="10" fill="#51ae00"/>
<rect x="321" y="420" width="8" height="10" fill="#47b800"/>
<rect x="329" y="420" width="8" height="10" fill="#48b700"/>
<rect x="337" y="420" width="8" height="10" fill="#4cb300"/>
<rect x="345" y="420" width="8" height="10" fill="#51ae00"/>
<rect x="353" y="420" width="8" height="10" fill="#4fb000"/>
<rect x="361" y="420" width="9" height="10" fill="#4cb300"/>
<rect x="370" y="420" width="8" height="10" fill="#4ab500"/>
<rect x="378" y="420" width="8" height="10" fill="#46b900"/>
<rect x="386" y="420" width="8" height="10" fill="#3bc400"/>
<rect x="394" y="420" width="8" height="10" fill="#23dc00"/>
<rect x="402" y="420" width="8" height="10" fill="#11ee00"/>
<rect x="410" y="420" width="8" height="10" fill="#09f600"/>
<rect x="418" y="420" width="9" height="10" fill="#05fa00"/>
<rect x="427" y="420" width="8" height="10" fill="#04fb00"/>
<rect x="435" y="420" width="8" height="10" fill="#06f900"/>
<rect x="443" y="420" width="8" height="10" fill="#0cf300"/>
<rect x="451" y="420" width="8" height="10" fill="#1be400"/>
<rect x="459" y="420" width="8" height="10" fill="#45ba00"/>
<rect x="467" y="420" width="8" height="10" fill="#5ea100"/>
<rect x="475" y="420" width="8" height="10" fill="#6e9100"/>
<rect x="483" y="420" width="9" height="10" fill="#6f9000"/>
<rect x="492" y="420" width="8" height="10" fill="#5aa500"/>
<rect x="500" y="420" width="8" height="10" fill="#45ba00"/>
<rect x="508" y="420" width="8" height="10" fill="#38c700"/>
<rect x="516" y="420" width="8" height="10" fill="#30cf00"/>
<rect x="524" y="420" width="8" height="10" fill="#2bd400"/>
<rect x="532" y="420" width="8" height="10" fill="#27d800"/>
<rect x="540" y="420" width="9" height="10" fill="#23dc00"/>
<rect x="549" y="420" width="8" height="10" fill="#1ee100"/>
<rect x="557" y="420" width="8" height="10" fill="#19e600"/>
<rect x="565" y="420" width="8" height="10" fill="#14eb00"/>
<rect x="573" y="420" width="16" height="10" fill="#12ed00"/>
<rect x="589" y="420" width="8" height="10" fill="#14eb00"/>
<rect x="597" y="420" width="8" height="10" fill="#17e800"/>
<rect x="605" y="420" width="17" height="10" fill="#1ae500"/>
<rect x="622" y="420" width="8" height="10" fill="#19e600"/>
<rect x="630" y="420" width="8" height="10" fill="#1ae500"/>
<rect x="638" y="420" width="8" height="10" fill="#1de200"/>
<rect x="646" y="420" width="8" height="10" fill="#1fe000"/>
<rect x="654" y="420" width="8" height="10" fill="#20df00"/>
<rect x="662" y="420" width="8" height="10" fill="#1ee100"/>
<rect x="670" y="420" width="9" height="10" fill="#1ce300"/>
<rect x="679" y="420" width="8" height="10" fill="#19e600"/>
<rect x="687" y="420" width="8" height="10" fill="#13ec00"/>
<rect x="695" y="420" width="8" height="10" fill="#09f600"/>
<rect x="703" y="420" width="8" height="10" fill="#00fe01"/>
<rect x="711" y="420" width="8" height="10" fill="#00fa05"/>
<rect x="719" y="420" width="8" height="10" fill="#00ff00"/>
<rect x="727" y="420" width="9" height="10" fill="#10ef00"/>
<rect x="736" y="420" width="8" height="10" fill="#20df00"/>
<rect x="744" y="420" width="8" height="10" fill="#30cf00"/>
<rect x="752" y="420" width="8" height="10" fill="#3cc300"/>
<rect x="760" y="420" width="8" height="10" fill="#40bf00"/>
<rect x="768" y="420" width="8" height="10" fill="#3fc000"/>
<rect x="776" y="420" width="8" height="10" fill="#3bc400"/>
<rect x="784" y="420" width="8" height="10" fill="#37c800"/>
<rect x="792" y="420" width="9" height="10" fill="#34cb00"/>
<rect x="801" y="420" width="8" height="10" fill="#33cc00"/>
<rect x="809" y="420" width="8" height="10" fill="#31ce00"/>
<rect x="817" y="420" width="8" height="10" fill="#2ed100"/>
<rect x="825" y="420" width="8" height="10" fill="#28d700"/>
<rect x="833" y="420" width="8" height="10" fill="#1de200"/>
<rect x="841" y="420" width="8" height="10" fill="#12ed00"/>
<rect x="849" y="420" width="8" height="10" fill="#09f600"/>
<rect x="857" y="420" width="9" height="10" fill="#02fd00"/>
<rect x="866" y="420" width="8" height="10" fill="#00fa05"/>
<rect x="874" y="420" width="8" height="10" fill="#00f50a"/>
<rect x="882" y="420" width="8" height="10" fill="#00f10e"/>
<rect x="890" y="420" width="8" height="10" fill="#00ef10"/>
<rect x="898" y="420" width="8" height="10" fill="#00ee11"/>
<rect x="906" y="420" width="8" height="10" fill="#00ef10"/>
<rect x="914" y="420" width="9" height="10" fill="#00f30c"/>
<rect x="923" y="420" width="8" height="10" fill="#00f906"/>
<rect x="931" y="420" width="8" height="10" fill="#00fe01"/>
<rect x="939" y="420" width="8" height="10" fill="#02fd00"/>
<rect x="947" y="420" width="8" height="10" fill="#04fb00"/>
<rect x="955" y="420" width="8" height="10" fill="#0af500"/>
<rect x="963" y="420" width="8" height="10" fill="#17e800"/>
<rect x="971" y="420" width="8" height="10" fill="#2fd000"/>
<rect x="979" y="420" width="9" height="10" fill="#3fc000"/>
<rect x="988" y="420" width="8" height="10" fill="#47b800"/>
<rect x="996" y="420" width="8" height="10" fill="#48b700"/>
<rect x="1004" y="420" width="8" height="10" fill="#42bd00"/>
<rect x="1012" y="420" width="8" height="10" fill="#34cb00"/>
<rect x="1020" y="420" width="8" height="10" fill="#25da00"/>
<rect x="1028" y="420" width="8" height="10" fill="#1ce300"/>
<rect x="231" y="430" width="9" height="10" fill="#00748b"/>
<rect x="240" y="430" width="8" height="10" fill="#007e81"/>
<rect x="248" y="430" width="8" height="10" fill="#009b64"/>
<rect x="256" y="430" width="8" height="10" fill="#00c33c"/>
<rect x="264" y="430" width="8" height="10" fill="#00e31c"/>
<rect x="272" y="430" width="8" height="10" fill="#00f20d"/>
<rect x="280" y="430" width="8" height="10" fill="#00ff00"/>
<rect x="288" y="430" width="8" height="10" fill="#15ea00"/>
<rect x="296" y="430" width="9" height="10" fill="#41be00"/>
<rect x="305" y="430" width="8" height="10" fill="#5fa000"/>
<rect x="313" y="430" width="8" height="10" fill="#619e00"/>
<rect x="321" y="430" width="8" height="10" fill="#59a600"/>
<rect x="329" y="430" width="8" height="10" fill="#5aa500"/>
<rect x="337" y="430" width="8" height="10" fill="#5fa000"/>
<rect x="345" y="430" width="8" height="10" fill="#609f00"/>
<rect x="353" y="430" width="8" height="10" fill="#59a600"/>
<rect x="361" y="430" width="9" height="10" fill="#51ae00"/>
<rect x="370" y="430" width="8" height="10" fill="#4bb400"/>
<rect x="378" y="430" width="8" height="10" fill="#46b900"/>
<rect x="386" y="430" width="8" height="10" fill="#3ac500"/>
<rect x="394" y="430" width="8" height="10" fill="#23dc00"/>
<rect x="402" y="430" width="8" height="10" fill="#12ed00"/>
<rect x="410" y="430" width="8" height="10" fill="#09f600"/>
<rect x="418" y="430" width="9" height="10" fill="#06f900"/>
<rect x="427" y="430" width="8" height="10" fill="#05fa00"/>
<rect x="435" y="430" width="8" height="10" fill="#06f900"/>
<rect x="443" y="430" width="8" height="10" fill="#0cf300"/>
<rect x="451" y="430" width="8" height="10" fill="#1be400"/>
<rect x="459" y="430" width="8" height="10" fill="#3bc400"/>
<rect x="467" y="430" width="8" height="10" fill="#4db200"/>
<rect x="475" y="430" width="8" height="10" fill="#55aa00"/>
<rect x="483" y="430" width="9" height="10" fill="#52ad00"/>
<rect x="492" y="430" width="8" height="10" fill="#46b900"/>
<rect x="500" y="430" width="8" height="10" fill="#3ac500"/>
<rect x="508" y="430" width="8" height="10" fill="#30cf00"/>
<rect x="516" y="430" width="8" height="10" fill="#29d600"/>
<rect x="524" y="430" width="8" height="10" fill="#24db00"/>
<rect x="532" y="430" width="8" height="10" fill="#20df00"/>
<rect x="540" y="430" width="9" height="10" fill="#1ce300"/>
<rect x="549" y="430" width="8" height="10" fill="#18e700"/>
<rect x="557" y="430" width="8" height="10" fill="#13ec00"/>
<rect x="565" y="430" width="8" height="10" fill="#0ff000"/>
<rect x="573" y="430" width="8" height="10" fill="#0df200"/>
<rect x="581" y="430" width="8" height="10" fill="#0ef100"/>
<rect x="589" y="430" width="8" height="10" fill="#11ee00"/>
<rect x="597" y="430" width="8" height="10" fill="#15ea00"/>
<rect x="605" y="430" width="9" height="10" fill="#18e700"/>
<rect x="614" y="430" width="8" height="10" fill="#19e600"/>
<rect x="622" y="430" width="8" height="10" fill="#18e700"/>
<rect x="630" y="430" width="8" height="10" fill="#19e600"/>
<rect x="638" y="430" width="8" height="10" fill="#1be400"/>
<rect x="646" y="430" width="16" height="10" fill="#1ee100"/>
<rect x="662" y="430" width="8" height="10" fill="#1ce300"/>
<rect x="670" y="430" width="9" height="10" fill="#19e600"/>
<rect x="679" y="430" width="8" height="10" fill="#16e900"/>
<rect x="687" y="430" width="8" height="10" fill="#11ee00"/>
<rect x="695" y="430" width="8" height="10" fill="#09f600"/>
<rect x="703" y="430" width="8" height="10" fill="#02fd00"/>
<rect x="711" y="430" width="8" height="10" fill="#01fe00"/>
<rect x="719" y="430" width="8" height="10" fill="#09f600"/>
<rect x="727" y="430" width="9" height="10" fill="#1de200"/>
<rect x="736" y="430" width="8" height="10" fill="#34cb00"/>
<rect x="744" y="430" width="8" height="10" fill="#49b600"/>
<rect x="752" y="430" width="8" height="10" fill="#52ad00"/>
<rect x="760" y="430" width="8" height="10" fill="#51ae00"/>
<rect x="768" y="430" width="8" height="10" fill="#4bb400"/>
<rect x="776" y="430" width="8" height="10" fill="#42bd00"/>
<rect x="784" y="430" width="8" height="10" fill="#3ac500"/>
<rect x="792" y="430" width="9" height="10" fill="#36c900"/>
<rect x="801" y="430" width="16" height="10" fill="#33cc00"/>
<rect x="817" y="430" width="8" height="10" fill="#32cd00"/>
<rect x="825" y="430" width="8" height="10" fill="#2dd200"/>
<rect x="833" y="430" width="8" height="10" fill="#25da00"/>
<rect x="841" y="430" width="8" height="10" fill="#19e600"/>
<rect x="849" y="430" width="8" height="10" fill="#0ff000"/>
<rect x="857" y="430" width="9" height="10" fill="#07f800"/>
<rect x="866" y="430" width="8" height="10" fill="#01fe00"/>
<rect x="874" y="430" width="8" height="10" fill="#00fc03"/>
<rect x="882" y="430" width="8" height="10" fill="#00f906"/>
<rect x="890" y="430" width="8" height="10" fill="#00f50a"/>
<rect x="898" y="430" width="16" height="10" fill="#00f20d"/>
<rect x="914" y="430" width="9" height="10" fill="#00f40b"/>
<rect x="923" y="430" width="8" height="10" fill="#00fa05"/>
<rect x="931" y="430" width="8" height="10" fill="#00fe01"/>
<rect x="939" y="430" width="8" height="10" fill="#02fd00"/>
<rect x="947" y="430" width="8" height="10" fill="#04fb00"/>
<rect x="955" y="430" width="8" height="10" fill="#09f600"/>
<rect x="963" y="430" width="8" height="10" fill="#14eb00"/>
<rect x="971" y="430" width="8" height="10" fill="#2dd200"/>
<rect x="979" y="430" width="9" height="10" fill="#41be00"/>
<rect x="988" y="430" width="8" height="10" fill="#4eb100"/>
<rect x="996" y="430" width="8" height="10" fill="#54ab00"/>
<rect x="1004" y="430" width="8" height="10" fill="#53ac00"/>
<rect x="1012" y="430" width="8" height="10" fill="#47b800"/>
<rect x="1020" y="430" width="8" height="10" fill="#2ed100"/>
<rect x="1028" y="430" width="8" height="10" fill="#20df00"/>
<rect x="231" y="440" width="9" height="10" fill="#00837c"/>
<rect x="240" y="440" width="8" height="10" fill="#009768"/>
<rect x="248" y="440" width="8" height="10" fill="#00c33c"/>
<rect x="256" y="440" width="8" height="10" fill="#00e718"/>
<rect x="264" y="440" width="8" height="10" fill="#04fb00"/>
<rect x="272" y="440" width="8" height="10" fill="#0ef100"/>
<rect x="280" y="440" width="8" height="10" fill="#18e700"/>
<rect x="288" y="440" width="8" height="10" fill="#29d600"/>
<rect x="296" y="440" width="9" height="10" fill="#44bb00"/>
<rect x="305" y="440" width="8" height="10" fill="#5ea100"/>
<rect x="313" y="440" width="8" height="10" fill="#639c00"/>
<rect x="321" y="440" width="8" height="10" fill="#619e00"/>
<rect x="329" y="440" width="8" height="10" fill="#679800"/>
<rect x="337" y="440" width="8" height="10" fill="#6e9100"/>
<rect x="345" y="440" width="8" height="10" fill="#6d9200"/>
<rect x="353" y="440" width="8" height="10" fill="#639c00"/>
<rect x="361" y="440" width="9" height="10" fill="#56a900"/>
<rect x="370" y="440" width="8" height="10" fill="#4db200"/>
<rect x="378" y="440" width="8" height="10" fill="#45ba00"/>
<rect x="386" y="440" width="8" height="10" fill="#3ac500"/>
<rect x="394" y="440" width="8" height="10" fill="#25da00"/>
<rect x="402" y="440" width="8" height="10" fill="#15ea00"/>
<rect x="410" y="440" width="8" height="10" fill="#0df200"/>
<rect x="418" y="440" width="9" height="10" fill="#09f600"/>
<rect x="427" y="440" width="16" height="10" fill="#07f800"/>
<rect x="443" y="440" width="8" height="10" fill="#0cf300"/>
<rect x="451" y="440" width="8" height="10" fill="#1ae500"/>
<rect x="459" y="440" width="8" height="10" fill="#33cc00"/>
<rect x="467" y="440" width="8" height="10" fill="#41be00"/>
<rect x="475" y="440" width="8" height="10" fill="#46b900"/>
<rect x="483" y="440" width="9" height="10" fill="#42bd00"/>
<rect x="492" y="440" width="8" height="10" fill="#3ac500"/>
<rect x="500" y="440" width="8" height="10" fill="#31ce00"/>
<rect x="508" y="440" width="8" height="10" fill="#29d600"/>
<rect x="516" y="440" width="8" height="10" fill="#21de00"/>
<rect x="524" y="440" width="8" height="10" fill="#1be400"/>
<rect x="532" y="440" width="8" height="10" fill="#17e800"/>
<rect x="540" y="440" width="9" height="10" fill="#15ea00"/>
<rect x="549" y="440" width="8" height="10" fill="#12ed00"/>
<rect x="557" y="440" width="8" height="10" fill="#0ff000"/>
<rect x="565" y="440" width="8" height="10" fill="#0cf300"/>
<rect x="573" y="440" width="16" height="10" fill="#0bf400"/>
<rect x="589" y="440" width="8" height="10" fill="#0ef100"/>
<rect x="597" y="440" width="8" height="10" fill="#11ee00"/>
<rect x="605" y="440" width="17" height="10" fill="#14eb00"/>
<rect x="622" y="440" width="8" height="10" fill="#13ec00"/>
<rect x="630" y="440" width="8" height="10" fill="#14eb00"/>
<rect x="638" y="440" width="8" height="10" fill="#16e900"/>
<rect x="646" y="440" width="16" height="10" fill="#19e600"/>
<rect x="662" y="440" width="8" height="10" fill="#17e800"/>
<rect x="670" y="440" width="9" height="10" fill="#14eb00"/>
<rect x="679" y="440" width="8" height="10" fill="#12ed00"/>
<rect x="687" y="440" width="8" height="10" fill="#0ef100"/>
<rect x="695" y="440" width="8" height="10" fill="#08f700"/>
<rect x="703" y="440" width="8" height="10" fill="#04fb00"/>
<rect x="711" y="440" width="8" height="10" fill="#08f700"/>
<rect x="719" y="440" width="8" height="10" fill="#16e900"/>
<rect x="727" y="440" width="9" height="10" fill="#2ed100"/>
<rect x="736" y="440" width="8" height="10" fill="#4ab500"/>
<rect x="744" y="440" width="8" height="10" fill="#5ca300"/>
<rect x="752" y="440" width="8" height="10" fill="#639c00"/>
<rect x="760" y="440" width="8" height="10" fill="#5fa000"/>
<rect x="768" y="440" width="8" height="10" fill="#55aa00"/>
<rect x="776" y="440" width="8" height="10" fill="#47b800"/>
<rect x="784" y="440" width="8" height="10" fill="#3dc200"/>
<rect x="792" y="440" width="9" height="10" fill="#36c900"/>
<rect x="801" y="440" width="8" height="10" fill="#33cc00"/>
<rect x="809" y="440" width="8" height="10" fill="#32cd00"/>
<rect x="817" y="440" width="8" height="10" fill="#33cc00"/>
<rect x="825" y="440" width="8" height="10" fill="#31ce00"/>
<rect x="833" y="440" width="8" height="10" fill="#2bd400"/>
<rect x="841" y="440" width="8" height="10" fill="#21de00"/>
<rect x="849" y="440" width="8" height="10" fill="#15ea00"/>
<rect x="857" y="440" width="9" height="10" fill="#0bf400"/>
<rect x="866" y="440" width="8" height="10" fill="#05fa00"/>
<rect x="874" y="440" width="8" height="10" fill="#01fe00"/>
<rect x="882" y="440" width="8" height="10" fill="#00fc03"/>
<rect x="890" y="440" width="8" height="10" fill="#00f807"/>
<rect x="898" y="440" width="8" height="10" fill="#00f30c"/>
<rect x="906" y="440" width="8" height="10" fill="#00f10e"/>
<rect x="914" y="440" width="9" height="10" fill="#00f30c"/>
<rect x="923" y="440" width="8" height="10" fill="#00f906"/>
<rect x="931" y="440" width="8" height="10" fill="#00fe01"/>
<rect x="939" y="440" width="8" height="10" fill="#01fe00"/>
<rect x="947" y="440" width="8" height="10" fill="#03fc00"/>
<rect x="955" y="440" width="8" height="10" fill="#07f800"/>
<rect x="963" y="440" width="8" height="10" fill="#0ff000"/>
<rect x="971" y="440" width="8" height="10" fill="#20df00"/>
<rect x="979" y="440" width="9" height="10" fill="#39c600"/>
<rect x="988" y="440" width="8" height="10" fill="#4db200"/>
<rect x="996" y="440" width="8" height="10" fill="#59a600"/>
<rect x="1004" y="440" width="8" height="10" fill="#5ca300"/>
<rect x="1012" y="440" width="8" height="10" fill="#55aa00"/>
<rect x="1020" y="440" width="8" height="10" fill="#3ac500"/>
<rect x="240" y="450" width="8" height="10" fill="#00d52a"/>
<rect x="248" y="450" width="8" height="10" fill="#00e916"/>
<rect x="256" y="450" width="8" height="10" fill="#02fd00"/>
<rect x="264" y="450" width="8" height="10" fill="#1fe000"/>
<rect x="272" y="450" width="8" height="10" fill="#25da00"/>
<rect x="280" y="450" width="8" height="10" fill="#26d900"/>
<rect x="288" y="450" width="8" height="10" fill="#2dd200"/>
<rect x="296" y="450" width="9" height="10" fill="#3dc200"/>
<rect x="305" y="450" width="8" height="10" fill="#50af00"/>
<rect x="313" y="450" width="8" height="10" fill="#5aa500"/>
<rect x="321" y="450" width="8" height="10" fill="#619e00"/>
<rect x="329" y="450" width="8" height="10" fill="#718e00"/>
<rect x="337" y="450" width="8" height="10" fill="#7b8400"/>
<rect x="345" y="450" width="8" height="10" fill="#798600"/>
<rect x="353" y="450" width="8" height="10" fill="#6c9300"/>
<rect x="361" y="450" width="9" height="10" fill="#5aa500"/>
<rect x="370" y="450" width="8" height="10" fill="#4db200"/>
<rect x="378" y="450" width="8" height="10" fill="#44bb00"/>
<rect x="386" y="450" width="8" height="10" fill="#3ac500"/>
<rect x="394" y="450" width="8" height="10" fill="#2ad500"/>
<rect x="402" y="450" width="8" height="10" fill="#1de200"/>
<rect x="410" y="450" width="8" height="10" fill="#15ea00"/>
<rect x="418" y="450" width="9" height="10" fill="#0ff000"/>
<rect x="427" y="450" width="8" height="10" fill="#0af500"/>
<rect x="435" y="450" width="8" height="10" fill="#08f700"/>
<rect x="443" y="450" width="8" height="10" fill="#0cf300"/>
<rect x="451" y="450" width="8" height="10" fill="#16e900"/>
<rect x="459" y="450" width="8" height="10" fill="#29d600"/>
<rect x="467" y="450" width="8" height="10" fill="#34cb00"/>
<rect x="475" y="450" width="8" height="10" fill="#37c800"/>
<rect x="483" y="450" width="9" height="10" fill="#34cb00"/>
<rect x="492" y="450" width="8" height="10" fill="#2dd200"/>
<rect x="500" y="450" width="8" height="10" fill="#25da00"/>
<rect x="508" y="450" width="8" height="10" fill="#1de200"/>
<rect x="516" y="450" width="8" height="10" fill="#14eb00"/>
<rect x="524" y="450" width="8" height="10" fill="#0cf300"/>
<rect x="532" y="450" width="17" height="10" fill="#09f600"/>
<rect x="549" y="450" width="24" height="10" fill="#0af500"/>
<rect x="573" y="450" width="24" height="10" fill="#08f700"/>
<rect x="597" y="450" width="8" height="10" fill="#09f600"/>
<rect x="605" y="450" width="33" height="10" fill="#0af500"/>
<rect x="638" y="450" width="8" height="10" fill="#0cf300"/>
<rect x="646" y="450" width="8" height="10" fill="#0ef100"/>
<rect x="654" y="450" width="16" height="10" fill="#0ff000"/>
<rect x="670" y="450" width="9" height="10" fill="#0df200"/>
<rect x="679" y="450" width="8" height="10" fill="#0cf300"/>
<rect x="687" y="450" width="8" height="10" fill="#09f600"/>
<rect x="695" y="450" width="8" height="10" fill="#06f900"/>
<rect x="703" y="450" width="8" height="10" fill="#05fa00"/>
<rect x="711" y="450" width="8" height="10" fill="#0df200"/>
<rect x="719" y="450" width="8" height="10" fill="#1fe000"/>
<rect x="727" y="450" width="9" height="10" fill="#3bc400"/>
<rect x="736" y="450" width="8" height="10" fill="#59a600"/>
<rect x="744" y="450" width="8" height="10" fill="#6c9300"/>
<rect x="752" y="450" width="8" height="10" fill="#718e00"/>
<rect x="760" y="450" width="8" height="10" fill="#6b9400"/>
<rect x="768" y="450" width="8" height="10" fill="#5ca300"/>
<rect x="776" y="450" width="8" height="10" fill="#4bb400"/>
<rect x="784" y="450" width="8" height="10" fill="#3ec100"/>
<rect x="792" y="450" width="9" height="10" fill="#35ca00"/>
<rect x="801" y="450" width="16" height="10" fill="#31ce00"/>
<rect x="817" y="450" width="8" height="10" fill="#33cc00"/>
<rect x="825" y="450" width="8" height="10" fill="#34cb00"/>
<rect x="833" y="450" width="8" height="10" fill="#30cf00"/>
<rect x="841" y="450" width="8" height="10" fill="#27d800"/>
<rect x="849" y="450" width="8" height="10" fill="#1ae500"/>
<rect x="857" y="450" width="9" height="10" fill="#0ff000"/>
<rect x="866" y="450" width="8" height="10" fill="#08f700"/>
<rect x="874" y="450" width="8" height="10" fill="#03fc00"/>
<rect x="882" y="450" width="8" height="10" fill="#00fe01"/>
<rect x="890" y="450" width="8" height="10" fill="#00f906"/>
<rect x="898" y="450" width="8" height="10" fill="#00f40b"/>
<rect x="906" y="450" width="8" height="10" fill="#00f20d"/>
<rect x="914" y="450" width="9" height="10" fill="#00f50a"/>
<rect x="923" y="450" width="8" height="10" fill="#00fa05"/>
<rect x="931" y="450" width="8" height="10" fill="#00fe01"/>
<rect x="939" y="450" width="8" height="10" fill="#02fd00"/>
<rect x="947" y="450" width="8" height="10" fill="#03fc00"/>
<rect x="955" y="450" width="8" height="10" fill="#05fa00"/>
<rect x="963" y="450" width="8" height="10" fill="#0bf400"/>
<rect x="971" y="450" width="8" height="10" fill="#18e700"/>
<rect x="979" y="450" width="9" height="10" fill="#2ed100"/>
<rect x="988" y="450" width="8" height="10" fill="#47b800"/>
<rect x="996" y="450" width="8" height="10" fill="#58a700"/>
<rect x="1004" y="450" width="8" height="10" fill="#5fa000"/>
<rect x="1012" y="450" width="8" height="10" fill="#5ea100"/>
<rect x="240" y="460" width="8" height="10" fill="#00f40b"/>
<rect x="248" y="460" width="8" height="10" fill="#00fe01"/>
<rect x="256" y="460" width="8" height="10" fill="#12ed00"/>
<rect x="264" y="460" width="8" height="10" fill="#2bd400"/>
<rect x="272" y="460" width="8" height="10" fill="#30cf00"/>
<rect x="280" y="460" width="8" height="10" fill="#2bd400"/>
<rect x="288" y="460" width="8" height="10" fill="#2ad500"/>
<rect x="296" y="460" width="9" height="10" fill="#31ce00"/>
<rect x="305" y="460" width="8" height="10" fill="#3dc200"/>
<rect x="313" y="460" width="8" height="10" fill="#4bb400"/>
<rect x="321" y="460" width="8" height="10" fill="#5da200"/>
<rect x="329" y="460" width="8" height="10" fill="#7c8300"/>
<rect x="337" y="460" width="8" height="10" fill="#867900"/>
<rect x="345" y="460" width="8" height="10" fill="#827d00"/>
<rect x="353" y="460" width="8" height="10" fill="#718e00"/>
<rect x="361" y="460" width="9" height="10" fill="#5ba400"/>
<rect x="370" y="460" width="8" height="10" fill="#4db200"/>
<rect x="378" y="460" width="8" height="10" fill="#43bc00"/>
<rect x="386" y="460" width="8" height="10" fill="#39c600"/>
<rect x="394" y="460" width="8" height="10" fill="#2fd000"/>
<rect x="402" y="460" width="8" height="10" fill="#27d800"/>
<rect x="410" y="460" width="8" height="10" fill="#20df00"/>
<rect x="418" y="460" width="9" height="10" fill="#18e700"/>
<rect x="427" y="460" width="8" height="10" fill="#0ff000"/>
<rect x="435" y="460" width="8" height="10" fill="#0af500"/>
<rect x="443" y="460" width="8" height="10" fill="#0bf400"/>
<rect x="451" y="460" width="8" height="10" fill="#12ed00"/>
<rect x="459" y="460" width="8" height="10" fill="#1ce300"/>
<rect x="467" y="460" width="8" height="10" fill="#24db00"/>
<rect x="475" y="460" width="8" height="10" fill="#25da00"/>
<rect x="483" y="460" width="9" height="10" fill="#22dd00"/>
<rect x="492" y="460" width="8" height="10" fill="#1ce300"/>
<rect x="500" y="460" width="8" height="10" fill="#15ea00"/>
<rect x="508" y="460" width="8" height="10" fill="#0cf300"/>
<rect x="516" y="460" width="8" height="10" fill="#02fd00"/>
<rect x="524" y="460" width="8" height="10" fill="#00f807"/>
<rect x="532" y="460" width="8" height="10" fill="#00f50a"/>
<rect x="540" y="460" width="9" height="10" fill="#00f906"/>
<rect x="549" y="460" width="8" height="10" fill="#01fe00"/>
<rect x="557" y="460" width="8" height="10" fill="#05fa00"/>
<rect x="565" y="460" width="16" height="10" fill="#06f900"/>
<rect x="581" y="460" width="8" height="10" fill="#03fc00"/>
<rect x="589" y="460" width="8" height="10" fill="#00ff00"/>
<rect x="597" y="460" width="8" height="10" fill="#00fd02"/>
<rect x="605" y="460" width="9" height="10" fill="#00fc03"/>
<rect x="614" y="460" width="24" height="10" fill="#00fb04"/>
<rect x="638" y="460" width="8" height="10" fill="#00fc03"/>
<rect x="646" y="460" width="8" height="10" fill="#00fe01"/>
<rect x="654" y="460" width="8" height="10" fill="#02fd00"/>
<rect x="662" y="460" width="8" height="10" fill="#04fb00"/>
<rect x="670" y="460" width="17" height="10" fill="#05fa00"/>
<rect x="687" y="460" width="8" height="10" fill="#04fb00"/>
<rect x="695" y="460" width="8" height="10" fill="#03fc00"/>
<rect x="703" y="460" width="8" height="10" fill="#05fa00"/>
<rect x="711" y="460" width="8" height="10" fill="#0ff000"/>
<rect x="719" y="460" width="8" height="10" fill="#25da00"/>
<rect x="727" y="460" width="9" height="10" fill="#47b800"/>
<rect x="736" y="460" width="8" height="10" fill="#6b9400"/>
<rect x="744" y="460" width="8" height="10" fill="#7d8200"/>
<rect x="752" y="460" width="8" height="10" fill="#817e00"/>
<rect x="760" y="460" width="8" height="10" fill="#798600"/>
<rect x="768" y="460" width="8" height="10" fill="#649b00"/>
<rect x="776" y="460" width="8" height="10" fill="#4eb100"/>
<rect x="784" y="460" width="8" height="10" fill="#3fc000"/>
<rect x="792" y="460" width="9" height="10" fill="#35ca00"/>
<rect x="801" y="460" width="8" height="10" fill="#31ce00"/>
<rect x="809" y="460" width="8" height="10" fill="#32cd00"/>
<rect x="817" y="460" width="8" height="10" fill="#35ca00"/>
<rect x="825" y="460" width="8" height="10" fill="#38c700"/>
<rect x="833" y="460" width="8" height="10" fill="#36c900"/>
<rect x="841" y="460" width="8" height="10" fill="#2ed100"/>
<rect x="849" y="460" width="8" height="10" fill="#20df00"/>
<rect x="857" y="460" width="9" height="10" fill="#13ec00"/>
<rect x="866" y="460" width="8" height="10" fill="#0af500"/>
<rect x="874" y="460" width="8" height="10" fill="#05fa00"/>
<rect x="882" y="460" width="8" height="10" fill="#01fe00"/>
<rect x="890" y="460" width="8" height="10" fill="#00fd02"/>
<rect x="898" y="460" width="16" height="10" fill="#00fa05"/>
<rect x="914" y="460" width="9" height="10" fill="#00fc03"/>
<rect x="923" y="460" width="8" height="10" fill="#02fd00"/>
<rect x="931" y="460" width="32" height="10" fill="#05fa00"/>
<rect x="963" y="460" width="8" height="10" fill="#09f600"/>
<rect x="971" y="460" width="8" height="10" fill="#12ed00"/>
<rect x="979" y="460" width="9" height="10" fill="#24db00"/>
<rect x="988" y="460" width="8" height="10" fill="#3ec100"/>
<rect x="996" y="460" width="8" height="10" fill="#53ac00"/>
<rect x="1004" y="460" width="8" height="10" fill="#5da200"/>
<rect x="1012" y="460" width="8" height="10" fill="#619e00"/>
<rect x="240" y="470" width="8" height="10" fill="#03fc00"/>
<rect x="248" y="470" width="8" height="10" fill="#0af500"/>
<rect x="256" y="470" width="8" height="10" fill="#1ae500"/>
<rect x="264" y="470" width="8" height="10" fill="#30cf00"/>
<rect x="272" y="470" width="8" height="10" fill="#33cc00"/>
<rect x="280" y="470" width="8" height="10" fill="#29d600"/>
<rect x="288" y="470" width="8" height="10" fill="#22dd00"/>
<rect x="296" y="470" width="9" height="10" fill="#24db00"/>
<rect x="305" y="470" width="8" height="10" fill="#2fd000"/>
<rect x="313" y="470" width="8" height="10" fill="#3ec100"/>
<rect x="321" y="470" width="8" height="10" fill="#57a800"/>
<rect x="329" y="470" width="8" height="10" fill="#847b00"/>
<rect x="337" y="470" width="8" height="10" fill="#8e7100"/>
<rect x="345" y="470" width="8" height="10" fill="#887700"/>
<rect x="353" y="470" width="8" height="10" fill="#758a00"/>
<rect x="361" y="470" width="9" height="10" fill="#5ca300"/>
<rect x="370" y="470" width="8" height="10" fill="#4cb300"/>
<rect x="378" y="470" width="8" height="10" fill="#42bd00"/>
<rect x="386" y="470" width="8" height="10" fill="#39c600"/>
<rect x="394" y="470" width="8" height="10" fill="#33cc00"/>
<rect x="402" y="470" width="8" height="10" fill="#2ed100"/>
<rect x="410" y="470" width="8" height="10" fill="#28d700"/>
<rect x="418" y="470" width="9" height="10" fill="#1fe000"/>
<rect x="427" y="470" width="8" height="10" fill="#13ec00"/>
<rect x="435" y="470" width="8" height="10" fill="#0bf400"/>
<rect x="443" y="470" width="8" height="10" fill="#0af500"/>
<rect x="451" y="470" width="8" height="10" fill="#0ef100"/>
<rect x="459" y="470" width="8" height="10" fill="#14eb00"/>
<rect x="467" y="470" width="16" height="10" fill="#19e600"/>
<rect x="483" y="470" width="9" height="10" fill="#16e900"/>
<rect x="492" y="470" width="8" height="10" fill="#11ee00"/>
<rect x="500" y="470" width="8" height="10" fill="#0af500"/>
<rect x="508" y="470" width="8" height="10" fill="#01fe00"/>
<rect x="516" y="470" width="8" height="10" fill="#00f50a"/>
<rect x="524" y="470" width="8" height="10" fill="#00ec13"/>
<rect x="532" y="470" width="8" height="10" fill="#00e916"/>
<rect x="540" y="470" width="9" height="10" fill="#00ef10"/>
<rect x="549" y="470" width="8" height="10" fill="#00f807"/>
<rect x="557" y="470" width="8" height="10" fill="#01fe00"/>
<rect x="565" y="470" width="8" height="10" fill="#04fb00"/>
<rect x="573" y="470" width="8" height="10" fill="#03fc00"/>
<rect x="581" y="470" width="8" height="10" fill="#00fe01"/>
<rect x="589" y="470" width="8" height="10" fill="#00f906"/>
<rect x="597" y="470" width="8" height="10" fill="#00f40b"/>
<rect x="605" y="470" width="9" height="10" fill="#00f20d"/>
<rect x="614" y="470" width="8" height="10" fill="#00f10e"/>
<rect x="622" y="470" width="16" height="10" fill="#00f00f"/>
<rect x="638" y="470" width="8" height="10" fill="#00f10e"/>
<rect x="646" y="470" width="8" height="10" fill="#00f30c"/>
<rect x="654" y="470" width="8" height="10" fill="#00f708"/>
<rect x="662" y="470" width="8" height="10" fill="#00fb04"/>
<rect x="670" y="470" width="9" height="10" fill="#00fe01"/>
<rect x="679" y="470" width="16" height="10" fill="#00ff00"/>
<rect x="695" y="470" width="8" height="10" fill="#01fe00"/>
<rect x="703" y="470" width="8" height="10" fill="#06f900"/>
<rect x="711" y="470" width="8" height="10" fill="#12ed00"/>
<rect x="719" y="470" width="8" height="10" fill="#2ed100"/>
<rect x="727" y="470" width="9" height="10" fill="#5da200"/>
<rect x="736" y="470" width="8" height="10" fill="#798600"/>
<rect x="744" y="470" width="8" height="10" fill="#8c7300"/>
<rect x="752" y="470" width="8" height="10" fill="#906f00"/>
<rect x="760" y="470" width="8" height="10" fill="#867900"/>
<rect x="768" y="470" width="8" height="10" fill="#6b9400"/>
<rect x="776" y="470" width="8" height="10" fill="#51ae00"/>
<rect x="784" y="470" width="8" height="10" fill="#41be00"/>
<rect x="792" y="470" width="9" height="10" fill="#37c800"/>
<rect x="801" y="470" width="8" height="10" fill="#33cc00"/>
<rect x="809" y="470" width="8" height="10" fill="#35ca00"/>
<rect x="817" y="470" width="8" height="10" fill="#39c600"/>
<rect x="825" y="470" width="8" height="10" fill="#3fc000"/>
<rect x="833" y="470" width="8" height="10" fill="#41be00"/>
<rect x="841" y="470" width="8" height="10" fill="#3bc400"/>
<rect x="849" y="470" width="8" height="10" fill="#2bd400"/>
<rect x="857" y="470" width="9" height="10" fill="#1ae500"/>
<rect x="866" y="470" width="8" height="10" fill="#0ef100"/>
<rect x="874" y="470" width="8" height="10" fill="#08f700"/>
<rect x="882" y="470" width="8" height="10" fill="#05fa00"/>
<rect x="890" y="470" width="16" height="10" fill="#04fb00"/>
<rect x="906" y="470" width="8" height="10" fill="#07f800"/>
<rect x="914" y="470" width="9" height="10" fill="#0cf300"/>
<rect x="923" y="470" width="8" height="10" fill="#10ef00"/>
<rect x="931" y="470" width="8" height="10" fill="#11ee00"/>
<rect x="939" y="470" width="8" height="10" fill="#0ff000"/>
<rect x="947" y="470" width="8" height="10" fill="#0cf300"/>
<rect x="955" y="470" width="16" height="10" fill="#09f600"/>
<rect x="971" y="470" width="8" height="10" fill="#0df200"/>
<rect x="979" y="470" width="9" height="10" fill="#18e700"/>
<rect x="988" y="470" width="8" height="10" fill="#31ce00"/>
<rect x="996" y="470" width="8" height="10" fill="#47b800"/>
<rect x="1004" y="470" width="8" height="10" fill="#54ab00"/>
<rect x="1012" y="470" width="8" height="10" fill="#5ca300"/>
<rect x="240" y="480" width="8" height="10" fill="#08f700"/>
<rect x="248" y="480" width="8" height="10" fill="#0ef100"/>
<rect x="256" y="480" width="8" height="10" fill="#1ce300"/>
<rect x="264" y="480" width="8" height="10" fill="#2fd000"/>
<rect x="272" y="480" width="8" height="10" fill="#31ce00"/>
<rect x="280" y="480" width="8" height="10" fill="#25da00"/>
<rect x="288" y="480" width="8" height="10" fill="#1be400"/>
<rect x="296" y="480" width="9" height="10" fill="#19e600"/>
<rect x="305" y="480" width="8" height="10" fill="#25da00"/>
<rect x="313" y="480" width="8" height="10" fill="#36c900"/>
<rect x="321" y="480" width="8" height="10" fill="#53ac00"/>
<rect x="329" y="480" width="8" height="10" fill="#887700"/>
<rect x="337" y="480" width="8" height="10" fill="#916e00"/>
<rect x="345" y="480" width="8" height="10" fill="#8a7500"/>
<rect x="353" y="480" width="8" height="10" fill="#768900"/>
<rect x="361" y="480" width="9" height="10" fill="#5ca300"/>
<rect x="370" y="480" width="8" height="10" fill="#4cb300"/>
<rect x="378" y="480" width="8" height="10" fill="#41be00"/>
<rect x="386" y="480" width="8" height="10" fill="#39c600"/>
<rect x="394" y="480" width="8" height="10" fill="#34cb00"/>
<rect x="402" y="480" width="8" height="10" fill="#31ce00"/>
<rect x="410" y="480" width="8" height="10" fill="#2cd300"/>
<rect x="418" y="480" width="9" height="10" fill="#22dd00"/>
<rect x="427" y="480" width="8" height="10" fill="#15ea00"/>
<rect x="435" y="480" width="8" height="10" fill="#0cf300"/>
<rect x="443" y="480" width="8" height="10" fill="#09f600"/>
<rect x="451" y="480" width="8" height="10" fill="#0cf300"/>
<rect x="459" y="480" width="8" height="10" fill="#10ef00"/>
<rect x="467" y="480" width="16" height="10" fill="#13ec00"/>
<rect x="483" y="480" width="9" height="10" fill="#10ef00"/>
<rect x="492" y="480" width="8" height="10" fill="#0bf400"/>
<rect x="500" y="480" width="8" height="10" fill="#04fb00"/>
<rect x="508" y="480" width="8" height="10" fill="#00fa05"/>
<rect x="516" y="480" width="8" height="10" fill="#00ef10"/>
<rect x="524" y="480" width="8" height="10" fill="#00e619"/>
<rect x="532" y="480" width="8" height="10" fill="#00e41b"/>
<rect x="540" y="480" width="9" height="10" fill="#00ea15"/>
<rect x="549" y="480" width="8" height="10" fill="#00f50a"/>
<rect x="557" y="480" width="8" height="10" fill="#00fd02"/>
<rect x="565" y="480" width="16" height="10" fill="#02fd00"/>
<rect x="581" y="480" width="8" height="10" fill="#00fc03"/>
<rect x="589" y="480" width="8" height="10" fill="#00f609"/>
<rect x="597" y="480" width="8" height="10" fill="#00f00f"/>
<rect x="605" y="480" width="9" height="10" fill="#00ed12"/>
<rect x="614" y="480" width="8" height="10" fill="#00ea15"/>
<rect x="622" y="480" width="8" height="10" fill="#00e916"/>
<rect x="630" y="480" width="8" height="10" fill="#00ea15"/>
<rect x="638" y="480" width="8" height="10" fill="#00eb14"/>
<rect x="646" y="480" width="8" height="10" fill="#00ee11"/>
<rect x="654" y="480" width="8" height="10" fill="#00f20d"/>
<rect x="662" y="480" width="8" height="10" fill="#00f708"/>
<rect x="670" y="480" width="9" height="10" fill="#00fb04"/>
<rect x="679" y="480" width="16" height="10" fill="#00fd02"/>
<rect x="695" y="480" width="8" height="10" fill="#00ff00"/>
<rect x="703" y="480" width="8" height="10" fill="#07f800"/>
<rect x="711" y="480" width="8" height="10" fill="#17e800"/>
<rect x="719" y="480" width="8" height="10" fill="#46b900"/>
<rect x="727" y="480" width="9" height="10" fill="#689700"/>
<rect x="736" y="480" width="8" height="10" fill="#837c00"/>
<rect x="744" y="480" width="8" height="10" fill="#986700"/>
<rect x="752" y="480" width="8" height="10" fill="#9e6100"/>
<rect x="760" y="480" width="8" height="10" fill="#936c00"/>
<rect x="768" y="480" width="8" height="10" fill="#768900"/>
<rect x="776" y="480" width="8" height="10" fill="#57a800"/>
<rect x="784" y="480" width="8" height="10" fill="#46b900"/>
<rect x="792" y="480" width="9" height="10" fill="#3dc200"/>
<rect x="801" y="480" width="8" height="10" fill="#3ac500"/>
<rect x="809" y="480" width="8" height="10" fill="#3cc300"/>
<rect x="817" y="480" width="8" height="10" fill="#43bc00"/>
<rect x="825" y="480" width="8" height="10" fill="#4ab500"/>
<rect x="833" y="480" width="8" height="10" fill="#50af00"/>
<rect x="841" y="480" width="8" height="10" fill="#4db200"/>
<rect x="849" y="480" width="8" height="10" fill="#3ec100"/>
<rect x="857" y="480" width="9" height="10" fill="#25da00"/>
<rect x="866" y="480" width="8" height="10" fill="#16e900"/>
<rect x="874" y="480" width="8" height="10" fill="#0ff000"/>
<rect x="882" y="480" width="8" height="10" fill="#0df200"/>
<rect x="890" y="480" width="8" height="10" fill="#0ef100"/>
<rect x="898" y="480" width="8" height="10" fill="#13ec00"/>
<rect x="906" y="480" width="8" height="10" fill="#1ae500"/>
<rect x="914" y="480" width="9" height="10" fill="#28d700"/>
<rect x="923" y="480" width="8" height="10" fill="#31ce00"/>
<rect x="931" y="480" width="8" height="10" fill="#32cd00"/>
<rect x="939" y="480" width="8" height="10" fill="#2ad500"/>
<rect x="947" y="480" width="8" height="10" fill="#1be400"/>
<rect x="955" y="480" width="8" height="10" fill="#13ec00"/>
<rect x="963" y="480" width="8" height="10" fill="#0df200"/>
<rect x="971" y="480" width="8" height="10" fill="#0cf300"/>
<rect x="979" y="480" width="9" height="10" fill="#10ef00"/>
<rect x="988" y="480" width="8" height="10" fill="#1de200"/>
<rect x="996" y="480" width="8" height="10" fill="#31ce00"/>
<rect x="1004" y="480" width="8" height="10" fill="#42bd00"/>
<rect x="240" y="490" width="8" height="10" fill="#0af500"/>
<rect x="248" y="490" width="8" height="10" fill="#0ff000"/>
<rect x="256" y="490" width="8" height="10" fill="#1ae500"/>
<rect x="264" y="490" width="8" height="10" fill="#29d600"/>
<rect x="272" y="490" width="8" height="10" fill="#2ad500"/>
<rect x="280" y="490" width="8" height="10" fill="#1fe000"/>
<rect x="288" y="490" width="8" height="10" fill="#15ea00"/>
<rect x="296" y="490" width="9" height="10" fill="#13ec00"/>
<rect x="305" y="490" width="8" height="10" fill="#1fe000"/>
<rect x="313" y="490" width="8" height="10" fill="#32cd00"/>
<rect x="321" y="490" width="8" height="10" fill="#50af00"/>
<rect x="329" y="490" width="8" height="10" fill="#877800"/>
<rect x="337" y="490" width="8" height="10" fill="#906f00"/>
<rect x="345" y="490" width="8" height="10" fill="#8a7500"/>
<rect x="353" y="490" width="8" height="10" fill="#758a00"/>
<rect x="361" y="490" width="9" height="10" fill="#5ba400"/>
<rect x="370" y="490" width="8" height="10" fill="#4bb400"/>
<rect x="378" y="490" width="8" height="10" fill="#40bf00"/>
<rect x="386" y="490" width="8" height="10" fill="#38c700"/>
<rect x="394" y="490" width="8" height="10" fill="#34cb00"/>
<rect x="402" y="490" width="8" height="10" fill="#31ce00"/>
<rect x="410" y="490" width="8" height="10" fill="#2cd300"/>
<rect x="418" y="490" width="9" height="10" fill="#23dc00"/>
<rect x="427" y="490" width="8" height="10" fill="#15ea00"/>
<rect x="435" y="490" width="8" height="10" fill="#0cf300"/>
<rect x="443" y="490" width="8" height="10" fill="#09f600"/>
<rect x="451" y="490" width="8" height="10" fill="#0bf400"/>
<rect x="459" y="490" width="8" height="10" fill="#0ef100"/>
<rect x="467" y="490" width="8" height="10" fill="#10ef00"/>
<rect x="475" y="490" width="8" height="10" fill="#0ff000"/>
<rect x="483" y="490" width="9" height="10" fill="#0df200"/>
<rect x="492" y="490" width="8" height="10" fill="#08f700"/>
<rect x="500" y="490" width="8" height="10" fill="#02fd00"/>
<rect x="508" y="490" width="8" height="10" fill="#00f807"/>
<rect x="516" y="490" width="8" height="10" fill="#00ed12"/>
<rect x="524" y="490" width="8" height="10" fill="#00e41b"/>
<rect x="532" y="490" width="8" height="10" fill="#00e21d"/>
<rect x="540" y="490" width="9" height="10" fill="#00e817"/>
<rect x="549" y="490" width="8" height="10" fill="#00f30c"/>
<rect x="557" y="490" width="8" height="10" fill="#00fc03"/>
<rect x="565" y="490" width="8" height="10" fill="#02fd00"/>
<rect x="573" y="490" width="8" height="10" fill="#01fe00"/>
<rect x="581" y="490" width="8" height="10" fill="#00fc03"/>
<rect x="589" y="490" width="8" height="10" fill="#00f50a"/>
<rect x="597" y="490" width="8" height="10" fill="#00ef10"/>
<rect x="605" y="490" width="9" height="10" fill="#00ea15"/>
<rect x="614" y="490" width="8" height="10" fill="#00e718"/>
<rect x="622" y="490" width="16" height="10" fill="#00e619"/>
<rect x="638" y="490" width="8" height="10" fill="#00e817"/>
<rect x="646" y="490" width="8" height="10" fill="#00eb14"/>
<rect x="654" y="490" width="8" height="10" fill="#00f10e"/>
<rect x="662" y="490" width="8" height="10" fill="#00f609"/>
<rect x="670" y="490" width="9" height="10" fill="#00fa05"/>
<rect x="679" y="490" width="8" height="10" fill="#00fc03"/>
<rect x="687" y="490" width="8" height="10" fill="#00fd02"/>
<rect x="695" y="490" width="8" height="10" fill="#01fe00"/>
<rect x="703" y="490" width="8" height="10" fill="#0af500"/>
<rect x="711" y="490" width="8" height="10" fill="#1ee100"/>
<rect x="719" y="490" width="8" height="10" fill="#50af00"/>
<rect x="727" y="490" width="9" height="10" fill="#6f9000"/>
<rect x="736" y="490" width="8" height="10" fill="#897600"/>
<rect x="744" y="490" width="8" height="10" fill="#a15e00"/>
<rect x="752" y="490" width="8" height="10" fill="#a95600"/>
<rect x="760" y="490" width="8" height="10" fill="#a15e00"/>
<rect x="768" y="490" width="8" height="10" fill="#827d00"/>
<rect x="776" y="490" width="8" height="10" fill="#619e00"/>
<rect x="784" y="490" width="8" height="10" fill="#50af00"/>
<rect x="792" y="490" width="9" height="10" fill="#47b800"/>
<rect x="801" y="490" width="8" height="10" fill="#45ba00"/>
<rect x="809" y="490" width="8" height="10" fill="#48b700"/>
<rect x="817" y="490" width="8" height="10" fill="#50af00"/>
<rect x="825" y="490" width="8" height="10" fill="#59a600"/>
<rect x="833" y="490" width="8" height="10" fill="#5fa000"/>
<rect x="841" y="490" width="8" height="10" fill="#5ca300"/>
<rect x="849" y="490" width="8" height="10" fill="#4db200"/>
<rect x="857" y="490" width="9" height="10" fill="#37c800"/>
<rect x="866" y="490" width="8" height="10" fill="#25da00"/>
<rect x="874" y="490" width="8" height="10" fill="#1de200"/>
<rect x="882" y="490" width="8" height="10" fill="#1be400"/>
<rect x="890" y="490" width="8" height="10" fill="#1fe000"/>
<rect x="898" y="490" width="8" height="10" fill="#28d700"/>
<rect x="906" y="490" width="8" height="10" fill="#38c700"/>
<rect x="914" y="490" width="9" height="10" fill="#55aa00"/>
<rect x="923" y="490" width="8" height="10" fill="#6d9200"/>
<rect x="931" y="490" width="8" height="10" fill="#728d00"/>
<rect x="939" y="490" width="8" height="10" fill="#699600"/>
<rect x="947" y="490" width="8" height="10" fill="#54ab00"/>
<rect x="955" y="490" width="8" height="10" fill="#38c700"/>
<rect x="963" y="490" width="8" height="10" fill="#18e700"/>
<rect x="971" y="490" width="8" height="10" fill="#0ef100"/>
<rect x="979" y="490" width="9" height="10" fill="#0cf300"/>
<rect x="988" y="490" width="8" height="10" fill="#13ec00"/>
<rect x="996" y="490" width="8" height="10" fill="#22dd00"/>
<rect x="1004" y="490" width="8" height="10" fill="#32cd00"/>
<rect x="231" y="500" width="9" height="10" fill="#09f600"/>
<rect x="240" y="500" width="8" height="10" fill="#0af500"/>
<rect x="248" y="500" width="8" height="10" fill="#0ef100"/>
<rect x="256" y="500" width="8" height="10" fill="#16e900"/>
<rect x="264" y="500" width="8" height="10" fill="#20df00"/>
<rect x="272" y="500" width="8" height="10" fill="#21de00"/>
<rect x="280" y="500" width="8" height="10" fill="#1ae500"/>
<rect x="288" y="500" width="8" height="10" fill="#12ed00"/>
<rect x="296" y="500" width="9" height="10" fill="#11ee00"/>
<rect x="305" y="500" width="8" height="10" fill="#1de200"/>
<rect x="313" y="500" width="8" height="10" fill="#2fd000"/>
<rect x="321" y="500" width="8" height="10" fill="#4db200"/>
<rect x="329" y="500" width="8" height="10" fill="#807f00"/>
<rect x="337" y="500" width="8" height="10" fill="#8b7400"/>
<rect x="345" y="500" width="8" height="10" fill="#857a00"/>
<rect x="353" y="500" width="8" height="10" fill="#718e00"/>
<rect x="361" y="500" width="9" height="10" fill="#58a700"/>
<rect x="370" y="500" width="8" height="10" fill="#48b700"/>
<rect x="378" y="500" width="8" height="10" fill="#3dc200"/>
<rect x="386" y="500" width="8" height="10" fill="#36c900"/>
<rect x="394" y="500" width="8" height="10" fill="#32cd00"/>
<rect x="402" y="500" width="8" height="10" fill="#2fd000"/>
<rect x="410" y="500" width="8" height="10" fill="#2bd400"/>
<rect x="418" y="500" width="9" height="10" fill="#22dd00"/>
<rect x="427" y="500" width="8" height="10" fill="#15ea00"/>
<rect x="435" y="500" width="8" height="10" fill="#0cf300"/>
<rect x="443" y="500" width="8" height="10" fill="#09f600"/>
<rect x="451" y="500" width="8" height="10" fill="#0af500"/>
<rect x="459" y="500" width="8" height="10" fill="#0df200"/>
<rect x="467" y="500" width="8" height="10" fill="#0ef100"/>
<rect x="475" y="500" width="8" height="10" fill="#0df200"/>
<rect x="483" y="500" width="9" height="10" fill="#0bf400"/>
<rect x="492" y="500" width="8" height="10" fill="#07f800"/>
<rect x="500" y="500" width="8" height="10" fill="#01fe00"/>
<rect x="508" y="500" width="8" height="10" fill="#00f708"/>
<rect x="516" y="500" width="8" height="10" fill="#00ec13"/>
<rect x="524" y="500" width="8" height="10" fill="#00e31c"/>
<rect x="532" y="500" width="8" height="10" fill="#00e11e"/>
<rect x="540" y="500" width="9" height="10" fill="#00e718"/>
<rect x="549" y="500" width="8" height="10" fill="#00f30c"/>
<rect x="557" y="500" width="8" height="10" fill="#00fc03"/>
<rect x="565" y="500" width="16" height="10" fill="#01fe00"/>
<rect x="581" y="500" width="8" height="10" fill="#00fb04"/>
<rect x="589" y="500" width="8" height="10" fill="#00f40b"/>
<rect x="597" y="500" width="8" height="10" fill="#00ee11"/>
<rect x="605" y="500" width="9" height="10" fill="#00e916"/>
<rect x="614" y="500" width="8" height="10" fill="#00e619"/>
<rect x="622" y="500" width="16" height="10" fill="#00e41b"/>
<rect x="638" y="500" width="8" height="10" fill="#00e619"/>
<rect x="646" y="500" width="8" height="10" fill="#00ea15"/>
<rect x="654" y="500" width="8" height="10" fill="#00f00f"/>
<rect x="662" y="500" width="8" height="10" fill="#00f609"/>
<rect x="670" y="500" width="9" height="10" fill="#00fa05"/>
<rect x="679" y="500" width="8" height="10" fill="#00fc03"/>
<rect x="687" y="500" width="8" height="10" fill="#00fe01"/>
<rect x="695" y="500" width="8" height="10" fill="#03fc00"/>
<rect x="703" y="500" width="8" height="10" fill="#0ef100"/>
<rect x="711" y="500" width="8" height="10" fill="#2bd400"/>
<rect x="719" y="500" width="8" height="10" fill="#54ab00"/>
<rect x="727" y="500" width="9" height="10" fill="#728d00"/>
<rect x="736" y="500" width="8" height="10" fill="#8f7000"/>
<rect x="744" y="500" width="8" height="10" fill="#a75800"/>
<rect x="752" y="500" width="8" height="10" fill="#b04f00"/>
<rect x="760" y="500" width="8" height="10" fill="#ab5400"/>
<rect x="768" y="500" width="8" height="10" fill="#906f00"/>
<rect x="776" y="500" width="8" height="10" fill="#738c00"/>
<rect x="784" y="500" width="8" height="10" fill="#619e00"/>
<rect x="792" y="500" width="9" height="10" fill="#57a800"/>
<rect x="801" y="500" width="8" height="10" fill="#54ab00"/>
<rect x="809" y="500" width="8" height="10" fill="#56a900"/>
<rect x="817" y="500" width="8" height="10" fill="#5da200"/>
<rect x="825" y="500" width="8" height="10" fill="#679800"/>
<rect x="833" y="500" width="8" height="10" fill="#6d9200"/>
<rect x="841" y="500" width="8" height="10" fill="#689700"/>
<rect x="849" y="500" width="8" height="10" fill="#57a800"/>
<rect x="857" y="500" width="9" height="10" fill="#44bb00"/>
<rect x="866" y="500" width="8" height="10" fill="#38c700"/>
<rect x="874" y="500" width="8" height="10" fill="#30cf00"/>
<rect x="882" y="500" width="8" height="10" fill="#2cd300"/>
<rect x="890" y="500" width="8" height="10" fill="#2ed100"/>
<rect x="898" y="500" width="8" height="10" fill="#36c900"/>
<rect x="906" y="500" width="8" height="10" fill="#46b900"/>
<rect x="914" y="500" width="9" height="10" fill="#916e00"/>
<rect x="923" y="500" width="8" height="10" fill="#ac5300"/>
<rect x="931" y="500" width="8" height="10" fill="#ad5200"/>
<rect x="939" y="500" width="8" height="10" fill="#9e6100"/>
<rect x="947" y="500" width="8" height="10" fill="#8d7200"/>
<rect x="955" y="500" width="8" height="10" fill="#679800"/>
<rect x="963" y="500" width="8" height="10" fill="#33cc00"/>
<rect x="971" y="500" width="8" height="10" fill="#14eb00"/>
<rect x="979" y="500" width="17" height="10" fill="#0cf300"/>
<rect x="231" y="510" width="9" height="10" fill="#09f600"/>
<rect x="240" y="510" width="8" height="10" fill="#0af500"/>
<rect x="248" y="510" width="8" height="10" fill="#0ef100"/>
<rect x="256" y="510" width="8" height="10" fill="#14eb00"/>
<rect x="264" y="510" width="8" height="10" fill="#1ae500"/>
<rect x="272" y="510" width="8" height="10" fill="#1be400"/>
<rect x="280" y="510" width="8" height="10" fill="#17e800"/>
<rect x="288" y="510" width="17" height="10" fill="#12ed00"/>
<rect x="305" y="510" width="8" height="10" fill="#1ce300"/>
<rect x="313" y="510" width="8" height="10" fill="#2cd300"/>
<rect x="321" y="510" width="8" height="10" fill="#46b900"/>
<rect x="329" y="510" width="8" height="10" fill="#708f00"/>
<rect x="337" y="510" width="8" height="10" fill="#7d8200"/>
<rect x="345" y="510" width="8" height="10" fill="#798600"/>
<rect x="353" y="510" width="8" height="10" fill="#689700"/>
<rect x="361" y="510" width="9" height="10" fill="#51ae00"/>
<rect x="370" y="510" width="8" height="10" fill="#42bd00"/>
<rect x="378" y="510" width="8" height="10" fill="#39c600"/>
<rect x="386" y="510" width="8" height="10" fill="#32cd00"/>
<rect x="394" y="510" width="8" height="10" fill="#2ed100"/>
<rect x="402" y="510" width="8" height="10" fill="#2bd400"/>
<rect x="410" y="510" width="8" height="10" fill="#27d800"/>
<rect x="418" y="510" width="9" height="10" fill="#1fe000"/>
<rect x="427" y="510" width="8" height="10" fill="#13ec00"/>
<rect x="435" y="510" width="8" height="10" fill="#0bf400"/>
<rect x="443" y="510" width="8" height="10" fill="#09f600"/>
<rect x="451" y="510" width="8" height="10" fill="#0af500"/>
<rect x="459" y="510" width="8" height="10" fill="#0bf400"/>
<rect x="467" y="510" width="8" height="10" fill="#0cf300"/>
<rect x="475" y="510" width="8" height="10" fill="#0bf400"/>
<rect x="483" y="510" width="9" height="10" fill="#09f600"/>
<rect x="492" y="510" width="8" height="10" fill="#05fa00"/>
<rect x="500" y="510" width="8" height="10" fill="#00ff00"/>
<rect x="508" y="510" width="8" height="10" fill="#00f609"/>
<rect x="516" y="510" width="8" height="10" fill="#00eb14"/>
<rect x="524" y="510" width="8" height="10" fill="#00e21d"/>
<rect x="532" y="510" width="8" height="10" fill="#00e01f"/>
<rect x="540" y="510" width="9" height="10" fill="#00e619"/>
<rect x="549" y="510" width="8" height="10" fill="#00f20d"/>
<rect x="557" y="510" width="8" height="10" fill="#00fc03"/>
<rect x="565" y="510" width="8" height="10" fill="#01fe00"/>
<rect x="573" y="510" width="8" height="10" fill="#00ff00"/>
<rect x="581" y="510" width="8" height="10" fill="#00fb04"/>
<rect x="589" y="510" width="8" height="10" fill="#00f50a"/>
<rect x="597" y="510" width="8" height="10" fill="#00ee11"/>
<rect x="605" y="510" width="9" height="10" fill="#00ea15"/>
<rect x="614" y="510" width="8" height="10" fill="#00e619"/>
<rect x="622" y="510" width="16" height="10" fill="#00e41b"/>
<rect x="638" y="510" width="8" height="10" fill="#00e718"/>
<rect x="646" y="510" width="8" height="10" fill="#00eb14"/>
<rect x="654" y="510" width="8" height="10" fill="#00f10e"/>
<rect x="662" y="510" width="8" height="10" fill="#00f609"/>
<rect x="670" y="510" width="9" height="10" fill="#00fa05"/>
<rect x="679" y="510" width="8" height="10" fill="#00fc03"/>
<rect x="687" y="510" width="8" height="10" fill="#00fe01"/>
<rect x="695" y="510" width="8" height="10" fill="#04fb00"/>
<rect x="703" y="510" width="8" height="10" fill="#11ee00"/>
<rect x="711" y="510" width="8" height="10" fill="#30cf00"/>
<rect x="719" y="510" width="8" height="10" fill="#57a800"/>
<rect x="727" y="510" width="9" height="10" fill="#758a00"/>
<rect x="736" y="510" width="8" height="10" fill="#946b00"/>
<rect x="744" y="510" width="8" height="10" fill="#ad5200"/>
<rect x="752" y="510" width="8" height="10" fill="#b84700"/>
<rect x="760" y="510" width="8" height="10" fill="#b54a00"/>
<rect x="768" y="510" width="8" height="10" fill="#a45b00"/>
<rect x="776" y="510" width="8" height="10" fill="#887700"/>
<rect x="784" y="510" width="8" height="10" fill="#778800"/>
<rect x="792" y="510" width="9" height="10" fill="#6c9300"/>
<rect x="801" y="510" width="8" height="10" fill="#689700"/>
<rect x="809" y="510" width="8" height="10" fill="#679800"/>
<rect x="817" y="510" width="8" height="10" fill="#6e9100"/>
<rect x="825" y="510" width="8" height="10" fill="#798600"/>
<rect x="833" y="510" width="8" height="10" fill="#817e00"/>
<rect x="841" y="510" width="8" height="10" fill="#7a8500"/>
<rect x="849" y="510" width="8" height="10" fill="#5fa000"/>
<rect x="857" y="510" width="9" height="10" fill="#4cb300"/>
<rect x="866" y="510" width="8" height="10" fill="#43bc00"/>
<rect x="874" y="510" width="8" height="10" fill="#3dc200"/>
<rect x="882" y="510" width="8" height="10" fill="#38c700"/>
<rect x="890" y="510" width="8" height="10" fill="#37c800"/>
<rect x="898" y="510" width="8" height="10" fill="#3cc300"/>
<rect x="906" y="510" width="8" height="10" fill="#47b800"/>
<rect x="914" y="510" width="9" height="10" fill="#ea1500"/>
<rect x="923" y="510" width="8" height="10" fill="#ed1200"/>
<rect x="931" y="510" width="8" height="10" fill="#e71800"/>
<rect x="939" y="510" width="8" height="10" fill="#d32c00"/>
<rect x="947" y="510" width="8" height="10" fill="#a75800"/>
<rect x="955" y="510" width="8" height="10" fill="#778800"/>
<rect x="963" y="510" width="8" height="10" fill="#42bd00"/>
<rect x="971" y="510" width="8" height="10" fill="#1ce300"/>
<rect x="979" y="510" width="9" height="10" fill="#0ff000"/>
<rect x="988" y="510" width="8" height="10" fill="#0af500"/>
<rect x="231" y="520" width="9" height="10" fill="#0af500"/>
<rect x="240" y="520" width="8" height="10" fill="#0bf400"/>
<rect x="248" y="520" width="8" height="10" fill="#0df200"/>
<rect x="256" y="520" width="8" height="10" fill="#12ed00"/>
<rect x="264" y="520" width="8" height="10" fill="#17e800"/>
<rect x="272" y="520" width="8" height="10" fill="#18e700"/>
<rect x="280" y="520" width="8" height="10" fill="#16e900"/>
<rect x="288" y="520" width="8" height="10" fill="#13ec00"/>
<rect x="296" y="520" width="9" height="10" fill="#14eb00"/>
<rect x="305" y="520" width="8" height="10" fill="#1ce300"/>
<rect x="313" y="520" width="8" height="10" fill="#28d700"/>
<rect x="321" y="520" width="8" height="10" fill="#3ac500"/>
<rect x="329" y="520" width="8" height="10" fill="#53ac00"/>
<rect x="337" y="520" width="8" height="10" fill="#669900"/>
<rect x="345" y="520" width="8" height="10" fill="#649b00"/>
<rect x="353" y="520" width="8" height="10" fill="#56a900"/>
<rect x="361" y="520" width="9" height="10" fill="#44bb00"/>
<rect x="370" y="520" width="8" height="10" fill="#39c600"/>
<rect x="378" y="520" width="8" height="10" fill="#32cd00"/>
<rect x="386" y="520" width="8" height="10" fill="#2cd300"/>
<rect x="394" y="520" width="8" height="10" fill="#28d700"/>
<rect x="402" y="520" width="8" height="10" fill="#26d900"/>
<rect x="410" y="520" width="8" height="10" fill="#22dd00"/>
<rect x="418" y="520" width="9" height="10" fill="#1ae500"/>
<rect x="427" y="520" width="8" height="10" fill="#11ee00"/>
<rect x="435" y="520" width="8" height="10" fill="#0bf400"/>
<rect x="443" y="520" width="8" height="10" fill="#08f700"/>
<rect x="451" y="520" width="8" height="10" fill="#09f600"/>
<rect x="459" y="520" width="16" height="10" fill="#0af500"/>
<rect x="475" y="520" width="8" height="10" fill="#09f600"/>
<rect x="483" y="520" width="9" height="10" fill="#07f800"/>
<rect x="492" y="520" width="8" height="10" fill="#04fb00"/>
<rect x="500" y="520" width="8" height="10" fill="#00fe01"/>
<rect x="508" y="520" width="8" height="10" fill="#00f50a"/>
<rect x="516" y="520" width="8" height="10" fill="#00eb14"/>
<rect x="524" y="520" width="8" height="10" fill="#00e11e"/>
<rect x="532" y="520" width="8" height="10" fill="#00df20"/>
<rect x="540" y="520" width="9" height="10" fill="#00e619"/>
<rect x="549" y="520" width="8" height="10" fill="#00f20d"/>
<rect x="557" y="520" width="8" height="10" fill="#00fb04"/>
<rect x="565" y="520" width="8" height="10" fill="#01fe00"/>
<rect x="573" y="520" width="8" height="10" fill="#00ff00"/>
<rect x="581" y="520" width="8" height="10" fill="#00fb04"/>
<rect x="589" y="520" width="8" height="10" fill="#00f609"/>
<rect x="597" y="520" width="8" height="10" fill="#00f10e"/>
<rect x="605" y="520" width="9" height="10" fill="#00ed12"/>
<rect x="614" y="520" width="8" height="10" fill="#00ea15"/>
<rect x="622" y="520" width="16" height="10" fill="#00e817"/>
<rect x="638" y="520" width="8" height="10" fill="#00ea15"/>
<rect x="646" y="520" width="8" height="10" fill="#00ee11"/>
<rect x="654" y="520" width="8" height="10" fill="#00f20d"/>
<rect x="662" y="520" width="8" height="10" fill="#00f708"/>
<rect x="670" y="520" width="9" height="10" fill="#00fb04"/>
<rect x="679" y="520" width="8" height="10" fill="#00fd02"/>
<rect x="687" y="520" width="8" height="10" fill="#00fe01"/>
<rect x="695" y="520" width="8" height="10" fill="#05fa00"/>
<rect x="703" y="520" width="8" height="10" fill="#12ed00"/>
<rect x="711" y="520" width="8" height="10" fill="#34cb00"/>
<rect x="719" y="520" width="8" height="10" fill="#5aa500"/>
<rect x="727" y="520" width="9" height="10" fill="#7a8500"/>
<rect x="736" y="520" width="8" height="10" fill="#9b6400"/>
<rect x="744" y="520" width="8" height="10" fill="#b74800"/>
<rect x="752" y="520" width="8" height="10" fill="#c33c00"/>
<rect x="760" y="520" width="8" height="10" fill="#c13e00"/>
<rect x="768" y="520" width="8" height="10" fill="#b54a00"/>
<rect x="776" y="520" width="8" height="10" fill="#a45b00"/>
<rect x="784" y="520" width="8" height="10" fill="#946b00"/>
<rect x="792" y="520" width="9" height="10" fill="#887700"/>
<rect x="801" y="520" width="8" height="10" fill="#817e00"/>
<rect x="809" y="520" width="8" height="10" fill="#827d00"/>
<rect x="817" y="520" width="8" height="10" fill="#887700"/>
<rect x="825" y="520" width="8" height="10" fill="#916e00"/>
<rect x="833" y="520" width="8" height="10" fill="#936c00"/>
<rect x="841" y="520" width="8" height="10" fill="#887700"/>
<rect x="849" y="520" width="8" height="10" fill="#669900"/>
<rect x="857" y="520" width="9" height="10" fill="#54ab00"/>
<rect x="866" y="520" width="8" height="10" fill="#4db200"/>
<rect x="874" y="520" width="8" height="10" fill="#47b800"/>
<rect x="882" y="520" width="8" height="10" fill="#3fc000"/>
<rect x="890" y="520" width="8" height="10" fill="#3cc300"/>
<rect x="898" y="520" width="8" height="10" fill="#3fc000"/>
<rect x="906" y="520" width="8" height="10" fill="#48b700"/>
<rect x="914" y="520" width="9" height="10" fill="#ff0202"/>
<rect x="923" y="520" width="8" height="10" fill="#ff0303"/>
<rect x="931" y="520" width="8" height="10" fill="#fd0200"/>
<rect x="939" y="520" width="8" height="10" fill="#ee1100"/>
<rect x="947" y="520" width="8" height="10" fill="#cc3300"/>
<rect x="955" y="520" width="8" height="10" fill="#7f8000"/>
<rect x="963" y="520" width="8" height="10" fill="#4bb400"/>
<rect x="971" y="520" width="8" height="10" fill="#28d700"/>
<rect x="979" y="520" width="9" height="10" fill="#14eb00"/>
<rect x="988" y="520" width="8" height="10" fill="#0cf300"/>
<rect x="231" y="530" width="9" height="10" fill="#0af500"/>
<rect x="240" y="530" width="8" height="10" fill="#0bf400"/>
<rect x="248" y="530" width="8" height="10" fill="#0df200"/>
<rect x="256" y="530" width="8" height="10" fill="#11ee00"/>
<rect x="264" y="530" width="8" height="10" fill="#15ea00"/>
<rect x="272" y="530" width="8" height="10" fill="#17e800"/>
<rect x="280" y="530" width="8" height="10" fill="#16e900"/>
<rect x="288" y="530" width="8" height="10" fill="#14eb00"/>
<rect x="296" y="530" width="9" height="10" fill="#15ea00"/>
<rect x="305" y="530" width="8" height="10" fill="#1be400"/>
<rect x="313" y="530" width="8" height="10" fill="#24db00"/>
<rect x="321" y="530" width="8" height="10" fill="#2fd000"/>
<rect x="329" y="530" width="8" height="10" fill="#3ec100"/>
<rect x="337" y="530" width="16" height="10" fill="#49b600"/>
<rect x="353" y="530" width="8" height="10" fill="#41be00"/>
<rect x="361" y="530" width="9" height="10" fill="#36c900"/>
<rect x="370" y="530" width="8" height="10" fill="#2fd000"/>
<rect x="378" y="530" width="8" height="10" fill="#2ad500"/>
<rect x="386" y="530" width="8" height="10" fill="#26d900"/>
<rect x="394" y="530" width="8" height="10" fill="#23dc00"/>
<rect x="402" y="530" width="8" height="10" fill="#20df00"/>
<rect x="410" y="530" width="8" height="10" fill="#1ce300"/>
<rect x="418" y="530" width="9" height="10" fill="#16e900"/>
<rect x="427" y="530" width="8" height="10" fill="#0ff000"/>
<rect x="435" y="530" width="8" height="10" fill="#0af500"/>
<rect x="443" y="530" width="32" height="10" fill="#08f700"/>
<rect x="475" y="530" width="8" height="10" fill="#07f800"/>
<rect x="483" y="530" width="9" height="10" fill="#05fa00"/>
<rect x="492" y="530" width="8" height="10" fill="#03fc00"/>
<rect x="500" y="530" width="8" height="10" fill="#00fd02"/>
<rect x="508" y="530" width="8" height="10" fill="#00f50a"/>
<rect x="516" y="530" width="8" height="10" fill="#00eb14"/>
<rect x="524" y="530" width="8" height="10" fill="#00e21d"/>
<rect x="532" y="530" width="8" height="10" fill="#00e01f"/>
<rect x="540" y="530" width="9" height="10" fill="#00e718"/>
<rect x="549" y="530" width="8" height="10" fill="#00f20d"/>
<rect x="557" y="530" width="8" height="10" fill="#00fb04"/>
<rect x="565" y="530" width="16" height="10" fill="#00ff00"/>
<rect x="581" y="530" width="8" height="10" fill="#00fd02"/>
<rect x="589" y="530" width="8" height="10" fill="#00f807"/>
<rect x="597" y="530" width="8" height="10" fill="#00f50a"/>
<rect x="605" y="530" width="9" height="10" fill="#00f20d"/>
<rect x="614" y="530" width="8" height="10" fill="#00f00f"/>
<rect x="622" y="530" width="16" height="10" fill="#00ef10"/>
<rect x="638" y="530" width="8" height="10" fill="#00f00f"/>
<rect x="646" y="530" width="8" height="10" fill="#00f30c"/>
<rect x="654" y="530" width="8" height="10" fill="#00f609"/>
<rect x="662" y="530" width="8" height="10" fill="#00f906"/>
<rect x="670" y="530" width="9" height="10" fill="#00fc03"/>
<rect x="679" y="530" width="8" height="10" fill="#00fd02"/>
<rect x="687" y="530" width="8" height="10" fill="#00ff00"/>
<rect x="695" y="530" width="8" height="10" fill="#05fa00"/>
<rect x="703" y="530" width="8" height="10" fill="#13ec00"/>
<rect x="711" y="530" width="8" height="10" fill="#39c600"/>
<rect x="719" y="530" width="8" height="10" fill="#639c00"/>
<rect x="727" y="530" width="9" height="10" fill="#857a00"/>
<rect x="736" y="530" width="8" height="10" fill="#ab5400"/>
<rect x="744" y="530" width="8" height="10" fill="#c73800"/>
<rect x="752" y="530" width="16" height="10" fill="#d22d00"/>
<rect x="768" y="530" width="8" height="10" fill="#c93600"/>
<rect x="776" y="530" width="8" height="10" fill="#bb4400"/>
<rect x="784" y="530" width="8" height="10" fill="#ae5100"/>
<rect x="792" y="530" width="9" height="10" fill="#a55a00"/>
<rect x="801" y="530" width="8" height="10" fill="#a35c00"/>
<rect x="809" y="530" width="8" height="10" fill="#ac5300"/>
<rect x="817" y="530" width="8" height="10" fill="#b04f00"/>
<rect x="825" y="530" width="8" height="10" fill="#ab5400"/>
<rect x="833" y="530" width="8" height="10" fill="#a45b00"/>
<rect x="841" y="530" width="8" height="10" fill="#936c00"/>
<rect x="849" y="530" width="8" height="10" fill="#708f00"/>
<rect x="857" y="530" width="9" height="10" fill="#609f00"/>
<rect x="866" y="530" width="8" height="10" fill="#5aa500"/>
<rect x="874" y="530" width="8" height="10" fill="#57a800"/>
<rect x="882" y="530" width="8" height="10" fill="#46b900"/>
<rect x="890" y="530" width="8" height="10" fill="#41be00"/>
<rect x="898" y="530" width="8" height="10" fill="#44bb00"/>
<rect x="906" y="530" width="8" height="10" fill="#50af00"/>
<rect x="914" y="530" width="9" height="10" fill="#ff0a0a"/>
<rect x="923" y="530" width="8" height="10" fill="#ff0c0c"/>
<rect x="931" y="530" width="8" height="10" fill="#ff0707"/>
<rect x="939" y="530" width="8" height="10" fill="#f90600"/>
<rect x="947" y="530" width="8" height="10" fill="#db2400"/>
<rect x="955" y="530" width="8" height="10" fill="#8c7300"/>
<rect x="963" y="530" width="8" height="10" fill="#54ab00"/>
<rect x="971" y="530" width="8" height="10" fill="#32cd00"/>
<rect x="979" y="530" width="9" height="10" fill="#1be400"/>
<rect x="988" y="530" width="8" height="10" fill="#10ef00"/>
<rect x="231" y="540" width="17" height="10" fill="#0bf400"/>
<rect x="248" y="540" width="8" height="10" fill="#0df200"/>
<rect x="256" y="540" width="8" height="10" fill="#11ee00"/>
<rect x="264" y="540" width="8" height="10" fill="#15ea00"/>
<rect x="272" y="540" width="8" height="10" fill="#16e900"/>
<rect x="280" y="540" width="16" height="10" fill="#15ea00"/>
<rect x="296" y="540" width="9" height="10" fill="#16e900"/>
<rect x="305" y="540" width="8" height="10" fill="#1ae500"/>
<rect x="313" y="540" width="8" height="10" fill="#20df00"/>
<rect x="321" y="540" width="8" height="10" fill="#27d800"/>
<rect x="329" y="540" width="8" height="10" fill="#2fd000"/>
<rect x="337" y="540" width="8" height="10" fill="#35ca00"/>
<rect x="345" y="540" width="8" height="10" fill="#36c900"/>
<rect x="353" y="540" width="8" height="10" fill="#31ce00"/>
<rect x="361" y="540" width="9" height="10" fill="#2bd400"/>
<rect x="370" y="540" width="8" height="10" fill="#27d800"/>
<rect x="378" y="540" width="8" height="10" fill="#24db00"/>
<rect x="386" y="540" width="8" height="10" fill="#21de00"/>
<rect x="394" y="540" width="8" height="10" fill="#1ee100"/>
<rect x="402" y="540" width="8" height="10" fill="#1be400"/>
<rect x="410" y="540" width="8" height="10" fill="#18e700"/>
<rect x="418" y="540" width="9" height="10" fill="#13ec00"/>
<rect x="427" y="540" width="8" height="10" fill="#0df200"/>
<rect x="435" y="540" width="8" height="10" fill="#09f600"/>
<rect x="443" y="540" width="16" height="10" fill="#07f800"/>
<rect x="459" y="540" width="8" height="10" fill="#05fa00"/>
<rect x="467" y="540" width="8" height="10" fill="#04fb00"/>
<rect x="475" y="540" width="17" height="10" fill="#02fd00"/>
<rect x="492" y="540" width="8" height="10" fill="#01fe00"/>
<rect x="500" y="540" width="8" height="10" fill="#00fb04"/>
<rect x="508" y="540" width="8" height="10" fill="#00f40b"/>
<rect x="516" y="540" width="8" height="10" fill="#00eb14"/>
<rect x="524" y="540" width="8" height="10" fill="#00e31c"/>
<rect x="532" y="540" width="8" height="10" fill="#00e11e"/>
<rect x="540" y="540" width="9" height="10" fill="#00e817"/>
<rect x="549" y="540" width="8" height="10" fill="#00f30c"/>
<rect x="557" y="540" width="8" height="10" fill="#00fb04"/>
<rect x="565" y="540" width="8" height="10" fill="#00ff00"/>
<rect x="573" y="540" width="8" height="10" fill="#01fe00"/>
<rect x="581" y="540" width="8" height="10" fill="#00fe01"/>
<rect x="589" y="540" width="8" height="10" fill="#00fc03"/>
<rect x="597" y="540" width="8" height="10" fill="#00f906"/>
<rect x="605" y="540" width="9" height="10" fill="#00f807"/>
<rect x="614" y="540" width="32" height="10" fill="#00f708"/>
<rect x="646" y="540" width="8" height="10" fill="#00f807"/>
<rect x="654" y="540" width="8" height="10" fill="#00fa05"/>
<rect x="662" y="540" width="8" height="10" fill="#00fc03"/>
<rect x="670" y="540" width="9" height="10" fill="#00fd02"/>
<rect x="679" y="540" width="8" height="10" fill="#00fe01"/>
<rect x="687" y="540" width="8" height="10" fill="#00ff00"/>
<rect x="695" y="540" width="8" height="10" fill="#05fa00"/>
<rect x="703" y="540" width="8" height="10" fill="#12ed00"/>
<rect x="711" y="540" width="8" height="10" fill="#50af00"/>
<rect x="719" y="540" width="8" height="10" fill="#738c00"/>
<rect x="727" y="540" width="9" height="10" fill="#a85700"/>
<rect x="736" y="540" width="8" height="10" fill="#c33c00"/>
<rect x="744" y="540" width="8" height="10" fill="#d72800"/>
<rect x="752" y="540" width="8" height="10" fill="#e11e00"/>
<rect x="760" y="540" width="8" height="10" fill="#e31c00"/>
<rect x="768" y="540" width="8" height="10" fill="#dd2200"/>
<rect x="776" y="540" width="8" height="10" fill="#d42b00"/>
<rect x="784" y="540" width="8" height="10" fill="#ce3100"/>
<rect x="792" y="540" width="9" height="10" fill="#cb3400"/>
<rect x="801" y="540" width="8" height="10" fill="#ce3100"/>
<rect x="809" y="540" width="8" height="10" fill="#d42b00"/>
<rect x="817" y="540" width="8" height="10" fill="#d12e00"/>
<rect x="825" y="540" width="8" height="10" fill="#c43b00"/>
<rect x="833" y="540" width="8" height="10" fill="#b44b00"/>
<rect x="841" y="540" width="8" height="10" fill="#9d6200"/>
<rect x="849" y="540" width="8" height="10" fill="#7c8300"/>
<rect x="857" y="540" width="17" height="10" fill="#6f9000"/>
<rect x="874" y="540" width="8" height="10" fill="#798600"/>
<rect x="882" y="540" width="8" height="10" fill="#4fb000"/>
<rect x="890" y="540" width="8" height="10" fill="#48b700"/>
<rect x="898" y="540" width="8" height="10" fill="#4cb300"/>
<rect x="906" y="540" width="8" height="10" fill="#5ea100"/>
<rect x="914" y="540" width="9" height="10" fill="#ff0b0b"/>
<rect x="923" y="540" width="8" height="10" fill="#ff0f0f"/>
<rect x="931" y="540" width="8" height="10" fill="#ff0b0b"/>
<rect x="939" y="540" width="8" height="10" fill="#fe0100"/>
<rect x="947" y="540" width="8" height="10" fill="#e31c00"/>
<rect x="955" y="540" width="8" height="10" fill="#b64900"/>
<rect x="963" y="540" width="8" height="10" fill="#748b00"/>
<rect x="971" y="540" width="8" height="10" fill="#44bb00"/>
<rect x="979" y="540" width="9" height="10" fill="#27d800"/>
<rect x="988" y="540" width="8" height="10" fill="#19e600"/>
<rect x="231" y="550" width="9" height="10" fill="#0bf400"/>
<rect x="240" y="550" width="8" height="10" fill="#0cf300"/>
<rect x="248" y="550" width="8" height="10" fill="#0df200"/>
<rect x="256" y="550" width="8" height="10" fill="#11ee00"/>
<rect x="264" y="550" width="8" height="10" fill="#14eb00"/>
<rect x="272" y="550" width="16" height="10" fill="#15ea00"/>
<rect x="288" y="550" width="8" height="10" fill="#14eb00"/>
<rect x="296" y="550" width="9" height="10" fill="#15ea00"/>
<rect x="305" y="550" width="8" height="10" fill="#18e700"/>
<rect x="313" y="550" width="8" height="10" fill="#1ce300"/>
<rect x="321" y="550" width="8" height="10" fill="#21de00"/>
<rect x="329" y="550" width="8" height="10" fill="#26d900"/>
<rect x="337" y="550" width="16" height="10" fill="#2ad500"/>
<rect x="353" y="550" width="8" height="10" fill="#27d800"/>
<rect x="361" y="550" width="9" height="10" fill="#24db00"/>
<rect x="370" y="550" width="8" height="10" fill="#21de00"/>
<rect x="378" y="550" width="8" height="10" fill="#20df00"/>
<rect x="386" y="550" width="8" height="10" fill="#1ee100"/>
<rect x="394" y="550" width="8" height="10" fill="#1be400"/>
<rect x="402" y="550" width="8" height="10" fill="#19e600"/>
<rect x="410" y="550" width="8" height="10" fill="#16e900"/>
<rect x="418" y="550" width="9" height="10" fill="#11ee00"/>
<rect x="427" y="550" width="8" height="10" fill="#0df200"/>
<rect x="435" y="550" width="8" height="10" fill="#09f600"/>
<rect x="443" y="550" width="8" height="10" fill="#07f800"/>
<rect x="451" y="550" width="8" height="10" fill="#05fa00"/>
<rect x="459" y="550" width="8" height="10" fill="#01fe00"/>
<rect x="467" y="550" width="8" height="10" fill="#00fc03"/>
<rect x="475" y="550" width="8" height="10" fill="#00fb04"/>
<rect x="483" y="550" width="9" height="10" fill="#00fc03"/>
<rect x="492" y="550" width="8" height="10" fill="#00fd02"/>
<rect x="500" y="550" width="8" height="10" fill="#00fa05"/>
<rect x="508" y="550" width="8" height="10" fill="#00f40b"/>
<rect x="516" y="550" width="8" height="10" fill="#00eb14"/>
<rect x="524" y="550" width="8" height="10" fill="#00e41b"/>
<rect x="532" y="550" width="8" height="10" fill="#00e31c"/>
<rect x="540" y="550" width="9" height="10" fill="#00e916"/>
<rect x="549" y="550" width="8" height="10" fill="#00f30c"/>
<rect x="557" y="550" width="8" height="10" fill="#00fb04"/>
<rect x="565" y="550" width="8" height="10" fill="#00ff00"/>
<rect x="573" y="550" width="8" height="10" fill="#01fe00"/>
<rect x="581" y="550" width="8" height="10" fill="#00ff00"/>
<rect x="589" y="550" width="8" height="10" fill="#00fe01"/>
<rect x="597" y="550" width="8" height="10" fill="#00fd02"/>
<rect x="605" y="550" width="49" height="10" fill="#00fc03"/>
<rect x="654" y="550" width="8" height="10" fill="#00fd02"/>
<rect x="662" y="550" width="25" height="10" fill="#00fe01"/>
<rect x="687" y="550" width="8" height="10" fill="#00ff00"/>
<rect x="695" y="550" width="8" height="10" fill="#05fa00"/>
<rect x="703" y="550" width="8" height="10" fill="#11ee00"/>
<rect x="711" y="550" width="8" height="10" fill="#619e00"/>
<rect x="719" y="550" width="8" height="10" fill="#996600"/>
<rect x="727" y="550" width="9" height="10" fill="#b74800"/>
<rect x="736" y="550" width="8" height="10" fill="#ce3100"/>
<rect x="744" y="550" width="8" height="10" fill="#e11e00"/>
<rect x="752" y="550" width="8" height="10" fill="#ed1200"/>
<rect x="760" y="550" width="8" height="10" fill="#f10e00"/>
<rect x="768" y="550" width="8" height="10" fill="#ef1000"/>
<rect x="776" y="550" width="8" height="10" fill="#eb1400"/>
<rect x="784" y="550" width="25" height="10" fill="#e81700"/>
<rect x="809" y="550" width="8" height="10" fill="#e61900"/>
<rect x="817" y="550" width="8" height="10" fill="#e01f00"/>
<rect x="825" y="550" width="8" height="10" fill="#d12e00"/>
<rect x="833" y="550" width="8" height="10" fill="#be4100"/>
<rect x="841" y="550" width="8" height="10" fill="#a45b00"/>
<rect x="849" y="550" width="8" height="10" fill="#857a00"/>
<rect x="857" y="550" width="9" height="10" fill="#7a8500"/>
<rect x="866" y="550" width="8" height="10" fill="#7e8100"/>
<rect x="874" y="550" width="8" height="10" fill="#926d00"/>
<rect x="882" y="550" width="8" height="10" fill="#5ba400"/>
<rect x="890" y="550" width="8" height="10" fill="#52ad00"/>
<rect x="898" y="550" width="8" height="10" fill="#5ba400"/>
<rect x="906" y="550" width="8" height="10" fill="#ae5100"/>
<rect x="914" y="550" width="9" height="10" fill="#ff0808"/>
<rect x="923" y="550" width="8" height="10" fill="#ff0f0f"/>
<rect x="931" y="550" width="8" height="10" fill="#ff0d0d"/>
<rect x="939" y="550" width="8" height="10" fill="#ff0202"/>
<rect x="947" y="550" width="8" height="10" fill="#ed1200"/>
<rect x="955" y="550" width="8" height="10" fill="#c13e00"/>
<rect x="963" y="550" width="8" height="10" fill="#837c00"/>
<rect x="971" y="550" width="8" height="10" fill="#639c00"/>
<rect x="979" y="550" width="9" height="10" fill="#4ab500"/>
<rect x="231" y="560" width="9" height="10" fill="#0bf400"/>
<rect x="240" y="560" width="8" height="10" fill="#0cf300"/>
<rect x="248" y="560" width="8" height="10" fill="#0df200"/>
<rect x="256" y="560" width="8" height="10" fill="#10ef00"/>
<rect x="264" y="560" width="8" height="10" fill="#13ec00"/>
<rect x="272" y="560" width="16" height="10" fill="#15ea00"/>
<rect x="288" y="560" width="8" height="10" fill="#14eb00"/>
<rect x="296" y="560" width="9" height="10" fill="#15ea00"/>
<rect x="305" y="560" width="8" height="10" fill="#17e800"/>
<rect x="313" y="560" width="8" height="10" fill="#1ae500"/>
<rect x="321" y="560" width="8" height="10" fill="#1de200"/>
<rect x="329" y="560" width="8" height="10" fill="#21de00"/>
<rect x="337" y="560" width="16" height="10" fill="#22dd00"/>
<rect x="353" y="560" width="8" height="10" fill="#21de00"/>
<rect x="361" y="560" width="9" height="10" fill="#1fe000"/>
<rect x="370" y="560" width="16" height="10" fill="#1de200"/>
<rect x="386" y="560" width="8" height="10" fill="#1be400"/>
<rect x="394" y="560" width="8" height="10" fill="#19e600"/>
<rect x="402" y="560" width="8" height="10" fill="#17e800"/>
<rect x="410" y="560" width="8" height="10" fill="#14eb00"/>
<rect x="418" y="560" width="9" height="10" fill="#10ef00"/>
<rect x="427" y="560" width="8" height="10" fill="#0cf300"/>
<rect x="435" y="560" width="8" height="10" fill="#09f600"/>
<rect x="443" y="560" width="8" height="10" fill="#06f900"/>
<rect x="451" y="560" width="8" height="10" fill="#03fc00"/>
<rect x="459" y="560" width="8" height="10" fill="#00fb04"/>
<rect x="467" y="560" width="8" height="10" fill="#00f30c"/>
<rect x="475" y="560" width="8" height="10" fill="#00f20d"/>
<rect x="483" y="560" width="9" height="10" fill="#00f708"/>
<rect x="492" y="560" width="8" height="10" fill="#00fb04"/>
<rect x="500" y="560" width="8" height="10" fill="#00f906"/>
<rect x="508" y="560" width="8" height="10" fill="#00f30c"/>
<rect x="516" y="560" width="8" height="10" fill="#00ec13"/>
<rect x="524" y="560" width="16" height="10" fill="#00e619"/>
<rect x="540" y="560" width="9" height="10" fill="#00ec13"/>
<rect x="549" y="560" width="8" height="10" fill="#00f50a"/>
<rect x="557" y="560" width="8" height="10" fill="#00fc03"/>
<rect x="565" y="560" width="8" height="10" fill="#00ff00"/>
<rect x="573" y="560" width="16" height="10" fill="#01fe00"/>
<rect x="589" y="560" width="16" height="10" fill="#00ff00"/>
<rect x="605" y="560" width="49" height="10" fill="#00fe01"/>
<rect x="654" y="560" width="41" height="10" fill="#00ff00"/>
<rect x="695" y="560" width="8" height="10" fill="#05fa00"/>
<rect x="703" y="560" width="8" height="10" fill="#10ef00"/>
<rect x="711" y="560" width="8" height="10" fill="#6b9400"/>
<rect x="719" y="560" width="8" height="10" fill="#a35c00"/>
<rect x="727" y="560" width="9" height="10" fill="#bd4200"/>
<rect x="736" y="560" width="8" height="10" fill="#d32c00"/>
<rect x="744" y="560" width="8" height="10" fill="#e71800"/>
<rect x="752" y="560" width="8" height="10" fill="#f60900"/>
<rect x="760" y="560" width="16" height="10" fill="#fe0100"/>
<rect x="776" y="560" width="8" height="10" fill="#fa0500"/>
<rect x="784" y="560" width="8" height="10" fill="#f70800"/>
<rect x="792" y="560" width="9" height="10" fill="#f50a00"/>
<rect x="801" y="560" width="8" height="10" fill="#f30c00"/>
<rect x="809" y="560" width="8" height="10" fill="#ef1000"/>
<rect x="817" y="560" width="8" height="10" fill="#e71800"/>
<rect x="825" y="560" width="8" height="10" fill="#d72800"/>
<rect x="833" y="560" width="8" height="10" fill="#c13e00"/>
<rect x="841" y="560" width="8" height="10" fill="#a65900"/>
<rect x="849" y="560" width="8" height="10" fill="#8a7500"/>
<rect x="874" y="560" width="8" height="10" fill="#cb3400"/>
<rect x="882" y="560" width="8" height="10" fill="#6b9400"/>
<rect x="890" y="560" width="8" height="10" fill="#619e00"/>
<rect x="898" y="560" width="8" height="10" fill="#708f00"/>
<rect x="906" y="560" width="8" height="10" fill="#f40b00"/>
<rect x="914" y="560" width="9" height="10" fill="#ff0707"/>
<rect x="923" y="560" width="16" height="10" fill="#ff0e0e"/>
<rect x="939" y="560" width="8" height="10" fill="#ff0505"/>
<rect x="947" y="560" width="8" height="10" fill="#f40b00"/>
<rect x="955" y="560" width="8" height="10" fill="#d02f00"/>
<rect x="963" y="560" width="8" height="10" fill="#8f7000"/>
<rect x="971" y="560" width="8" height="10" fill="#6f9000"/>
<rect x="979" y="560" width="9" height="10" fill="#5ea100"/>
<rect x="231" y="570" width="17" height="10" fill="#0cf300"/>
<rect x="248" y="570" width="8" height="10" fill="#0ef100"/>
<rect x="256" y="570" width="8" height="10" fill="#10ef00"/>
<rect x="264" y="570" width="8" height="10" fill="#12ed00"/>
<rect x="272" y="570" width="33" height="10" fill="#14eb00"/>
<rect x="305" y="570" width="8" height="10" fill="#16e900"/>
<rect x="313" y="570" width="8" height="10" fill="#18e700"/>
<rect x="321" y="570" width="8" height="10" fill="#1be400"/>
<rect x="329" y="570" width="8" height="10" fill="#1de200"/>
<rect x="337" y="570" width="16" height="10" fill="#1ee100"/>
<rect x="353" y="570" width="8" height="10" fill="#1ce300"/>
<rect x="361" y="570" width="9" height="10" fill="#1be400"/>
<rect x="370" y="570" width="16" height="10" fill="#1ae500"/>
<rect x="386" y="570" width="8" height="10" fill="#19e600"/>
<rect x="394" y="570" width="8" height="10" fill="#18e700"/>
<rect x="402" y="570" width="8" height="10" fill="#16e900"/>
<rect x="410" y="570" width="8" height="10" fill="#13ec00"/>
<rect x="418" y="570" width="9" height="10" fill="#10ef00"/>
<rect x="427" y="570" width="8" height="10" fill="#0cf300"/>
<rect x="435" y="570" width="8" height="10" fill="#08f700"/>
<rect x="443" y="570" width="8" height="10" fill="#06f900"/>
<rect x="451" y="570" width="8" height="10" fill="#02fd00"/>
<rect x="459" y="570" width="8" height="10" fill="#00f807"/>
<rect x="467" y="570" width="8" height="10" fill="#00ee11"/>
<rect x="475" y="570" width="8" height="10" fill="#00ed12"/>
<rect x="483" y="570" width="9" height="10" fill="#00f30c"/>
<rect x="492" y="570" width="8" height="10" fill="#00f906"/>
<rect x="500" y="570" width="8" height="10" fill="#00f807"/>
<rect x="508" y="570" width="8" height="10" fill="#00f40b"/>
<rect x="516" y="570" width="8" height="10" fill="#00ee11"/>
<rect x="524" y="570" width="16" height="10" fill="#00eb14"/>
<rect x="540" y="570" width="9" height="10" fill="#00f00f"/>
<rect x="549" y="570" width="8" height="10" fill="#00f708"/>
<rect x="557" y="570" width="8" height="10" fill="#00fc03"/>
<rect x="565" y="570" width="8" height="10" fill="#00ff00"/>
<rect x="573" y="570" width="16" height="10" fill="#01fe00"/>
<rect x="589" y="570" width="98" height="10" fill="#00ff00"/>
<rect x="687" y="570" width="8" height="10" fill="#01fe00"/>
<rect x="695" y="570" width="8" height="10" fill="#05fa00"/>
<rect x="703" y="570" width="8" height="10" fill="#10ef00"/>
<rect x="711" y="570" width="8" height="10" fill="#6e9100"/>
<rect x="719" y="570" width="8" height="10" fill="#a65900"/>
<rect x="727" y="570" width="9" height="10" fill="#c03f00"/>
<rect x="736" y="570" width="8" height="10" fill="#d52a00"/>
<rect x="744" y="570" width="8" height="10" fill="#ea1500"/>
<rect x="752" y="570" width="8" height="10" fill="#fc0300"/>
<rect x="760" y="570" width="8" height="10" fill="#ff0808"/>
<rect x="768" y="570" width="8" height="10" fill="#ff0909"/>
<rect x="776" y="570" width="8" height="10" fill="#ff0505"/>
<rect x="784" y="570" width="8" height="10" fill="#fe0100"/>
<rect x="792" y="570" width="9" height="10" fill="#fb0400"/>
<rect x="801" y="570" width="8" height="10" fill="#f80700"/>
<rect x="809" y="570" width="8" height="10" fill="#f30c00"/>
<rect x="817" y="570" width="8" height="10" fill="#e91600"/>
<rect x="825" y="570" width="8" height="10" fill="#d82700"/>
<rect x="833" y="570" width="8" height="10" fill="#c13e00"/>
<rect x="841" y="570" width="8" height="10" fill="#a35c00"/>
<rect x="849" y="570" width="8" height="10" fill="#887700"/>
<rect x="874" y="570" width="8" height="10" fill="#e21d00"/>
<rect x="882" y="570" width="8" height="10" fill="#cf3000"/>
<rect x="890" y="570" width="8" height="10" fill="#9e6100"/>
<rect x="898" y="570" width="8" height="10" fill="#cd3200"/>
<rect x="906" y="570" width="8" height="10" fill="#f70800"/>
<rect x="914" y="570" width="9" height="10" fill="#ff0707"/>
<rect x="923" y="570" width="16" height="10" fill="#ff0e0e"/>
<rect x="939" y="570" width="8" height="10" fill="#ff0707"/>
<rect x="947" y="570" width="8" height="10" fill="#fa0500"/>
<rect x="955" y="570" width="8" height="10" fill="#e81700"/>
<rect x="963" y="570" width="8" height="10" fill="#be4100"/>
<rect x="971" y="570" width="8" height="10" fill="#798600"/>
<rect x="979" y="570" width="9" height="10" fill="#689700"/>
<rect x="231" y="580" width="9" height="10" fill="#0cf300"/>
<rect x="240" y="580" width="8" height="10" fill="#0df200"/>
<rect x="248" y="580" width="8" height="10" fill="#0ef100"/>
<rect x="256" y="580" width="8" height="10" fill="#10ef00"/>
<rect x="264" y="580" width="8" height="10" fill="#12ed00"/>
<rect x="272" y="580" width="8" height="10" fill="#13ec00"/>
<rect x="280" y="580" width="25" height="10" fill="#14eb00"/>
<rect x="305" y="580" width="8" height="10" fill="#15ea00"/>
<rect x="313" y="580" width="8" height="10" fill="#17e800"/>
<rect x="321" y="580" width="8" height="10" fill="#19e600"/>
<rect x="329" y="580" width="8" height="10" fill="#1be400"/>
<rect x="337" y="580" width="8" height="10" fill="#1ce300"/>
<rect x="345" y="580" width="8" height="10" fill="#1be400"/>
<rect x="353" y="580" width="8" height="10" fill="#1ae500"/>
<rect x="361" y="580" width="9" height="10" fill="#19e600"/>
<rect x="370" y="580" width="24" height="10" fill="#18e700"/>
<rect x="394" y="580" width="8" height="10" fill="#17e800"/>
<rect x="402" y="580" width="8" height="10" fill="#15ea00"/>
<rect x="410" y="580" width="8" height="10" fill="#13ec00"/>
<rect x="418" y="580" width="9" height="10" fill="#0ff000"/>
<rect x="427" y="580" width="8" height="10" fill="#0bf400"/>
<rect x="435" y="580" width="8" height="10" fill="#08f700"/>
<rect x="443" y="580" width="8" height="10" fill="#06f900"/>
<rect x="451" y="580" width="8" height="10" fill="#01fe00"/>
<rect x="459" y="580" width="8" height="10" fill="#00f807"/>
<rect x="467" y="580" width="8" height="10" fill="#00ee11"/>
<rect x="475" y="580" width="8" height="10" fill="#00ed12"/>
<rect x="483" y="580" width="9" height="10" fill="#00f30c"/>
<rect x="492" y="580" width="16" height="10" fill="#00f807"/>
<rect x="508" y="580" width="8" height="10" fill="#00f40b"/>
<rect x="516" y="580" width="8" height="10" fill="#00f10e"/>
<rect x="524" y="580" width="8" height="10" fill="#00ef10"/>
<rect x="532" y="580" width="8" height="10" fill="#00f10e"/>
<rect x="540" y="580" width="9" height="10" fill="#00f609"/>
<rect x="549" y="580" width="8" height="10" fill="#00fa05"/>
<rect x="557" y="580" width="8" height="10" fill="#00fd02"/>
<rect x="565" y="580" width="122" height="10" fill="#00ff00"/>
<rect x="687" y="580" width="8" height="10" fill="#01fe00"/>
<rect x="695" y="580" width="8" height="10" fill="#05fa00"/>
<rect x="703" y="580" width="8" height="10" fill="#10ef00"/>
<rect x="711" y="580" width="8" height="10" fill="#6f9000"/>
<rect x="719" y="580" width="8" height="10" fill="#a75800"/>
<rect x="727" y="580" width="9" height="10" fill="#c13e00"/>
<rect x="736" y="580" width="8" height="10" fill="#d62900"/>
<rect x="744" y="580" width="8" height="10" fill="#ec1300"/>
<rect x="752" y="580" width="8" height="10" fill="#ff0101"/>
<rect x="760" y="580" width="8" height="10" fill="#ff0d0d"/>
<rect x="768" y="580" width="8" height="10" fill="#ff0f0f"/>
<rect x="776" y="580" width="8" height="10" fill="#ff0909"/>
<rect x="784" y="580" width="8" height="10" fill="#ff0202"/>
<rect x="792" y="580" width="9" height="10" fill="#fd0200"/>
<rect x="801" y="580" width="8" height="10" fill="#f90600"/>
<rect x="809" y="580" width="8" height="10" fill="#f40b00"/>
<rect x="817" y="580" width="8" height="10" fill="#ea1500"/>
<rect x="825" y="580" width="8" height="10" fill="#d92600"/>
<rect x="833" y="580" width="8" height="10" fill="#bf4000"/>
<rect x="841" y="580" width="8" height="10" fill="#976800"/>
<rect x="849" y="580" width="8" height="10" fill="#817e00"/>
<rect x="874" y="580" width="8" height="10" fill="#ec1300"/>
<rect x="882" y="580" width="8" height="10" fill="#e71800"/>
<rect x="890" y="580" width="8" height="10" fill="#e01f00"/>
<rect x="898" y="580" width="8" height="10" fill="#eb1400"/>
<rect x="906" y="580" width="8" height="10" fill="#fa0500"/>
<rect x="914" y="580" width="9" height="10" fill="#ff0808"/>
<rect x="923" y="580" width="8" height="10" fill="#ff0f0f"/>
<rect x="931" y="580" width="8" height="10" fill="#ff0e0e"/>
<rect x="939" y="580" width="8" height="10" fill="#ff0808"/>
<rect x="947" y="580" width="8" height="10" fill="#fd0200"/>
<rect x="955" y="580" width="8" height="10" fill="#f20d00"/>
<rect x="963" y="580" width="8" height="10" fill="#e31c00"/>
<rect x="971" y="580" width="8" height="10" fill="#887700"/>
<rect x="231" y="590" width="9" height="10" fill="#0cf300"/>
<rect x="240" y="590" width="8" height="10" fill="#0df200"/>
<rect x="248" y="590" width="8" height="10" fill="#0ef100"/>
<rect x="256" y="590" width="8" height="10" fill="#0ff000"/>
<rect x="264" y="590" width="8" height="10" fill="#11ee00"/>
<rect x="272" y="590" width="24" height="10" fill="#13ec00"/>
<rect x="296" y="590" width="17" height="10" fill="#14eb00"/>
<rect x="313" y="590" width="8" height="10" fill="#16e900"/>
<rect x="321" y="590" width="8" height="10" fill="#18e700"/>
<rect x="329" y="590" width="8" height="10" fill="#19e600"/>
<rect x="337" y="590" width="16" height="10" fill="#1ae500"/>
<rect x="353" y="590" width="8" height="10" fill="#18e700"/>
<rect x="361" y="590" width="33" height="10" fill="#17e800"/>
<rect x="394" y="590" width="8" height="10" fill="#16e900"/>
<rect x="402" y="590" width="8" height="10" fill="#14eb00"/>
<rect x="410" y="590" width="8" height="10" fill="#12ed00"/>
<rect x="418" y="590" width="9" height="10" fill="#0ff000"/>
<rect x="427" y="590" width="8" height="10" fill="#0bf400"/>
<rect x="435" y="590" width="8" height="10" fill="#08f700"/>
<rect x="443" y="590" width="8" height="10" fill="#06f900"/>
<rect x="451" y="590" width="8" height="10" fill="#02fd00"/>
<rect x="459" y="590" width="8" height="10" fill="#00f906"/>
<rect x="467" y="590" width="8" height="10" fill="#00f10e"/>
<rect x="475" y="590" width="8" height="10" fill="#00ef10"/>
<rect x="483" y="590" width="9" height="10" fill="#00f40b"/>
<rect x="492" y="590" width="16" height="10" fill="#00f807"/>
<rect x="508" y="590" width="8" height="10" fill="#00f50a"/>
<rect x="516" y="590" width="16" height="10" fill="#00f30c"/>
<rect x="532" y="590" width="8" height="10" fill="#00f609"/>
<rect x="540" y="590" width="9" height="10" fill="#00f906"/>
<rect x="549" y="590" width="8" height="10" fill="#00fc03"/>
<rect x="557" y="590" width="8" height="10" fill="#00fe01"/>
<rect x="565" y="590" width="122" height="10" fill="#00ff00"/>
<rect x="687" y="590" width="8" height="10" fill="#01fe00"/>
<rect x="695" y="590" width="8" height="10" fill="#05fa00"/>
<rect x="703" y="590" width="8" height="10" fill="#10ef00"/>
<rect x="711" y="590" width="8" height="10" fill="#6f9000"/>
<rect x="719" y="590" width="8" height="10" fill="#a85700"/>
<rect x="727" y="590" width="9" height="10" fill="#c13e00"/>
<rect x="736" y="590" width="8" height="10" fill="#d72800"/>
<rect x="744" y="590" width="8" height="10" fill="#ed1200"/>
<rect x="752" y="590" width="8" height="10" fill="#ff0202"/>
<rect x="760" y="590" width="8" height="10" fill="#ff0f0f"/>
<rect x="768" y="590" width="8" height="10" fill="#ff1111"/>
<rect x="776" y="590" width="8" height="10" fill="#ff0b0b"/>
<rect x="784" y="590" width="8" height="10" fill="#ff0303"/>
<rect x="792" y="590" width="9" height="10" fill="#fd0200"/>
<rect x="801" y="590" width="8" height="10" fill="#f90600"/>
<rect x="809" y="590" width="8" height="10" fill="#f40b00"/>
<rect x="817" y="590" width="8" height="10" fill="#ea1500"/>
<rect x="825" y="590" width="8" height="10" fill="#d92600"/>
<rect x="833" y="590" width="8" height="10" fill="#be4100"/>
<rect x="841" y="590" width="8" height="10" fill="#916e00"/>
<rect x="849" y="590" width="8" height="10" fill="#7c8300"/>
<rect x="874" y="590" width="8" height="10" fill="#f20d00"/>
<rect x="882" y="590" width="8" height="10" fill="#ef1000"/>
<rect x="890" y="590" width="8" height="10" fill="#ed1200"/>
<rect x="898" y="590" width="8" height="10" fill="#f20d00"/>
<rect x="906" y="590" width="8" height="10" fill="#fc0300"/>
<rect x="914" y="590" width="9" height="10" fill="#ff0808"/>
<rect x="923" y="590" width="16" height="10" fill="#ff0f0f"/>
<rect x="939" y="590" width="8" height="10" fill="#ff0909"/>
<rect x="947" y="590" width="8" height="10" fill="#ff0000"/>
<rect x="955" y="590" width="8" height="10" fill="#f60900"/>
<rect x="963" y="590" width="8" height="10" fill="#ed1200"/>
<rect x="467" y="190" width="1" height="10" fill="#b8500a"/>
<rect x="565" y="220" width="1" height="10" fill="#f01810"/>
<rect x="987" y="210" width="1" height="10" fill="#e02808"/>
</g>
<defs><linearGradient id="cb" x1="0" y1="0" x2="0" y2="1"><stop offset="0" stop-color="#fff"/><stop offset=".25" stop-color="#f00"/><stop offset=".5" stop-color="#0f0"/><stop offset=".75" stop-color="#00f"/><stop offset="1" stop-color="#000"/></linearGradient></defs>
<rect x="1163" y="107" width="51" height="507" fill="url(#cb)"/>
<g shape-rendering="crispEdges" stroke-width="1" fill="none">
<rect x="142.5" y="107.5" width="996" height="506" stroke="#000"/>
</g>
<g shape-rendering="crispEdges" stroke-width="1" fill="none" stroke="#989898" stroke-dasharray="2 2" style="mix-blend-mode:luminosity">
<line x1="142.5" y1="107" x2="142.5" y2="614" stroke-dashoffset="0"/>
<line x1="253.5" y1="107" x2="253.5" y2="290" stroke-dashoffset="0"/>
<line x1="253.5" y1="450" x2="253.5" y2="614" stroke-dashoffset="3"/>
<line x1="363.5" y1="107" x2="363.5" y2="270" stroke-dashoffset="0"/>
<line x1="363.5" y1="330" x2="363.5" y2="614" stroke-dashoffset="3"/>
<line x1="474.5" y1="107" x2="474.5" y2="614" stroke-dashoffset="0"/>
<line x1="585.5" y1="107" x2="585.5" y2="614" stroke-dashoffset="0"/>
<line x1="695.5" y1="107" x2="695.5" y2="614" stroke-dashoffset="0"/>
<line x1="806.5" y1="107" x2="806.5" y2="614" stroke-dashoffset="0"/>
<line x1="917.5" y1="107" x2="917.5" y2="614" stroke-dashoffset="0"/>
<line x1="1027.5" y1="107" x2="1027.5" y2="614" stroke-dashoffset="0"/>
<line x1="1138.5" y1="107" x2="1138.5" y2="614" stroke-dashoffset="0"/>
<line x1="142" y1="613.5" x2="1139" y2="613.5" stroke-dashoffset="1"/>
<line x1="142" y1="541.5" x2="1139" y2="541.5" stroke-dashoffset="1"/>
<line x1="142" y1="468.5" x2="1139" y2="468.5" stroke-dashoffset="1"/>
<line x1="142" y1="396.5" x2="231" y2="396.5" stroke-dashoffset="1"/>
<line x1="305" y1="396.5" x2="882" y2="396.5" stroke-dashoffset="0"/>
<line x1="914" y1="396.5" x2="1139" y2="396.5" stroke-dashoffset="1"/>
<line x1="142" y1="324.5" x2="231" y2="324.5" stroke-dashoffset="1"/>
<line x1="386" y1="324.5" x2="1139" y2="324.5" stroke-dashoffset="1"/>
<line x1="142" y1="252.5" x2="272" y2="252.5" stroke-dashoffset="1"/>
<line x1="280" y1="252.5" x2="1139" y2="252.5" stroke-dashoffset="3"/>
<line x1="142" y1="179.5" x2="1139" y2="179.5" stroke-dashoffset="1"/>
<line x1="142" y1="107.5" x2="1139" y2="107.5" stroke-dashoffset="1"/>
</g>
<g shape-rendering="crispEdges" stroke-width="1" fill="none">
<line x1="142.5" y1="614" x2="142.5" y2="603" stroke="#000"/>
<line x1="142.5" y1="107" x2="142.5" y2="118" stroke="#000"/>
<line x1="253.5" y1="614" x2="253.5" y2="603" stroke="#000"/>
<line x1="253.5" y1="107" x2="253.5" y2="118" stroke="#000"/>
<line x1="363.5" y1="614" x2="363.5" y2="603" stroke="#000"/>
<line x1="363.5" y1="107" x2="363.5" y2="118" stroke="#000"/>
<line x1="474.5" y1="614" x2="474.5" y2="603" stroke="#000"/>
<line x1="474.5" y1="107" x2="474.5" y2="118" stroke="#000"/>
<line x1="585.5" y1="614" x2="585.5" y2="603" stroke="#000"/>
<line x1="585.5" y1="107" x2="585.5" y2="118" stroke="#000"/>
<line x1="695.5" y1="614" x2="695.5" y2="603" stroke="#000"/>
<line x1="695.5" y1="107" x2="695.5" y2="118" stroke="#000"/>
<line x1="806.5" y1="614" x2="806.5" y2="603" stroke="#000"/>
<line x1="806.5" y1="107" x2="806.5" y2="118" stroke="#000"/>
<line x1="917.5" y1="614" x2="917.5" y2="603" stroke="#000"/>
<line x1="917.5" y1="107" x2="917.5" y2="118" stroke="#000"/>
<line x1="1027.5" y1="614" x2="1027.5" y2="603" stroke="#000"/>
<line x1="1027.5" y1="107" x2="1027.5" y2="118" stroke="#000"/>
<line x1="1138.5" y1="614" x2="1138.5" y2="603" stroke="#000"/>
<line x1="1138.5" y1="107" x2="1138.5" y2="118" stroke="#000"/>
<line x1="142" y1="613.5" x2="153" y2="613.5" stroke="#000"/>
<line x1="1139" y1="613.5" x2="1128" y2="613.5" stroke="#000"/>
<line x1="142" y1="541.5" x2="153" y2="541.5" stroke="#000"/>
<line x1="1139" y1="541.5" x2="1128" y2="541.5" stroke="#000"/>
<line x1="142" y1="468.5" x2="153" y2="468.5" stroke="#000"/>
<line x1="1139" y1="468.5" x2="1128" y2="468.5" stroke="#000"/>
<line x1="142" y1="396.5" x2="153" y2="396.5" stroke="#000"/>
<line x1="1139" y1="396.5" x2="1128" y2="396.5" stroke="#000"/>
<line x1="142" y1="324.5" x2="153" y2="324.5" stroke="#000"/>
<line x1="1139" y1="324.5" x2="1128" y2="324.5" stroke="#000"/>
<line x1="142" y1="252.5" x2="153" y2="252.5" stroke="#000"/>
<line x1="1139" y1="252.5" x2="1128" y2="252.5" stroke="#000"/>
<line x1="142" y1="179.5" x2="153" y2="179.5" stroke="#000"/>
<line x1="1139" y1="179.5" x2="1128" y2="179.5" stroke="#000"/>
<line x1="142" y1="107.5" x2="153" y2="107.5" stroke="#000"/>
<line x1="1139" y1="107.5" x2="1128" y2="107.5" stroke="#000"/>
<rect x="1163.5" y="107.5" width="50" height="506" stroke="#000"/>
<line x1="1163" y1="171.5" x2="1170" y2="171.5" stroke="#000"/>
<line x1="1214" y1="171.5" x2="1207" y2="171.5" stroke="#000"/>
<line x1="1163" y1="234.5" x2="1170" y2="234.5" stroke="#000"/>
<line x1="1214" y1="234.5" x2="1207" y2="234.5" stroke="#000"/>
<line x1="1163" y1="297.5" x2="1170" y2="297.5" stroke="#000"/>
<line x1="1214" y1="297.5" x2="1207" y2="297.5" stroke="#000"/>
<line x1="1163" y1="360.5" x2="1170" y2="360.5" stroke="#000"/>
<line x1="1214" y1="360.5" x2="1207" y2="360.5" stroke="#000"/>
<line x1="1163" y1="424.5" x2="1170" y2="424.5" stroke="#000"/>
<line x1="1214" y1="424.5" x2="1207" y2="424.5" stroke="#000"/>
<line x1="1163" y1="487.5" x2="1170" y2="487.5" stroke="#000"/>
<line x1="1214" y1="487.5" x2="1207" y2="487.5" stroke="#000"/>
<line x1="1163" y1="550.5" x2="1170" y2="550.5" stroke="#000"/>
<line x1="1214" y1="550.5" x2="1207" y2="550.5" stroke="#000"/>
</g>
<text x="141.4" y="644.5" text-anchor="middle">500</text>
<text x="252.1" y="644.5" text-anchor="middle">1000</text>
<text x="362.7" y="644.5" text-anchor="middle">1500</text>
<text x="473.4" y="644.5" text-anchor="middle">2000</text>
<text x="584.1" y="644.5" text-anchor="middle">2500</text>
<text x="694.7" y="644.5" text-anchor="middle">3000</text>
<text x="805.4" y="644.5" text-anchor="middle">3500</text>
<text x="916.1" y="644.5" text-anchor="middle">4000</text>
<text x="1026.7" y="644.5" text-anchor="middle">4500</text>
<text x="1137.4" y="644.5" text-anchor="middle">5000</text>
<text x="125" y="618.3" text-anchor="end">0</text>
<text x="125" y="546.0" text-anchor="end">50</text>
<text x="125" y="473.7" text-anchor="end">100</text>
<text x="125" y="401.4" text-anchor="end">150</text>
<text x="125" y="329.2" text-anchor="end">200</text>
<text x="125" y="256.9" text-anchor="end">250</text>
<text x="125" y="184.6" text-anchor="end">300</text>
<text x="125" y="112.3" text-anchor="end">350</text>
<text x="1227.5" y="111.8">400</text>
<text x="1227.5" y="175.1">300</text>
<text x="1227.5" y="238.3">200</text>
<text x="1227.5" y="301.6">100</text>
<text x="1227.5" y="364.8">0</text>
<text x="1222.8" y="428.1">-100</text>
<text x="1222.8" y="491.3">-200</text>
<text x="1222.8" y="554.5">-300</text>
<text x="1222.8" y="617.8">-400</text>
<text x="638" y="83.5" text-anchor="middle" xml:space="preserve" style="white-space:pre">Luftmasse (Abweichung vom Soll) [mg/Hub]   (BVK Originaldichtung)</text>
<text x="638" y="672.5" text-anchor="middle">Drehzahl [1/min]</text>
<text transform="translate(87,361) rotate(-90)" text-anchor="middle">Drehmoment [Nm]</text>
</svg></body></html>
